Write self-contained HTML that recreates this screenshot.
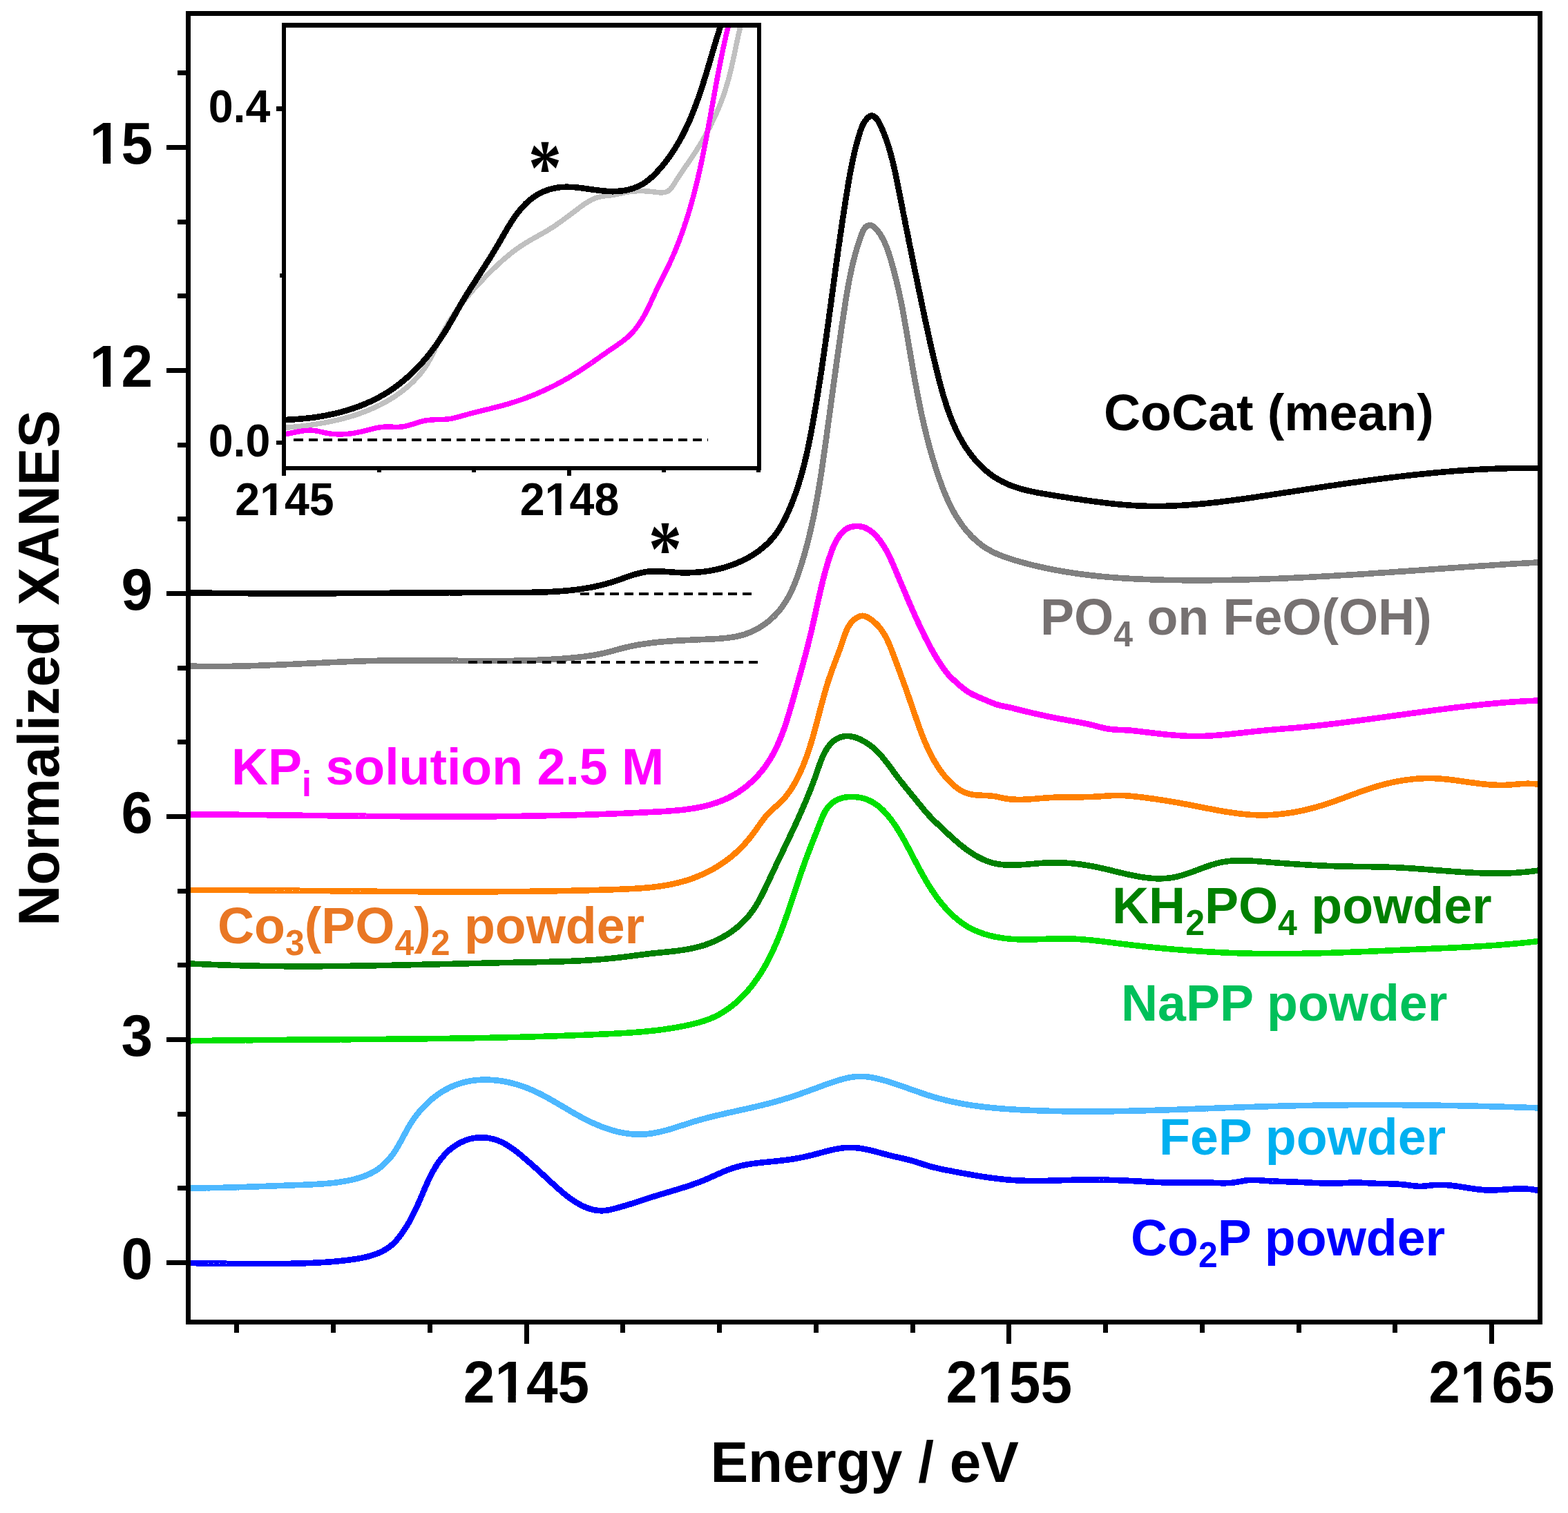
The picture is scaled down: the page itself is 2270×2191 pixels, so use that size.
<!DOCTYPE html>
<html lang="en"><head><meta charset="utf-8"><title>Normalized XANES</title>
<style>html,body{margin:0;padding:0;background:#fff}svg{display:block}text{font-family:"Liberation Sans",Arial,Helvetica,sans-serif;font-weight:bold}.ax{font-size:82px}.in{font-size:64.5px}.lb{font-size:73.5px}.sub{font-size:50px}.st{font-family:"Liberation Serif","DejaVu Serif",serif;font-weight:bold;font-size:114.3px}</style></head><body>
<svg xmlns="http://www.w3.org/2000/svg" width="2270" height="2191" viewBox="0 0 2270 2191">
<rect width="2270" height="2191" fill="#fff"/>
<defs><clipPath id="cm"><rect x="272.5" y="19.5" width="1957.0" height="1895.0"/></clipPath><clipPath id="ci"><rect x="411.3" y="36.5" width="687.7" height="641.7"/></clipPath></defs>
<g clip-path="url(#cm)" fill="none" stroke-linejoin="round" stroke-linecap="butt" shape-rendering="crispEdges">
<path d="M269.5,1828.9 L271.5,1828.9 L273.5,1829.0 L275.5,1829.0 L277.5,1829.1 L279.5,1829.1 L281.5,1829.1 L283.5,1829.2 L285.5,1829.2 L287.5,1829.2 L289.5,1829.3 L291.5,1829.3 L293.5,1829.3 L295.5,1829.4 L297.5,1829.4 L299.5,1829.4 L301.5,1829.5 L303.5,1829.5 L305.5,1829.5 L307.5,1829.5 L309.5,1829.6 L311.5,1829.6 L313.5,1829.6 L315.5,1829.6 L317.5,1829.7 L319.5,1829.7 L321.5,1829.7 L323.5,1829.7 L325.5,1829.7 L327.5,1829.8 L329.5,1829.8 L331.5,1829.8 L333.5,1829.8 L335.5,1829.8 L337.5,1829.8 L339.5,1829.8 L341.5,1829.9 L343.5,1829.9 L345.5,1829.9 L347.5,1829.9 L349.5,1829.9 L351.5,1829.9 L353.5,1829.9 L355.5,1829.9 L357.5,1829.9 L359.5,1829.9 L361.4,1830.0 L363.4,1830.0 L365.4,1830.0 L367.4,1830.0 L369.4,1830.0 L371.4,1830.0 L373.4,1830.0 L375.4,1830.0 L377.4,1830.0 L379.4,1830.0 L381.4,1830.0 L383.4,1830.0 L385.4,1830.0 L387.4,1830.0 L389.4,1830.0 L391.4,1830.0 L393.4,1830.0 L395.5,1830.0 L397.5,1830.0 L399.5,1830.0 L401.5,1830.0 L403.5,1829.9 L405.5,1829.9 L407.5,1829.9 L409.5,1829.9 L411.5,1829.9 L413.5,1829.9 L415.5,1829.8 L417.5,1829.8 L419.5,1829.8 L421.5,1829.8 L423.5,1829.7 L425.5,1829.7 L427.5,1829.7 L429.5,1829.6 L431.5,1829.6 L433.5,1829.5 L435.5,1829.5 L437.5,1829.4 L439.5,1829.3 L441.5,1829.3 L443.5,1829.2 L445.5,1829.1 L447.5,1829.1 L449.5,1829.0 L451.5,1828.9 L453.5,1828.8 L455.5,1828.7 L457.5,1828.6 L459.5,1828.5 L461.5,1828.4 L463.5,1828.3 L465.5,1828.2 L467.5,1828.1 L469.5,1827.9 L471.5,1827.8 L473.4,1827.7 L475.4,1827.5 L477.4,1827.4 L479.4,1827.2 L481.4,1827.0 L483.4,1826.9 L485.4,1826.7 L487.4,1826.5 L489.4,1826.3 L491.4,1826.1 L493.3,1825.9 L495.3,1825.7 L497.3,1825.5 L499.3,1825.3 L501.3,1825.0 L503.3,1824.8 L505.3,1824.5 L507.2,1824.3 L509.2,1824.0 L511.2,1823.7 L513.2,1823.5 L515.1,1823.2 L517.1,1822.9 L519.1,1822.5 L521.0,1822.2 L523.0,1821.8 L525.0,1821.4 L526.9,1821.0 L528.9,1820.6 L530.8,1820.1 L532.8,1819.6 L534.7,1819.1 L536.6,1818.5 L538.5,1818.0 L540.5,1817.3 L542.4,1816.7 L544.2,1816.0 L546.1,1815.3 L548.0,1814.5 L549.8,1813.7 L551.6,1812.8 L553.4,1812.0 L555.2,1811.0 L557.0,1810.0 L558.7,1809.0 L560.4,1808.0 L562.0,1806.8 L563.6,1805.7 L565.2,1804.5 L566.8,1803.2 L568.3,1801.9 L569.7,1800.5 L571.2,1799.1 L572.6,1797.7 L573.9,1796.2 L575.2,1794.7 L576.5,1793.1 L577.8,1791.5 L579.0,1789.9 L580.2,1788.3 L581.4,1786.7 L582.6,1785.1 L583.7,1783.4 L584.8,1781.8 L585.9,1780.1 L587.0,1778.4 L588.1,1776.8 L589.1,1775.1 L590.1,1773.4 L591.1,1771.7 L592.1,1769.9 L593.1,1768.2 L594.0,1766.5 L595.0,1764.7 L595.9,1763.0 L596.8,1761.2 L597.7,1759.4 L598.6,1757.7 L599.5,1755.9 L600.4,1754.1 L601.2,1752.3 L602.1,1750.5 L602.9,1748.7 L603.8,1746.9 L604.6,1745.0 L605.4,1743.2 L606.2,1741.4 L607.0,1739.5 L607.8,1737.7 L608.7,1735.8 L609.4,1734.0 L610.2,1732.1 L611.0,1730.3 L611.8,1728.4 L612.6,1726.5 L613.4,1724.7 L614.2,1722.8 L615.0,1721.0 L615.8,1719.1 L616.6,1717.2 L617.5,1715.4 L618.3,1713.5 L619.1,1711.7 L620.0,1709.9 L620.8,1708.0 L621.7,1706.2 L622.6,1704.4 L623.5,1702.6 L624.4,1700.8 L625.3,1699.0 L626.2,1697.3 L627.2,1695.5 L628.2,1693.8 L629.2,1692.1 L630.2,1690.4 L631.2,1688.7 L632.3,1687.0 L633.3,1685.3 L634.5,1683.7 L635.6,1682.1 L636.7,1680.5 L637.9,1678.9 L639.1,1677.4 L640.4,1675.9 L641.7,1674.4 L643.0,1672.9 L644.3,1671.4 L645.7,1670.0 L647.1,1668.6 L648.5,1667.3 L650.0,1665.9 L651.5,1664.6 L653.1,1663.4 L654.7,1662.1 L656.3,1660.9 L658.0,1659.8 L659.7,1658.6 L661.4,1657.6 L663.1,1656.5 L664.9,1655.5 L666.7,1654.6 L668.6,1653.7 L670.4,1652.8 L672.3,1652.0 L674.2,1651.3 L676.1,1650.6 L678.0,1650.0 L680.0,1649.4 L681.9,1648.9 L683.9,1648.5 L685.8,1648.1 L687.8,1647.8 L689.8,1647.6 L691.7,1647.4 L693.7,1647.3 L695.7,1647.2 L697.7,1647.2 L699.7,1647.3 L701.7,1647.4 L703.6,1647.6 L705.6,1647.8 L707.6,1648.1 L709.5,1648.5 L711.4,1648.9 L713.4,1649.4 L715.3,1649.9 L717.2,1650.5 L719.1,1651.1 L721.0,1651.8 L722.8,1652.5 L724.7,1653.3 L726.5,1654.1 L728.3,1655.0 L730.0,1655.9 L731.8,1656.9 L733.5,1657.9 L735.2,1658.9 L736.9,1660.0 L738.6,1661.1 L740.3,1662.2 L742.0,1663.4 L743.6,1664.6 L745.2,1665.8 L746.8,1667.0 L748.4,1668.3 L750.0,1669.5 L751.6,1670.8 L753.2,1672.1 L754.7,1673.4 L756.3,1674.7 L757.8,1676.0 L759.3,1677.3 L760.8,1678.6 L762.4,1679.9 L763.9,1681.2 L765.4,1682.5 L766.9,1683.8 L768.4,1685.1 L769.8,1686.4 L771.3,1687.7 L772.8,1689.1 L774.3,1690.4 L775.7,1691.7 L777.2,1693.0 L778.7,1694.4 L780.1,1695.7 L781.6,1697.0 L783.0,1698.4 L784.5,1699.7 L786.0,1701.0 L787.4,1702.4 L788.9,1703.7 L790.3,1705.1 L791.8,1706.4 L793.3,1707.8 L794.7,1709.1 L796.2,1710.4 L797.7,1711.8 L799.1,1713.2 L800.6,1714.5 L802.1,1715.9 L803.6,1717.2 L805.1,1718.6 L806.6,1719.9 L808.1,1721.3 L809.6,1722.6 L811.2,1723.9 L812.7,1725.2 L814.2,1726.6 L815.8,1727.9 L817.3,1729.1 L818.9,1730.4 L820.5,1731.7 L822.1,1732.9 L823.7,1734.1 L825.3,1735.3 L827.0,1736.5 L828.6,1737.6 L830.3,1738.8 L831.9,1739.9 L833.6,1740.9 L835.3,1742.0 L837.1,1743.0 L838.8,1743.9 L840.6,1744.9 L842.3,1745.8 L844.1,1746.6 L845.9,1747.5 L847.8,1748.2 L849.6,1749.0 L851.5,1749.7 L853.4,1750.3 L855.3,1750.9 L857.2,1751.4 L859.1,1751.9 L861.1,1752.3 L863.0,1752.6 L865.0,1752.9 L866.9,1753.1 L868.9,1753.2 L870.9,1753.3 L872.8,1753.2 L874.8,1753.1 L876.8,1752.9 L878.8,1752.6 L880.7,1752.3 L882.7,1751.9 L884.7,1751.5 L886.6,1751.0 L888.6,1750.5 L890.5,1750.0 L892.5,1749.5 L894.4,1749.0 L896.4,1748.4 L898.3,1747.9 L900.2,1747.3 L902.2,1746.8 L904.1,1746.2 L906.0,1745.6 L907.9,1745.1 L909.9,1744.5 L911.8,1743.9 L913.7,1743.3 L915.6,1742.7 L917.5,1742.1 L919.4,1741.5 L921.3,1740.8 L923.2,1740.2 L925.1,1739.6 L927.0,1739.0 L928.9,1738.4 L930.8,1737.7 L932.7,1737.1 L934.6,1736.5 L936.5,1735.9 L938.4,1735.3 L940.3,1734.6 L942.2,1734.0 L944.1,1733.4 L946.0,1732.8 L947.9,1732.2 L949.9,1731.6 L951.8,1731.1 L953.7,1730.5 L955.6,1729.9 L957.5,1729.3 L959.4,1728.8 L961.3,1728.2 L963.2,1727.6 L965.2,1727.0 L967.1,1726.5 L969.0,1725.9 L970.9,1725.3 L972.8,1724.8 L974.7,1724.2 L976.6,1723.6 L978.6,1723.0 L980.5,1722.5 L982.4,1721.9 L984.3,1721.3 L986.2,1720.7 L988.1,1720.1 L990.0,1719.5 L991.9,1718.9 L993.8,1718.3 L995.7,1717.7 L997.6,1717.0 L999.5,1716.4 L1001.4,1715.7 L1003.3,1715.1 L1005.2,1714.4 L1007.0,1713.7 L1008.9,1713.1 L1010.8,1712.4 L1012.7,1711.7 L1014.5,1710.9 L1016.4,1710.2 L1018.2,1709.5 L1020.1,1708.7 L1022.0,1707.9 L1023.8,1707.2 L1025.6,1706.4 L1027.5,1705.6 L1029.3,1704.7 L1031.2,1703.9 L1033.0,1703.1 L1034.8,1702.3 L1036.7,1701.4 L1038.5,1700.6 L1040.3,1699.8 L1042.2,1699.0 L1044.0,1698.2 L1045.8,1697.4 L1047.7,1696.6 L1049.5,1695.8 L1051.4,1695.1 L1053.2,1694.3 L1055.1,1693.6 L1057.0,1692.9 L1058.8,1692.3 L1060.7,1691.6 L1062.6,1691.0 L1064.5,1690.4 L1066.4,1689.9 L1068.3,1689.4 L1070.3,1688.9 L1072.2,1688.4 L1074.1,1687.9 L1076.1,1687.5 L1078.0,1687.1 L1080.0,1686.7 L1081.9,1686.4 L1083.9,1686.0 L1085.9,1685.7 L1087.8,1685.4 L1089.8,1685.1 L1091.8,1684.8 L1093.8,1684.6 L1095.8,1684.3 L1097.8,1684.1 L1099.8,1683.8 L1101.8,1683.6 L1103.8,1683.4 L1105.8,1683.2 L1107.8,1683.0 L1109.8,1682.8 L1111.8,1682.6 L1113.8,1682.4 L1115.8,1682.2 L1117.8,1682.0 L1119.8,1681.8 L1121.8,1681.6 L1123.7,1681.4 L1125.7,1681.2 L1127.7,1681.0 L1129.7,1680.8 L1131.7,1680.6 L1133.7,1680.4 L1135.6,1680.1 L1137.6,1679.9 L1139.6,1679.6 L1141.5,1679.4 L1143.5,1679.1 L1145.5,1678.8 L1147.4,1678.5 L1149.4,1678.2 L1151.3,1677.8 L1153.3,1677.5 L1155.2,1677.1 L1157.1,1676.8 L1159.1,1676.4 L1161.0,1676.0 L1163.0,1675.6 L1164.9,1675.2 L1166.8,1674.8 L1168.8,1674.3 L1170.7,1673.9 L1172.6,1673.4 L1174.6,1673.0 L1176.5,1672.5 L1178.5,1672.0 L1180.4,1671.4 L1182.3,1670.9 L1184.3,1670.4 L1186.2,1669.9 L1188.1,1669.4 L1190.1,1668.8 L1192.0,1668.3 L1194.0,1667.8 L1195.9,1667.3 L1197.9,1666.8 L1199.8,1666.3 L1201.7,1665.8 L1203.7,1665.4 L1205.6,1664.9 L1207.6,1664.5 L1209.5,1664.1 L1211.5,1663.8 L1213.4,1663.4 L1215.4,1663.1 L1217.3,1662.8 L1219.3,1662.6 L1221.2,1662.3 L1223.2,1662.1 L1225.2,1662.0 L1227.1,1661.9 L1229.1,1661.8 L1231.0,1661.8 L1233.0,1661.8 L1235.0,1661.9 L1236.9,1662.0 L1238.9,1662.2 L1240.9,1662.3 L1242.9,1662.6 L1244.8,1662.8 L1246.8,1663.1 L1248.8,1663.5 L1250.7,1663.8 L1252.7,1664.2 L1254.7,1664.6 L1256.7,1665.0 L1258.6,1665.5 L1260.6,1665.9 L1262.6,1666.4 L1264.5,1666.9 L1266.5,1667.4 L1268.5,1667.9 L1270.4,1668.4 L1272.4,1669.0 L1274.4,1669.5 L1276.3,1670.0 L1278.3,1670.6 L1280.2,1671.1 L1282.2,1671.6 L1284.1,1672.1 L1286.1,1672.7 L1288.0,1673.2 L1289.9,1673.6 L1291.9,1674.1 L1293.8,1674.6 L1295.7,1675.0 L1297.6,1675.5 L1299.6,1675.9 L1301.5,1676.3 L1303.4,1676.8 L1305.3,1677.2 L1307.2,1677.6 L1309.1,1678.1 L1311.0,1678.5 L1313.0,1679.0 L1314.9,1679.5 L1316.8,1679.9 L1318.7,1680.4 L1320.6,1681.0 L1322.5,1681.5 L1324.4,1682.1 L1326.3,1682.6 L1328.2,1683.3 L1330.1,1683.9 L1332.0,1684.5 L1333.9,1685.1 L1335.9,1685.8 L1337.8,1686.4 L1339.7,1687.0 L1341.6,1687.6 L1343.5,1688.2 L1345.5,1688.7 L1347.4,1689.3 L1349.3,1689.8 L1351.3,1690.3 L1353.2,1690.8 L1355.1,1691.2 L1357.1,1691.7 L1359.0,1692.1 L1361.0,1692.6 L1362.9,1693.0 L1364.9,1693.4 L1366.8,1693.8 L1368.8,1694.2 L1370.7,1694.6 L1372.7,1695.0 L1374.7,1695.3 L1376.6,1695.7 L1378.6,1696.1 L1380.5,1696.5 L1382.5,1696.9 L1384.5,1697.2 L1386.4,1697.6 L1388.4,1698.0 L1390.4,1698.3 L1392.3,1698.7 L1394.3,1699.1 L1396.3,1699.4 L1398.2,1699.8 L1400.2,1700.1 L1402.2,1700.5 L1404.2,1700.8 L1406.1,1701.2 L1408.1,1701.5 L1410.1,1701.9 L1412.0,1702.2 L1414.0,1702.5 L1416.0,1702.9 L1418.0,1703.2 L1420.0,1703.5 L1421.9,1703.8 L1423.9,1704.1 L1425.9,1704.4 L1427.9,1704.7 L1429.9,1705.0 L1431.8,1705.3 L1433.8,1705.5 L1435.8,1705.8 L1437.8,1706.1 L1439.8,1706.3 L1441.8,1706.6 L1443.7,1706.8 L1445.7,1707.0 L1447.7,1707.3 L1449.7,1707.5 L1451.7,1707.7 L1453.7,1707.9 L1455.7,1708.1 L1457.7,1708.3 L1459.6,1708.4 L1461.6,1708.6 L1463.6,1708.8 L1465.6,1708.9 L1467.6,1709.1 L1469.6,1709.2 L1471.6,1709.3 L1473.6,1709.4 L1475.6,1709.5 L1477.6,1709.6 L1479.6,1709.7 L1481.6,1709.7 L1483.6,1709.8 L1485.6,1709.8 L1487.6,1709.9 L1489.5,1709.9 L1491.5,1710.0 L1493.5,1710.0 L1495.5,1710.0 L1497.5,1710.0 L1499.5,1710.0 L1501.5,1710.0 L1503.5,1710.0 L1505.5,1710.0 L1507.5,1709.9 L1509.5,1709.9 L1511.5,1709.9 L1513.5,1709.8 L1515.5,1709.8 L1517.5,1709.8 L1519.5,1709.7 L1521.5,1709.7 L1523.5,1709.6 L1525.5,1709.5 L1527.5,1709.5 L1529.5,1709.4 L1531.5,1709.4 L1533.5,1709.3 L1535.5,1709.3 L1537.5,1709.2 L1539.5,1709.1 L1541.5,1709.1 L1543.5,1709.0 L1545.5,1709.0 L1547.5,1708.9 L1549.5,1708.8 L1551.5,1708.8 L1553.5,1708.7 L1555.5,1708.7 L1557.5,1708.6 L1559.5,1708.6 L1561.5,1708.5 L1563.5,1708.5 L1565.5,1708.5 L1567.5,1708.5 L1569.5,1708.4 L1571.5,1708.4 L1573.5,1708.4 L1575.5,1708.4 L1577.5,1708.4 L1579.5,1708.4 L1581.5,1708.4 L1583.5,1708.4 L1585.5,1708.4 L1587.5,1708.4 L1589.5,1708.4 L1591.5,1708.5 L1593.5,1708.5 L1595.5,1708.5 L1597.5,1708.6 L1599.5,1708.6 L1601.4,1708.7 L1603.4,1708.7 L1605.4,1708.8 L1607.4,1708.8 L1609.4,1708.9 L1611.4,1708.9 L1613.4,1709.0 L1615.4,1709.1 L1617.4,1709.1 L1619.4,1709.2 L1621.4,1709.3 L1623.4,1709.4 L1625.4,1709.5 L1627.4,1709.5 L1629.4,1709.6 L1631.4,1709.7 L1633.4,1709.8 L1635.3,1709.9 L1637.3,1710.0 L1639.3,1710.1 L1641.3,1710.2 L1643.3,1710.3 L1645.3,1710.4 L1647.3,1710.5 L1649.3,1710.6 L1651.3,1710.7 L1653.3,1710.8 L1655.3,1711.0 L1657.3,1711.1 L1659.3,1711.2 L1661.3,1711.3 L1663.3,1711.4 L1665.3,1711.5 L1667.3,1711.6 L1669.3,1711.7 L1671.3,1711.8 L1673.3,1711.9 L1675.3,1712.0 L1677.2,1712.0 L1679.2,1712.1 L1681.2,1712.2 L1683.2,1712.3 L1685.2,1712.3 L1687.2,1712.4 L1689.2,1712.4 L1691.2,1712.4 L1693.2,1712.5 L1695.2,1712.5 L1697.2,1712.5 L1699.2,1712.5 L1701.2,1712.5 L1703.2,1712.5 L1705.2,1712.5 L1707.2,1712.5 L1709.2,1712.4 L1711.2,1712.4 L1713.2,1712.4 L1715.2,1712.4 L1717.2,1712.4 L1719.2,1712.3 L1721.1,1712.3 L1723.1,1712.3 L1725.1,1712.3 L1727.1,1712.3 L1729.1,1712.2 L1731.1,1712.2 L1733.1,1712.2 L1735.1,1712.2 L1737.1,1712.2 L1739.1,1712.3 L1741.1,1712.3 L1743.1,1712.3 L1745.1,1712.4 L1747.2,1712.4 L1749.2,1712.5 L1751.2,1712.6 L1753.2,1712.6 L1755.2,1712.7 L1757.2,1712.8 L1759.2,1712.9 L1761.2,1713.0 L1763.2,1713.1 L1765.2,1713.1 L1767.2,1713.2 L1769.2,1713.2 L1771.2,1713.2 L1773.2,1713.2 L1775.2,1713.2 L1777.2,1713.1 L1779.2,1713.1 L1781.2,1712.9 L1783.1,1712.8 L1785.1,1712.6 L1787.1,1712.3 L1789.1,1712.0 L1791.0,1711.7 L1793.0,1711.4 L1794.9,1711.0 L1796.9,1710.7 L1798.9,1710.3 L1800.8,1710.0 L1802.8,1709.6 L1804.7,1709.4 L1806.7,1709.1 L1808.7,1708.9 L1810.6,1708.8 L1812.6,1708.8 L1814.6,1708.8 L1816.6,1708.8 L1818.6,1708.9 L1820.6,1709.0 L1822.5,1709.1 L1824.5,1709.3 L1826.5,1709.5 L1828.5,1709.6 L1830.5,1709.8 L1832.5,1709.9 L1834.5,1710.0 L1836.5,1710.1 L1838.5,1710.3 L1840.5,1710.4 L1842.5,1710.5 L1844.5,1710.5 L1846.5,1710.6 L1848.4,1710.7 L1850.4,1710.8 L1852.4,1710.9 L1854.4,1710.9 L1856.4,1711.0 L1858.4,1711.1 L1860.4,1711.1 L1862.4,1711.2 L1864.4,1711.3 L1866.4,1711.3 L1868.4,1711.4 L1870.4,1711.5 L1872.4,1711.5 L1874.4,1711.6 L1876.4,1711.7 L1878.4,1711.8 L1880.4,1711.9 L1882.3,1712.0 L1884.3,1712.1 L1886.3,1712.1 L1888.3,1712.2 L1890.3,1712.3 L1892.3,1712.4 L1894.3,1712.5 L1896.3,1712.6 L1898.3,1712.7 L1900.3,1712.8 L1902.3,1712.9 L1904.3,1713.0 L1906.3,1713.1 L1908.3,1713.1 L1910.3,1713.2 L1912.2,1713.3 L1914.2,1713.3 L1916.2,1713.4 L1918.2,1713.4 L1920.2,1713.5 L1922.2,1713.5 L1924.2,1713.5 L1926.2,1713.5 L1928.2,1713.5 L1930.2,1713.5 L1932.1,1713.5 L1934.1,1713.5 L1936.1,1713.4 L1938.1,1713.4 L1940.1,1713.3 L1942.1,1713.3 L1944.1,1713.2 L1946.1,1713.1 L1948.0,1713.0 L1950.0,1712.9 L1952.0,1712.8 L1954.0,1712.7 L1956.0,1712.7 L1958.0,1712.6 L1960.0,1712.6 L1961.9,1712.6 L1963.9,1712.6 L1965.9,1712.6 L1967.9,1712.7 L1969.9,1712.7 L1971.9,1712.8 L1973.9,1712.9 L1975.9,1713.0 L1977.8,1713.1 L1979.8,1713.2 L1981.8,1713.3 L1983.8,1713.4 L1985.8,1713.5 L1987.8,1713.6 L1989.8,1713.7 L1991.8,1713.8 L1993.8,1713.8 L1995.8,1713.9 L1997.7,1713.9 L1999.7,1714.0 L2001.7,1714.0 L2003.7,1714.1 L2005.7,1714.1 L2007.7,1714.1 L2009.7,1714.2 L2011.7,1714.2 L2013.7,1714.3 L2015.7,1714.4 L2017.7,1714.4 L2019.6,1714.5 L2021.6,1714.6 L2023.6,1714.7 L2025.6,1714.9 L2027.6,1715.0 L2029.5,1715.2 L2031.5,1715.4 L2033.5,1715.6 L2035.5,1715.8 L2037.4,1716.1 L2039.4,1716.3 L2041.4,1716.6 L2043.3,1716.9 L2045.3,1717.1 L2047.3,1717.3 L2049.2,1717.5 L2051.2,1717.7 L2053.1,1717.8 L2055.1,1717.8 L2057.1,1717.8 L2059.1,1717.8 L2061.0,1717.6 L2063.0,1717.5 L2065.0,1717.3 L2067.0,1717.1 L2068.9,1716.9 L2070.9,1716.6 L2072.9,1716.4 L2074.9,1716.2 L2076.9,1716.1 L2078.8,1715.9 L2080.8,1715.8 L2082.8,1715.8 L2084.8,1715.8 L2086.8,1715.8 L2088.7,1715.8 L2090.7,1715.9 L2092.7,1716.0 L2094.7,1716.1 L2096.7,1716.3 L2098.7,1716.5 L2100.6,1716.7 L2102.6,1716.9 L2104.6,1717.2 L2106.6,1717.4 L2108.6,1717.7 L2110.6,1718.0 L2112.6,1718.3 L2114.5,1718.6 L2116.5,1718.9 L2118.5,1719.2 L2120.5,1719.5 L2122.5,1719.8 L2124.5,1720.2 L2126.5,1720.5 L2128.5,1720.8 L2130.4,1721.1 L2132.4,1721.4 L2134.4,1721.7 L2136.4,1721.9 L2138.4,1722.2 L2140.4,1722.4 L2142.4,1722.6 L2144.4,1722.8 L2146.4,1723.0 L2148.4,1723.2 L2150.4,1723.3 L2152.3,1723.4 L2154.3,1723.5 L2156.3,1723.5 L2158.3,1723.5 L2160.3,1723.5 L2162.3,1723.5 L2164.3,1723.4 L2166.3,1723.3 L2168.3,1723.2 L2170.3,1723.1 L2172.3,1723.0 L2174.3,1722.9 L2176.3,1722.7 L2178.3,1722.6 L2180.3,1722.5 L2182.3,1722.3 L2184.3,1722.2 L2186.3,1722.0 L2188.3,1721.9 L2190.3,1721.8 L2192.3,1721.7 L2194.3,1721.6 L2196.3,1721.5 L2198.3,1721.5 L2200.3,1721.4 L2202.3,1721.4 L2204.3,1721.4 L2206.3,1721.5 L2208.3,1721.6 L2210.2,1721.7 L2212.2,1721.8 L2214.2,1722.0 L2216.2,1722.2 L2218.2,1722.5 L2220.2,1722.8 L2222.2,1723.1 L2224.2,1723.5 L2226.2,1724.0 L2228.2,1724.5 L2230.2,1725.1 L2232.2,1725.7" stroke="#0000ff" stroke-width="8.6"/>
<path d="M269.5,1720.5 L271.5,1720.5 L273.5,1720.5 L275.5,1720.4 L277.5,1720.4 L279.5,1720.4 L281.5,1720.4 L283.5,1720.4 L285.5,1720.4 L287.5,1720.4 L289.5,1720.4 L291.5,1720.3 L293.5,1720.3 L295.5,1720.3 L297.5,1720.3 L299.5,1720.2 L301.5,1720.2 L303.5,1720.2 L305.5,1720.1 L307.5,1720.1 L309.5,1720.1 L311.5,1720.0 L313.5,1720.0 L315.5,1719.9 L317.5,1719.9 L319.5,1719.9 L321.5,1719.8 L323.5,1719.8 L325.5,1719.7 L327.5,1719.7 L329.5,1719.6 L331.5,1719.6 L333.5,1719.5 L335.5,1719.5 L337.5,1719.4 L339.5,1719.4 L341.5,1719.3 L343.5,1719.2 L345.5,1719.2 L347.5,1719.1 L349.5,1719.1 L351.5,1719.0 L353.5,1718.9 L355.5,1718.9 L357.4,1718.8 L359.4,1718.7 L361.4,1718.7 L363.4,1718.6 L365.4,1718.5 L367.4,1718.5 L369.4,1718.4 L371.4,1718.3 L373.4,1718.3 L375.4,1718.2 L377.4,1718.1 L379.4,1718.0 L381.4,1718.0 L383.4,1717.9 L385.4,1717.8 L387.4,1717.7 L389.4,1717.7 L391.4,1717.6 L393.4,1717.5 L395.4,1717.4 L397.4,1717.4 L399.4,1717.3 L401.4,1717.2 L403.4,1717.1 L405.4,1717.1 L407.4,1717.0 L409.4,1716.9 L411.4,1716.8 L413.4,1716.7 L415.4,1716.7 L417.4,1716.6 L419.4,1716.5 L421.4,1716.4 L423.4,1716.4 L425.4,1716.3 L427.4,1716.2 L429.4,1716.1 L431.4,1716.1 L433.4,1716.0 L435.4,1715.9 L437.4,1715.8 L439.4,1715.8 L441.4,1715.7 L443.4,1715.6 L445.4,1715.5 L447.4,1715.4 L449.4,1715.3 L451.4,1715.3 L453.4,1715.2 L455.4,1715.1 L457.4,1715.0 L459.4,1714.8 L461.4,1714.7 L463.4,1714.6 L465.4,1714.5 L467.4,1714.3 L469.4,1714.2 L471.4,1714.0 L473.4,1713.9 L475.4,1713.7 L477.3,1713.5 L479.3,1713.3 L481.3,1713.1 L483.3,1712.9 L485.3,1712.6 L487.3,1712.4 L489.3,1712.1 L491.2,1711.8 L493.2,1711.5 L495.2,1711.2 L497.2,1710.9 L499.1,1710.6 L501.1,1710.2 L503.1,1709.8 L505.1,1709.4 L507.0,1709.0 L509.0,1708.6 L510.9,1708.1 L512.9,1707.6 L514.8,1707.1 L516.8,1706.6 L518.7,1706.0 L520.6,1705.5 L522.5,1704.9 L524.4,1704.2 L526.3,1703.6 L528.2,1702.9 L530.0,1702.1 L531.9,1701.4 L533.7,1700.6 L535.5,1699.7 L537.3,1698.9 L539.0,1697.9 L540.8,1697.0 L542.5,1696.0 L544.2,1695.0 L545.8,1693.9 L547.4,1692.8 L549.0,1691.6 L550.6,1690.4 L552.2,1689.1 L553.7,1687.9 L555.2,1686.6 L556.6,1685.2 L558.1,1683.8 L559.5,1682.4 L560.9,1681.0 L562.2,1679.5 L563.5,1678.0 L564.8,1676.4 L566.1,1674.9 L567.3,1673.3 L568.5,1671.7 L569.7,1670.1 L570.8,1668.5 L571.9,1666.8 L573.0,1665.1 L574.1,1663.4 L575.1,1661.7 L576.1,1660.0 L577.1,1658.3 L578.1,1656.6 L579.1,1654.8 L580.1,1653.1 L581.0,1651.3 L582.0,1649.5 L582.9,1647.8 L583.9,1646.0 L584.8,1644.2 L585.8,1642.4 L586.7,1640.7 L587.7,1638.9 L588.7,1637.1 L589.6,1635.4 L590.6,1633.6 L591.6,1631.9 L592.7,1630.2 L593.7,1628.4 L594.8,1626.7 L595.9,1625.0 L597.0,1623.3 L598.1,1621.7 L599.2,1620.0 L600.4,1618.4 L601.6,1616.7 L602.8,1615.1 L604.1,1613.5 L605.3,1612.0 L606.6,1610.4 L607.9,1608.9 L609.2,1607.3 L610.5,1605.8 L611.9,1604.4 L613.3,1602.9 L614.7,1601.4 L616.1,1600.0 L617.5,1598.6 L619.0,1597.2 L620.4,1595.9 L621.9,1594.5 L623.4,1593.2 L624.9,1591.9 L626.5,1590.6 L628.0,1589.4 L629.6,1588.2 L631.2,1587.0 L632.8,1585.8 L634.4,1584.6 L636.0,1583.5 L637.7,1582.4 L639.4,1581.4 L641.0,1580.3 L642.7,1579.3 L644.4,1578.3 L646.2,1577.4 L647.9,1576.5 L649.7,1575.6 L651.4,1574.7 L653.2,1573.9 L655.0,1573.1 L656.8,1572.3 L658.6,1571.5 L660.5,1570.8 L662.3,1570.2 L664.2,1569.5 L666.1,1568.9 L667.9,1568.3 L669.8,1567.8 L671.8,1567.3 L673.7,1566.8 L675.6,1566.4 L677.5,1566.0 L679.5,1565.6 L681.4,1565.3 L683.4,1565.0 L685.4,1564.7 L687.4,1564.5 L689.3,1564.3 L691.3,1564.1 L693.3,1563.9 L695.3,1563.8 L697.3,1563.7 L699.3,1563.7 L701.4,1563.6 L703.4,1563.6 L705.4,1563.6 L707.4,1563.7 L709.4,1563.8 L711.5,1563.9 L713.5,1564.0 L715.5,1564.2 L717.5,1564.4 L719.6,1564.6 L721.6,1564.8 L723.6,1565.1 L725.6,1565.4 L727.6,1565.7 L729.6,1566.1 L731.7,1566.4 L733.7,1566.8 L735.6,1567.3 L737.6,1567.7 L739.6,1568.2 L741.6,1568.7 L743.6,1569.2 L745.5,1569.7 L747.5,1570.2 L749.4,1570.8 L751.4,1571.4 L753.3,1572.0 L755.2,1572.7 L757.1,1573.3 L759.0,1574.0 L760.9,1574.7 L762.8,1575.4 L764.7,1576.2 L766.5,1576.9 L768.3,1577.7 L770.2,1578.5 L772.0,1579.3 L773.8,1580.1 L775.6,1581.0 L777.4,1581.8 L779.2,1582.7 L781.0,1583.5 L782.7,1584.4 L784.5,1585.3 L786.3,1586.2 L788.0,1587.2 L789.7,1588.1 L791.5,1589.1 L793.2,1590.0 L795.0,1591.0 L796.7,1591.9 L798.4,1592.9 L800.1,1593.9 L801.8,1594.9 L803.5,1595.9 L805.3,1596.9 L807.0,1597.9 L808.7,1598.9 L810.4,1599.9 L812.1,1600.9 L813.8,1601.9 L815.5,1602.9 L817.2,1603.9 L818.9,1604.9 L820.6,1605.9 L822.3,1607.0 L824.1,1608.0 L825.8,1609.0 L827.5,1610.0 L829.2,1611.0 L830.9,1612.0 L832.7,1612.9 L834.4,1613.9 L836.2,1614.9 L837.9,1615.9 L839.7,1616.8 L841.4,1617.8 L843.2,1618.7 L845.0,1619.6 L846.8,1620.6 L848.5,1621.5 L850.3,1622.4 L852.2,1623.3 L854.0,1624.1 L855.8,1625.0 L857.6,1625.9 L859.5,1626.7 L861.3,1627.5 L863.2,1628.3 L865.0,1629.1 L866.9,1629.9 L868.8,1630.6 L870.6,1631.4 L872.5,1632.1 L874.4,1632.8 L876.3,1633.5 L878.2,1634.1 L880.1,1634.8 L882.0,1635.4 L883.9,1636.0 L885.8,1636.6 L887.8,1637.1 L889.7,1637.7 L891.6,1638.2 L893.5,1638.7 L895.5,1639.1 L897.4,1639.6 L899.4,1640.0 L901.3,1640.4 L903.2,1640.7 L905.2,1641.0 L907.1,1641.3 L909.1,1641.6 L911.0,1641.9 L913.0,1642.1 L915.0,1642.3 L916.9,1642.4 L918.9,1642.6 L920.8,1642.6 L922.8,1642.7 L924.7,1642.7 L926.7,1642.7 L928.7,1642.7 L930.6,1642.6 L932.6,1642.5 L934.5,1642.4 L936.5,1642.2 L938.4,1642.0 L940.4,1641.7 L942.3,1641.5 L944.3,1641.2 L946.2,1640.9 L948.2,1640.5 L950.1,1640.1 L952.1,1639.7 L954.0,1639.3 L956.0,1638.9 L957.9,1638.4 L959.9,1637.9 L961.8,1637.4 L963.8,1636.9 L965.7,1636.4 L967.6,1635.8 L969.6,1635.3 L971.5,1634.7 L973.5,1634.1 L975.4,1633.5 L977.4,1632.9 L979.3,1632.3 L981.2,1631.7 L983.2,1631.1 L985.1,1630.4 L987.1,1629.8 L989.0,1629.2 L990.9,1628.6 L992.9,1627.9 L994.8,1627.3 L996.8,1626.7 L998.7,1626.1 L1000.6,1625.5 L1002.6,1624.9 L1004.5,1624.3 L1006.4,1623.7 L1008.4,1623.1 L1010.3,1622.6 L1012.3,1622.0 L1014.2,1621.5 L1016.1,1620.9 L1018.1,1620.4 L1020.0,1619.9 L1022.0,1619.3 L1023.9,1618.8 L1025.8,1618.3 L1027.8,1617.8 L1029.7,1617.3 L1031.6,1616.9 L1033.6,1616.4 L1035.5,1615.9 L1037.5,1615.4 L1039.4,1615.0 L1041.3,1614.5 L1043.3,1614.1 L1045.2,1613.6 L1047.1,1613.2 L1049.1,1612.7 L1051.0,1612.3 L1053.0,1611.8 L1054.9,1611.4 L1056.8,1611.0 L1058.8,1610.5 L1060.7,1610.1 L1062.6,1609.7 L1064.6,1609.2 L1066.5,1608.8 L1068.5,1608.4 L1070.4,1607.9 L1072.3,1607.5 L1074.3,1607.1 L1076.2,1606.7 L1078.1,1606.2 L1080.1,1605.8 L1082.0,1605.4 L1083.9,1604.9 L1085.9,1604.5 L1087.8,1604.0 L1089.7,1603.6 L1091.7,1603.2 L1093.6,1602.7 L1095.5,1602.3 L1097.5,1601.8 L1099.4,1601.3 L1101.3,1600.9 L1103.3,1600.4 L1105.2,1599.9 L1107.2,1599.4 L1109.1,1598.9 L1111.0,1598.5 L1113.0,1598.0 L1114.9,1597.4 L1116.8,1596.9 L1118.8,1596.4 L1120.7,1595.9 L1122.6,1595.3 L1124.5,1594.8 L1126.5,1594.2 L1128.4,1593.7 L1130.3,1593.1 L1132.3,1592.5 L1134.2,1592.0 L1136.1,1591.4 L1138.0,1590.8 L1140.0,1590.2 L1141.9,1589.6 L1143.8,1589.0 L1145.7,1588.3 L1147.6,1587.7 L1149.6,1587.1 L1151.5,1586.4 L1153.4,1585.8 L1155.3,1585.2 L1157.2,1584.5 L1159.1,1583.8 L1161.0,1583.2 L1162.8,1582.5 L1164.7,1581.8 L1166.6,1581.2 L1168.5,1580.5 L1170.4,1579.8 L1172.2,1579.1 L1174.1,1578.4 L1176.0,1577.7 L1177.8,1577.0 L1179.7,1576.3 L1181.6,1575.7 L1183.4,1575.0 L1185.3,1574.3 L1187.2,1573.6 L1189.1,1572.9 L1190.9,1572.2 L1192.8,1571.5 L1194.7,1570.9 L1196.6,1570.2 L1198.5,1569.5 L1200.4,1568.9 L1202.3,1568.2 L1204.2,1567.6 L1206.1,1567.0 L1208.0,1566.3 L1209.9,1565.7 L1211.8,1565.1 L1213.8,1564.5 L1215.7,1563.9 L1217.6,1563.4 L1219.6,1562.8 L1221.5,1562.3 L1223.5,1561.8 L1225.4,1561.3 L1227.4,1560.9 L1229.4,1560.5 L1231.3,1560.1 L1233.3,1559.8 L1235.2,1559.5 L1237.2,1559.3 L1239.2,1559.1 L1241.2,1558.9 L1243.1,1558.8 L1245.1,1558.8 L1247.1,1558.8 L1249.0,1558.9 L1251.0,1559.0 L1252.9,1559.1 L1254.9,1559.3 L1256.9,1559.5 L1258.8,1559.8 L1260.8,1560.1 L1262.7,1560.4 L1264.7,1560.8 L1266.6,1561.2 L1268.6,1561.6 L1270.5,1562.1 L1272.5,1562.6 L1274.4,1563.1 L1276.4,1563.6 L1278.3,1564.1 L1280.2,1564.7 L1282.2,1565.2 L1284.1,1565.8 L1286.0,1566.4 L1287.9,1567.0 L1289.8,1567.6 L1291.7,1568.2 L1293.7,1568.8 L1295.6,1569.5 L1297.5,1570.1 L1299.4,1570.7 L1301.3,1571.4 L1303.2,1572.0 L1305.1,1572.7 L1307.0,1573.3 L1308.8,1574.0 L1310.7,1574.7 L1312.6,1575.3 L1314.5,1576.0 L1316.4,1576.7 L1318.3,1577.3 L1320.2,1578.0 L1322.1,1578.7 L1323.9,1579.3 L1325.8,1580.0 L1327.7,1580.7 L1329.6,1581.3 L1331.5,1582.0 L1333.4,1582.6 L1335.3,1583.3 L1337.2,1583.9 L1339.1,1584.5 L1340.9,1585.2 L1342.8,1585.8 L1344.7,1586.4 L1346.6,1587.0 L1348.5,1587.6 L1350.4,1588.2 L1352.4,1588.7 L1354.3,1589.3 L1356.2,1589.8 L1358.1,1590.4 L1360.0,1590.9 L1361.9,1591.4 L1363.9,1591.9 L1365.8,1592.4 L1367.7,1592.9 L1369.6,1593.4 L1371.6,1593.8 L1373.5,1594.3 L1375.5,1594.7 L1377.4,1595.2 L1379.3,1595.6 L1381.3,1596.0 L1383.2,1596.4 L1385.2,1596.8 L1387.1,1597.2 L1389.1,1597.6 L1391.1,1597.9 L1393.0,1598.3 L1395.0,1598.7 L1396.9,1599.0 L1398.9,1599.3 L1400.9,1599.7 L1402.8,1600.0 L1404.8,1600.3 L1406.8,1600.6 L1408.8,1600.9 L1410.7,1601.2 L1412.7,1601.4 L1414.7,1601.7 L1416.7,1602.0 L1418.7,1602.2 L1420.6,1602.5 L1422.6,1602.7 L1424.6,1603.0 L1426.6,1603.2 L1428.6,1603.4 L1430.6,1603.6 L1432.6,1603.8 L1434.6,1604.0 L1436.6,1604.2 L1438.6,1604.4 L1440.5,1604.6 L1442.5,1604.8 L1444.5,1605.0 L1446.5,1605.1 L1448.5,1605.3 L1450.5,1605.5 L1452.5,1605.6 L1454.5,1605.8 L1456.5,1605.9 L1458.5,1606.1 L1460.5,1606.2 L1462.5,1606.3 L1464.6,1606.5 L1466.6,1606.6 L1468.6,1606.7 L1470.6,1606.8 L1472.6,1606.9 L1474.6,1607.0 L1476.6,1607.2 L1478.6,1607.3 L1480.6,1607.4 L1482.6,1607.5 L1484.6,1607.6 L1486.6,1607.6 L1488.6,1607.7 L1490.6,1607.8 L1492.6,1607.9 L1494.6,1608.0 L1496.6,1608.1 L1498.6,1608.1 L1500.6,1608.2 L1502.6,1608.3 L1504.6,1608.4 L1506.7,1608.4 L1508.7,1608.5 L1510.7,1608.6 L1512.7,1608.6 L1514.7,1608.7 L1516.7,1608.7 L1518.7,1608.8 L1520.7,1608.8 L1522.7,1608.9 L1524.7,1608.9 L1526.7,1609.0 L1528.7,1609.0 L1530.7,1609.1 L1532.7,1609.1 L1534.7,1609.1 L1536.7,1609.2 L1538.7,1609.2 L1540.7,1609.2 L1542.7,1609.3 L1544.7,1609.3 L1546.7,1609.3 L1548.7,1609.3 L1550.7,1609.4 L1552.7,1609.4 L1554.7,1609.4 L1556.7,1609.4 L1558.7,1609.4 L1560.7,1609.4 L1562.7,1609.5 L1564.7,1609.5 L1566.7,1609.5 L1568.7,1609.5 L1570.7,1609.5 L1572.7,1609.5 L1574.7,1609.5 L1576.7,1609.5 L1578.7,1609.5 L1580.7,1609.5 L1582.7,1609.5 L1584.7,1609.5 L1586.7,1609.4 L1588.7,1609.4 L1590.7,1609.4 L1592.7,1609.4 L1594.7,1609.4 L1596.7,1609.4 L1598.7,1609.4 L1600.7,1609.3 L1602.7,1609.3 L1604.7,1609.3 L1606.7,1609.3 L1608.7,1609.2 L1610.7,1609.2 L1612.7,1609.2 L1614.7,1609.1 L1616.7,1609.1 L1618.7,1609.1 L1620.7,1609.1 L1622.7,1609.0 L1624.7,1609.0 L1626.7,1608.9 L1628.7,1608.9 L1630.7,1608.9 L1632.7,1608.8 L1634.7,1608.8 L1636.7,1608.7 L1638.7,1608.7 L1640.7,1608.6 L1642.7,1608.6 L1644.7,1608.6 L1646.7,1608.5 L1648.7,1608.5 L1650.7,1608.4 L1652.7,1608.4 L1654.7,1608.3 L1656.7,1608.2 L1658.6,1608.2 L1660.6,1608.1 L1662.6,1608.1 L1664.6,1608.0 L1666.6,1608.0 L1668.6,1607.9 L1670.6,1607.9 L1672.6,1607.8 L1674.6,1607.7 L1676.6,1607.7 L1678.6,1607.6 L1680.6,1607.5 L1682.6,1607.5 L1684.6,1607.4 L1686.6,1607.4 L1688.6,1607.3 L1690.6,1607.2 L1692.6,1607.2 L1694.6,1607.1 L1696.6,1607.0 L1698.6,1607.0 L1700.6,1606.9 L1702.6,1606.8 L1704.6,1606.8 L1706.6,1606.7 L1708.6,1606.6 L1710.6,1606.5 L1712.6,1606.5 L1714.6,1606.4 L1716.6,1606.3 L1718.6,1606.3 L1720.5,1606.2 L1722.5,1606.1 L1724.5,1606.0 L1726.5,1606.0 L1728.5,1605.9 L1730.5,1605.8 L1732.5,1605.7 L1734.5,1605.7 L1736.5,1605.6 L1738.5,1605.5 L1740.5,1605.5 L1742.5,1605.4 L1744.5,1605.3 L1746.5,1605.2 L1748.5,1605.2 L1750.5,1605.1 L1752.5,1605.0 L1754.5,1604.9 L1756.5,1604.9 L1758.5,1604.8 L1760.5,1604.7 L1762.5,1604.6 L1764.5,1604.6 L1766.5,1604.5 L1768.5,1604.4 L1770.5,1604.3 L1772.5,1604.3 L1774.4,1604.2 L1776.4,1604.1 L1778.4,1604.1 L1780.4,1604.0 L1782.4,1603.9 L1784.4,1603.8 L1786.4,1603.8 L1788.4,1603.7 L1790.4,1603.6 L1792.4,1603.6 L1794.4,1603.5 L1796.4,1603.4 L1798.4,1603.4 L1800.4,1603.3 L1802.4,1603.2 L1804.4,1603.1 L1806.4,1603.1 L1808.4,1603.0 L1810.4,1603.0 L1812.4,1602.9 L1814.4,1602.8 L1816.4,1602.8 L1818.4,1602.7 L1820.4,1602.6 L1822.4,1602.6 L1824.4,1602.5 L1826.4,1602.4 L1828.4,1602.4 L1830.4,1602.3 L1832.4,1602.3 L1834.4,1602.2 L1836.4,1602.2 L1838.4,1602.1 L1840.4,1602.0 L1842.4,1602.0 L1844.4,1601.9 L1846.3,1601.9 L1848.3,1601.8 L1850.3,1601.8 L1852.3,1601.7 L1854.3,1601.7 L1856.3,1601.6 L1858.3,1601.6 L1860.3,1601.5 L1862.3,1601.5 L1864.3,1601.4 L1866.3,1601.4 L1868.3,1601.4 L1870.3,1601.3 L1872.3,1601.3 L1874.3,1601.2 L1876.3,1601.2 L1878.3,1601.1 L1880.3,1601.1 L1882.3,1601.1 L1884.3,1601.0 L1886.3,1601.0 L1888.3,1601.0 L1890.3,1600.9 L1892.3,1600.9 L1894.3,1600.9 L1896.3,1600.8 L1898.3,1600.8 L1900.3,1600.8 L1902.3,1600.7 L1904.3,1600.7 L1906.3,1600.7 L1908.3,1600.6 L1910.3,1600.6 L1912.3,1600.6 L1914.3,1600.5 L1916.3,1600.5 L1918.3,1600.5 L1920.3,1600.5 L1922.3,1600.4 L1924.3,1600.4 L1926.3,1600.4 L1928.3,1600.4 L1930.3,1600.4 L1932.3,1600.3 L1934.3,1600.3 L1936.3,1600.3 L1938.3,1600.3 L1940.3,1600.3 L1942.3,1600.2 L1944.3,1600.2 L1946.3,1600.2 L1948.3,1600.2 L1950.3,1600.2 L1952.3,1600.2 L1954.3,1600.1 L1956.3,1600.1 L1958.3,1600.1 L1960.3,1600.1 L1962.3,1600.1 L1964.3,1600.1 L1966.3,1600.1 L1968.3,1600.1 L1970.3,1600.1 L1972.3,1600.1 L1974.3,1600.1 L1976.3,1600.0 L1978.3,1600.0 L1980.3,1600.0 L1982.3,1600.0 L1984.3,1600.0 L1986.3,1600.0 L1988.3,1600.0 L1990.3,1600.0 L1992.3,1600.0 L1994.3,1600.0 L1996.3,1600.0 L1998.3,1600.0 L2000.3,1600.0 L2002.3,1600.0 L2004.3,1600.0 L2006.3,1600.0 L2008.3,1600.1 L2010.3,1600.1 L2012.3,1600.1 L2014.3,1600.1 L2016.3,1600.1 L2018.3,1600.1 L2020.3,1600.1 L2022.3,1600.1 L2024.3,1600.1 L2026.3,1600.1 L2028.3,1600.1 L2030.3,1600.2 L2032.3,1600.2 L2034.3,1600.2 L2036.3,1600.2 L2038.3,1600.2 L2040.3,1600.2 L2042.3,1600.2 L2044.3,1600.3 L2046.3,1600.3 L2048.3,1600.3 L2050.3,1600.3 L2052.3,1600.3 L2054.3,1600.4 L2056.3,1600.4 L2058.3,1600.4 L2060.3,1600.4 L2062.3,1600.4 L2064.3,1600.5 L2066.3,1600.5 L2068.3,1600.5 L2070.3,1600.5 L2072.3,1600.6 L2074.3,1600.6 L2076.3,1600.6 L2078.3,1600.6 L2080.3,1600.7 L2082.3,1600.7 L2084.3,1600.7 L2086.3,1600.8 L2088.3,1600.8 L2090.3,1600.8 L2092.3,1600.8 L2094.3,1600.9 L2096.3,1600.9 L2098.3,1600.9 L2100.3,1601.0 L2102.3,1601.0 L2104.3,1601.1 L2106.3,1601.1 L2108.3,1601.1 L2110.3,1601.2 L2112.3,1601.2 L2114.3,1601.2 L2116.3,1601.3 L2118.3,1601.3 L2120.3,1601.4 L2122.3,1601.4 L2124.3,1601.4 L2126.3,1601.5 L2128.3,1601.5 L2130.3,1601.6 L2132.3,1601.6 L2134.3,1601.7 L2136.3,1601.7 L2138.3,1601.7 L2140.3,1601.8 L2142.3,1601.8 L2144.3,1601.9 L2146.3,1601.9 L2148.3,1602.0 L2150.3,1602.0 L2152.3,1602.1 L2154.3,1602.1 L2156.3,1602.2 L2158.3,1602.2 L2160.3,1602.3 L2162.3,1602.3 L2164.3,1602.4 L2166.2,1602.4 L2168.2,1602.5 L2170.2,1602.5 L2172.2,1602.6 L2174.2,1602.7 L2176.2,1602.7 L2178.2,1602.8 L2180.2,1602.8 L2182.2,1602.9 L2184.2,1602.9 L2186.2,1603.0 L2188.2,1603.1 L2190.2,1603.1 L2192.2,1603.2 L2194.2,1603.2 L2196.2,1603.3 L2198.2,1603.4 L2200.2,1603.4 L2202.2,1603.5 L2204.2,1603.6 L2206.2,1603.6 L2208.2,1603.7 L2210.2,1603.8 L2212.2,1603.8 L2214.2,1603.9 L2216.2,1603.9 L2218.2,1604.0 L2220.2,1604.1 L2222.2,1604.2 L2224.2,1604.2 L2226.2,1604.3 L2228.2,1604.4 L2230.2,1604.4 L2232.2,1604.5" stroke="#4db8ff" stroke-width="8.6"/>
<path d="M269.5,1507.3 L271.5,1507.3 L273.5,1507.2 L275.5,1507.2 L277.5,1507.2 L279.5,1507.1 L281.5,1507.1 L283.5,1507.1 L285.5,1507.1 L287.5,1507.0 L289.5,1507.0 L291.5,1507.0 L293.5,1506.9 L295.5,1506.9 L297.5,1506.9 L299.5,1506.9 L301.5,1506.8 L303.5,1506.8 L305.5,1506.8 L307.5,1506.8 L309.5,1506.7 L311.5,1506.7 L313.5,1506.7 L315.5,1506.7 L317.5,1506.6 L319.5,1506.6 L321.5,1506.6 L323.5,1506.6 L325.5,1506.6 L327.5,1506.5 L329.5,1506.5 L331.5,1506.5 L333.5,1506.5 L335.5,1506.4 L337.5,1506.4 L339.5,1506.4 L341.5,1506.4 L343.5,1506.4 L345.5,1506.3 L347.5,1506.3 L349.5,1506.3 L351.5,1506.3 L353.5,1506.3 L355.5,1506.2 L357.5,1506.2 L359.5,1506.2 L361.5,1506.2 L363.5,1506.2 L365.5,1506.2 L367.5,1506.1 L369.5,1506.1 L371.5,1506.1 L373.5,1506.1 L375.5,1506.1 L377.5,1506.0 L379.5,1506.0 L381.5,1506.0 L383.5,1506.0 L385.5,1506.0 L387.5,1506.0 L389.5,1506.0 L391.5,1505.9 L393.5,1505.9 L395.5,1505.9 L397.5,1505.9 L399.5,1505.9 L401.5,1505.9 L403.5,1505.8 L405.5,1505.8 L407.5,1505.8 L409.5,1505.8 L411.5,1505.8 L413.5,1505.8 L415.5,1505.8 L417.5,1505.7 L419.5,1505.7 L421.5,1505.7 L423.5,1505.7 L425.5,1505.7 L427.5,1505.7 L429.5,1505.7 L431.5,1505.6 L433.5,1505.6 L435.5,1505.6 L437.5,1505.6 L439.5,1505.6 L441.5,1505.6 L443.5,1505.6 L445.5,1505.6 L447.5,1505.5 L449.5,1505.5 L451.5,1505.5 L453.5,1505.5 L455.5,1505.5 L457.5,1505.5 L459.5,1505.5 L461.5,1505.5 L463.5,1505.4 L465.5,1505.4 L467.5,1505.4 L469.5,1505.4 L471.5,1505.4 L473.5,1505.4 L475.5,1505.4 L477.5,1505.3 L479.5,1505.3 L481.5,1505.3 L483.5,1505.3 L485.5,1505.3 L487.5,1505.3 L489.5,1505.3 L491.5,1505.3 L493.5,1505.2 L495.5,1505.2 L497.5,1505.2 L499.5,1505.2 L501.5,1505.2 L503.5,1505.2 L505.5,1505.2 L507.5,1505.2 L509.5,1505.1 L511.5,1505.1 L513.5,1505.1 L515.5,1505.1 L517.5,1505.1 L519.5,1505.1 L521.5,1505.1 L523.5,1505.0 L525.5,1505.0 L527.4,1505.0 L529.4,1505.0 L531.4,1505.0 L533.4,1505.0 L535.4,1505.0 L537.4,1504.9 L539.4,1504.9 L541.4,1504.9 L543.4,1504.9 L545.4,1504.9 L547.4,1504.9 L549.4,1504.8 L551.4,1504.8 L553.4,1504.8 L555.4,1504.8 L557.4,1504.8 L559.4,1504.8 L561.4,1504.7 L563.4,1504.7 L565.4,1504.7 L567.4,1504.7 L569.4,1504.7 L571.4,1504.7 L573.4,1504.6 L575.4,1504.6 L577.4,1504.6 L579.4,1504.6 L581.4,1504.6 L583.4,1504.6 L585.4,1504.5 L587.4,1504.5 L589.4,1504.5 L591.4,1504.5 L593.4,1504.5 L595.4,1504.4 L597.4,1504.4 L599.4,1504.4 L601.4,1504.4 L603.4,1504.3 L605.4,1504.3 L607.4,1504.3 L609.4,1504.3 L611.4,1504.3 L613.4,1504.2 L615.4,1504.2 L617.4,1504.2 L619.4,1504.2 L621.4,1504.1 L623.4,1504.1 L625.4,1504.1 L627.4,1504.1 L629.4,1504.0 L631.4,1504.0 L633.4,1504.0 L635.4,1504.0 L637.4,1503.9 L639.4,1503.9 L641.4,1503.9 L643.4,1503.9 L645.4,1503.8 L647.4,1503.8 L649.4,1503.8 L651.4,1503.8 L653.4,1503.7 L655.4,1503.7 L657.4,1503.7 L659.4,1503.6 L661.4,1503.6 L663.4,1503.6 L665.4,1503.5 L667.4,1503.5 L669.4,1503.5 L671.4,1503.4 L673.4,1503.4 L675.4,1503.4 L677.4,1503.3 L679.4,1503.3 L681.4,1503.3 L683.4,1503.2 L685.4,1503.2 L687.4,1503.2 L689.4,1503.1 L691.4,1503.1 L693.4,1503.1 L695.4,1503.0 L697.4,1503.0 L699.4,1503.0 L701.4,1502.9 L703.4,1502.9 L705.4,1502.8 L707.4,1502.8 L709.4,1502.8 L711.4,1502.7 L713.4,1502.7 L715.4,1502.6 L717.4,1502.6 L719.4,1502.6 L721.4,1502.5 L723.4,1502.5 L725.4,1502.4 L727.4,1502.4 L729.4,1502.3 L731.4,1502.3 L733.4,1502.2 L735.4,1502.2 L737.4,1502.1 L739.4,1502.1 L741.4,1502.1 L743.4,1502.0 L745.4,1502.0 L747.4,1501.9 L749.4,1501.9 L751.4,1501.8 L753.4,1501.8 L755.4,1501.7 L757.4,1501.6 L759.4,1501.6 L761.4,1501.5 L763.4,1501.5 L765.4,1501.4 L767.4,1501.4 L769.4,1501.3 L771.4,1501.3 L773.4,1501.2 L775.4,1501.2 L777.4,1501.1 L779.4,1501.0 L781.4,1501.0 L783.4,1500.9 L785.4,1500.9 L787.4,1500.8 L789.3,1500.7 L791.3,1500.7 L793.3,1500.6 L795.3,1500.5 L797.3,1500.5 L799.3,1500.4 L801.3,1500.4 L803.3,1500.3 L805.3,1500.2 L807.3,1500.2 L809.3,1500.1 L811.3,1500.0 L813.3,1500.0 L815.3,1499.9 L817.3,1499.8 L819.3,1499.7 L821.3,1499.7 L823.3,1499.6 L825.3,1499.5 L827.3,1499.4 L829.3,1499.4 L831.3,1499.3 L833.3,1499.2 L835.3,1499.1 L837.3,1499.1 L839.3,1499.0 L841.3,1498.9 L843.3,1498.8 L845.3,1498.8 L847.3,1498.7 L849.3,1498.6 L851.3,1498.5 L853.3,1498.4 L855.3,1498.3 L857.3,1498.3 L859.3,1498.2 L861.3,1498.1 L863.3,1498.0 L865.3,1497.9 L867.3,1497.8 L869.3,1497.7 L871.3,1497.6 L873.3,1497.6 L875.3,1497.5 L877.3,1497.4 L879.3,1497.3 L881.2,1497.2 L883.2,1497.1 L885.2,1497.0 L887.2,1496.9 L889.2,1496.8 L891.2,1496.7 L893.2,1496.6 L895.2,1496.5 L897.2,1496.4 L899.2,1496.3 L901.2,1496.1 L903.2,1496.0 L905.2,1495.9 L907.2,1495.8 L909.2,1495.7 L911.2,1495.5 L913.2,1495.4 L915.2,1495.3 L917.2,1495.1 L919.2,1495.0 L921.2,1494.8 L923.1,1494.7 L925.1,1494.5 L927.1,1494.3 L929.1,1494.2 L931.1,1494.0 L933.1,1493.8 L935.1,1493.6 L937.1,1493.4 L939.1,1493.2 L941.0,1493.0 L943.0,1492.8 L945.0,1492.6 L947.0,1492.4 L949.0,1492.2 L951.0,1491.9 L953.0,1491.7 L954.9,1491.5 L956.9,1491.2 L958.9,1490.9 L960.9,1490.7 L962.9,1490.4 L964.8,1490.1 L966.8,1489.8 L968.8,1489.5 L970.8,1489.2 L972.7,1488.9 L974.7,1488.6 L976.7,1488.2 L978.7,1487.9 L980.6,1487.6 L982.6,1487.2 L984.6,1486.8 L986.5,1486.5 L988.5,1486.1 L990.5,1485.7 L992.4,1485.3 L994.4,1484.8 L996.4,1484.4 L998.3,1484.0 L1000.3,1483.5 L1002.3,1483.1 L1004.2,1482.6 L1006.2,1482.1 L1008.1,1481.6 L1010.1,1481.1 L1012.0,1480.6 L1013.9,1480.0 L1015.9,1479.5 L1017.8,1478.9 L1019.7,1478.3 L1021.6,1477.6 L1023.5,1477.0 L1025.3,1476.3 L1027.2,1475.6 L1029.0,1474.8 L1030.9,1474.0 L1032.7,1473.2 L1034.5,1472.4 L1036.3,1471.5 L1038.1,1470.7 L1039.8,1469.7 L1041.6,1468.8 L1043.3,1467.8 L1045.0,1466.8 L1046.7,1465.8 L1048.4,1464.7 L1050.0,1463.6 L1051.7,1462.5 L1053.3,1461.4 L1054.9,1460.3 L1056.5,1459.1 L1058.1,1457.9 L1059.7,1456.7 L1061.2,1455.4 L1062.8,1454.1 L1064.3,1452.9 L1065.8,1451.5 L1067.3,1450.2 L1068.8,1448.9 L1070.3,1447.5 L1071.7,1446.1 L1073.1,1444.7 L1074.5,1443.3 L1075.9,1441.8 L1077.3,1440.4 L1078.7,1438.9 L1080.1,1437.4 L1081.4,1435.9 L1082.7,1434.4 L1084.0,1432.9 L1085.3,1431.3 L1086.6,1429.8 L1087.9,1428.2 L1089.1,1426.6 L1090.3,1425.0 L1091.5,1423.4 L1092.7,1421.8 L1093.9,1420.1 L1095.1,1418.5 L1096.2,1416.9 L1097.4,1415.2 L1098.5,1413.5 L1099.6,1411.9 L1100.7,1410.2 L1101.8,1408.5 L1102.8,1406.8 L1103.9,1405.1 L1104.9,1403.4 L1105.9,1401.7 L1106.9,1399.9 L1107.9,1398.2 L1108.9,1396.5 L1109.8,1394.7 L1110.8,1393.0 L1111.7,1391.2 L1112.6,1389.4 L1113.5,1387.7 L1114.4,1385.9 L1115.3,1384.1 L1116.2,1382.3 L1117.1,1380.5 L1117.9,1378.7 L1118.8,1376.9 L1119.6,1375.1 L1120.4,1373.3 L1121.2,1371.5 L1122.0,1369.7 L1122.8,1367.9 L1123.6,1366.0 L1124.4,1364.2 L1125.2,1362.4 L1125.9,1360.5 L1126.7,1358.7 L1127.5,1356.8 L1128.2,1355.0 L1128.9,1353.1 L1129.7,1351.2 L1130.4,1349.4 L1131.1,1347.5 L1131.8,1345.6 L1132.5,1343.8 L1133.2,1341.9 L1133.9,1340.0 L1134.6,1338.1 L1135.3,1336.3 L1135.9,1334.4 L1136.6,1332.5 L1137.3,1330.6 L1138.0,1328.7 L1138.6,1326.8 L1139.3,1324.9 L1139.9,1323.0 L1140.6,1321.1 L1141.3,1319.2 L1141.9,1317.3 L1142.5,1315.4 L1143.2,1313.5 L1143.8,1311.6 L1144.5,1309.7 L1145.1,1307.8 L1145.8,1305.9 L1146.4,1304.0 L1147.0,1302.1 L1147.7,1300.2 L1148.3,1298.3 L1148.9,1296.4 L1149.5,1294.5 L1150.2,1292.6 L1150.8,1290.7 L1151.4,1288.8 L1152.1,1286.9 L1152.7,1285.0 L1153.3,1283.1 L1154.0,1281.2 L1154.6,1279.3 L1155.2,1277.4 L1155.9,1275.5 L1156.5,1273.6 L1157.1,1271.7 L1157.8,1269.8 L1158.4,1267.9 L1159.1,1266.0 L1159.7,1264.2 L1160.3,1262.3 L1161.0,1260.4 L1161.7,1258.5 L1162.3,1256.6 L1163.0,1254.7 L1163.6,1252.9 L1164.3,1251.0 L1165.0,1249.1 L1165.6,1247.3 L1166.3,1245.4 L1167.0,1243.5 L1167.7,1241.7 L1168.4,1239.8 L1169.1,1238.0 L1169.8,1236.1 L1170.5,1234.3 L1171.2,1232.4 L1171.9,1230.6 L1172.6,1228.7 L1173.3,1226.9 L1174.0,1225.0 L1174.7,1223.2 L1175.5,1221.3 L1176.2,1219.5 L1176.9,1217.6 L1177.7,1215.8 L1178.4,1213.9 L1179.1,1212.0 L1179.9,1210.2 L1180.6,1208.3 L1181.4,1206.4 L1182.1,1204.5 L1182.8,1202.6 L1183.6,1200.7 L1184.3,1198.8 L1185.1,1196.9 L1185.8,1195.0 L1186.6,1193.0 L1187.3,1191.1 L1188.1,1189.1 L1188.9,1187.2 L1189.6,1185.3 L1190.5,1183.4 L1191.3,1181.5 L1192.2,1179.6 L1193.1,1177.8 L1194.0,1176.0 L1195.0,1174.3 L1196.0,1172.6 L1197.1,1170.9 L1198.3,1169.4 L1199.5,1167.8 L1200.8,1166.4 L1202.1,1165.0 L1203.6,1163.7 L1205.0,1162.5 L1206.6,1161.4 L1208.2,1160.3 L1209.8,1159.4 L1211.6,1158.5 L1213.3,1157.6 L1215.1,1156.9 L1216.9,1156.3 L1218.8,1155.7 L1220.7,1155.2 L1222.7,1154.8 L1224.7,1154.5 L1226.6,1154.2 L1228.7,1154.1 L1230.7,1154.0 L1232.7,1153.9 L1234.7,1153.9 L1236.8,1154.0 L1238.8,1154.2 L1240.8,1154.4 L1242.8,1154.6 L1244.8,1154.9 L1246.7,1155.3 L1248.7,1155.8 L1250.6,1156.3 L1252.5,1156.8 L1254.3,1157.5 L1256.1,1158.2 L1257.9,1158.9 L1259.7,1159.8 L1261.4,1160.7 L1263.2,1161.6 L1264.8,1162.6 L1266.5,1163.7 L1268.1,1164.8 L1269.7,1165.9 L1271.3,1167.1 L1272.8,1168.4 L1274.3,1169.6 L1275.8,1171.0 L1277.3,1172.3 L1278.7,1173.7 L1280.1,1175.2 L1281.5,1176.6 L1282.9,1178.1 L1284.2,1179.7 L1285.5,1181.2 L1286.8,1182.8 L1288.1,1184.4 L1289.4,1186.0 L1290.6,1187.7 L1291.8,1189.3 L1293.0,1191.0 L1294.2,1192.7 L1295.3,1194.4 L1296.5,1196.1 L1297.6,1197.8 L1298.7,1199.5 L1299.8,1201.3 L1300.9,1203.0 L1301.9,1204.7 L1303.0,1206.4 L1304.0,1208.2 L1305.0,1209.9 L1306.0,1211.6 L1307.0,1213.4 L1308.0,1215.1 L1309.0,1216.8 L1309.9,1218.6 L1310.9,1220.3 L1311.8,1222.1 L1312.8,1223.8 L1313.7,1225.6 L1314.7,1227.3 L1315.6,1229.1 L1316.5,1230.8 L1317.4,1232.6 L1318.4,1234.3 L1319.3,1236.1 L1320.2,1237.9 L1321.1,1239.6 L1322.1,1241.4 L1323.0,1243.1 L1323.9,1244.9 L1324.8,1246.7 L1325.7,1248.4 L1326.7,1250.2 L1327.6,1251.9 L1328.5,1253.7 L1329.5,1255.4 L1330.4,1257.2 L1331.3,1258.9 L1332.3,1260.7 L1333.2,1262.4 L1334.2,1264.2 L1335.2,1265.9 L1336.1,1267.6 L1337.1,1269.4 L1338.1,1271.1 L1339.1,1272.8 L1340.1,1274.5 L1341.1,1276.3 L1342.1,1278.0 L1343.2,1279.7 L1344.2,1281.4 L1345.2,1283.1 L1346.3,1284.7 L1347.4,1286.4 L1348.5,1288.1 L1349.5,1289.8 L1350.7,1291.4 L1351.8,1293.1 L1352.9,1294.7 L1354.1,1296.4 L1355.2,1298.0 L1356.4,1299.6 L1357.6,1301.2 L1358.8,1302.8 L1360.0,1304.4 L1361.3,1306.0 L1362.5,1307.6 L1363.8,1309.2 L1365.1,1310.7 L1366.4,1312.2 L1367.8,1313.8 L1369.1,1315.3 L1370.5,1316.8 L1371.9,1318.3 L1373.2,1319.7 L1374.7,1321.2 L1376.1,1322.6 L1377.5,1324.0 L1379.0,1325.4 L1380.5,1326.8 L1382.0,1328.1 L1383.5,1329.4 L1385.0,1330.7 L1386.6,1332.0 L1388.2,1333.3 L1389.7,1334.5 L1391.3,1335.7 L1393.0,1336.8 L1394.6,1338.0 L1396.2,1339.1 L1397.9,1340.1 L1399.6,1341.2 L1401.3,1342.2 L1403.0,1343.2 L1404.8,1344.1 L1406.5,1345.0 L1408.3,1345.9 L1410.1,1346.7 L1411.9,1347.6 L1413.7,1348.3 L1415.5,1349.1 L1417.3,1349.8 L1419.2,1350.5 L1421.0,1351.2 L1422.9,1351.8 L1424.8,1352.5 L1426.7,1353.1 L1428.6,1353.6 L1430.5,1354.2 L1432.4,1354.7 L1434.3,1355.2 L1436.3,1355.6 L1438.2,1356.1 L1440.2,1356.5 L1442.1,1356.9 L1444.1,1357.2 L1446.1,1357.6 L1448.0,1357.9 L1450.0,1358.2 L1452.0,1358.5 L1454.0,1358.8 L1456.0,1359.0 L1458.0,1359.2 L1460.0,1359.4 L1462.0,1359.6 L1464.0,1359.8 L1466.0,1359.9 L1468.0,1360.0 L1470.0,1360.1 L1472.0,1360.2 L1474.0,1360.3 L1476.0,1360.4 L1478.0,1360.4 L1480.0,1360.5 L1482.0,1360.5 L1484.0,1360.5 L1486.0,1360.5 L1488.1,1360.5 L1490.1,1360.5 L1492.1,1360.4 L1494.1,1360.4 L1496.1,1360.4 L1498.1,1360.3 L1500.1,1360.3 L1502.1,1360.2 L1504.1,1360.1 L1506.1,1360.1 L1508.1,1360.0 L1510.1,1359.9 L1512.1,1359.9 L1514.1,1359.8 L1516.1,1359.7 L1518.1,1359.7 L1520.1,1359.6 L1522.1,1359.5 L1524.1,1359.5 L1526.1,1359.4 L1528.1,1359.4 L1530.1,1359.3 L1532.1,1359.3 L1534.1,1359.3 L1536.1,1359.2 L1538.1,1359.2 L1540.1,1359.2 L1542.1,1359.2 L1544.1,1359.3 L1546.1,1359.3 L1548.1,1359.4 L1550.1,1359.4 L1552.1,1359.5 L1554.1,1359.6 L1556.1,1359.7 L1558.1,1359.8 L1560.1,1359.9 L1562.1,1360.0 L1564.0,1360.2 L1566.0,1360.3 L1568.0,1360.5 L1570.0,1360.6 L1572.0,1360.8 L1574.0,1361.0 L1576.0,1361.1 L1577.9,1361.3 L1579.9,1361.5 L1581.9,1361.7 L1583.9,1362.0 L1585.9,1362.2 L1587.9,1362.4 L1589.9,1362.6 L1591.8,1362.8 L1593.8,1363.1 L1595.8,1363.3 L1597.8,1363.6 L1599.8,1363.8 L1601.8,1364.0 L1603.7,1364.3 L1605.7,1364.5 L1607.7,1364.8 L1609.7,1365.0 L1611.7,1365.3 L1613.7,1365.5 L1615.6,1365.8 L1617.6,1366.0 L1619.6,1366.3 L1621.6,1366.5 L1623.6,1366.8 L1625.6,1367.0 L1627.5,1367.3 L1629.5,1367.5 L1631.5,1367.7 L1633.5,1368.0 L1635.5,1368.2 L1637.5,1368.4 L1639.5,1368.7 L1641.4,1368.9 L1643.4,1369.1 L1645.4,1369.4 L1647.4,1369.6 L1649.4,1369.8 L1651.4,1370.0 L1653.4,1370.2 L1655.4,1370.5 L1657.3,1370.7 L1659.3,1370.9 L1661.3,1371.1 L1663.3,1371.3 L1665.3,1371.5 L1667.3,1371.7 L1669.3,1371.9 L1671.3,1372.1 L1673.3,1372.3 L1675.2,1372.5 L1677.2,1372.7 L1679.2,1372.9 L1681.2,1373.1 L1683.2,1373.3 L1685.2,1373.5 L1687.2,1373.6 L1689.2,1373.8 L1691.2,1374.0 L1693.2,1374.2 L1695.2,1374.4 L1697.1,1374.5 L1699.1,1374.7 L1701.1,1374.9 L1703.1,1375.0 L1705.1,1375.2 L1707.1,1375.4 L1709.1,1375.5 L1711.1,1375.7 L1713.1,1375.8 L1715.1,1376.0 L1717.1,1376.1 L1719.1,1376.3 L1721.1,1376.4 L1723.1,1376.6 L1725.0,1376.7 L1727.0,1376.9 L1729.0,1377.0 L1731.0,1377.1 L1733.0,1377.3 L1735.0,1377.4 L1737.0,1377.5 L1739.0,1377.7 L1741.0,1377.8 L1743.0,1377.9 L1745.0,1378.0 L1747.0,1378.2 L1749.0,1378.3 L1751.0,1378.4 L1753.0,1378.5 L1755.0,1378.6 L1757.0,1378.7 L1759.0,1378.8 L1761.0,1378.9 L1763.0,1379.0 L1765.0,1379.1 L1767.0,1379.2 L1768.9,1379.3 L1770.9,1379.4 L1772.9,1379.5 L1774.9,1379.6 L1776.9,1379.7 L1778.9,1379.8 L1780.9,1379.8 L1782.9,1379.9 L1784.9,1380.0 L1786.9,1380.1 L1788.9,1380.1 L1790.9,1380.2 L1792.9,1380.3 L1794.9,1380.3 L1796.9,1380.4 L1798.9,1380.4 L1800.9,1380.5 L1802.9,1380.5 L1804.9,1380.6 L1806.9,1380.6 L1808.9,1380.7 L1810.9,1380.7 L1812.9,1380.8 L1814.9,1380.8 L1816.9,1380.8 L1818.9,1380.9 L1820.9,1380.9 L1822.9,1380.9 L1824.9,1381.0 L1826.9,1381.0 L1828.9,1381.0 L1830.9,1381.0 L1832.9,1381.0 L1834.9,1381.0 L1836.9,1381.1 L1838.9,1381.1 L1840.9,1381.1 L1842.9,1381.1 L1844.9,1381.1 L1846.9,1381.1 L1848.9,1381.1 L1850.9,1381.1 L1852.9,1381.1 L1854.9,1381.1 L1856.9,1381.1 L1858.9,1381.1 L1860.9,1381.0 L1862.9,1381.0 L1864.9,1381.0 L1866.9,1381.0 L1868.9,1381.0 L1870.9,1381.0 L1872.9,1380.9 L1874.8,1380.9 L1876.8,1380.9 L1878.8,1380.9 L1880.8,1380.8 L1882.8,1380.8 L1884.8,1380.8 L1886.8,1380.7 L1888.8,1380.7 L1890.8,1380.7 L1892.8,1380.6 L1894.8,1380.6 L1896.8,1380.5 L1898.8,1380.5 L1900.8,1380.5 L1902.8,1380.4 L1904.8,1380.4 L1906.8,1380.3 L1908.8,1380.3 L1910.8,1380.2 L1912.8,1380.2 L1914.8,1380.1 L1916.8,1380.0 L1918.8,1380.0 L1920.8,1379.9 L1922.8,1379.9 L1924.8,1379.8 L1926.8,1379.8 L1928.8,1379.7 L1930.8,1379.6 L1932.8,1379.6 L1934.8,1379.5 L1936.8,1379.4 L1938.8,1379.4 L1940.8,1379.3 L1942.8,1379.2 L1944.8,1379.2 L1946.8,1379.1 L1948.8,1379.0 L1950.8,1378.9 L1952.8,1378.9 L1954.8,1378.8 L1956.8,1378.7 L1958.8,1378.6 L1960.8,1378.6 L1962.8,1378.5 L1964.8,1378.4 L1966.8,1378.3 L1968.8,1378.3 L1970.8,1378.2 L1972.8,1378.1 L1974.8,1378.0 L1976.8,1377.9 L1978.8,1377.9 L1980.8,1377.8 L1982.8,1377.7 L1984.8,1377.6 L1986.8,1377.5 L1988.8,1377.4 L1990.8,1377.4 L1992.8,1377.3 L1994.8,1377.2 L1996.8,1377.1 L1998.8,1377.0 L2000.8,1376.9 L2002.8,1376.8 L2004.8,1376.8 L2006.8,1376.7 L2008.8,1376.6 L2010.8,1376.5 L2012.8,1376.4 L2014.8,1376.3 L2016.8,1376.2 L2018.8,1376.1 L2020.8,1376.1 L2022.8,1376.0 L2024.8,1375.9 L2026.8,1375.8 L2028.8,1375.7 L2030.8,1375.6 L2032.8,1375.5 L2034.8,1375.4 L2036.8,1375.4 L2038.8,1375.3 L2040.8,1375.2 L2042.8,1375.1 L2044.7,1375.0 L2046.7,1374.9 L2048.7,1374.8 L2050.7,1374.8 L2052.7,1374.7 L2054.7,1374.6 L2056.7,1374.5 L2058.7,1374.4 L2060.7,1374.3 L2062.7,1374.2 L2064.7,1374.2 L2066.7,1374.1 L2068.7,1374.0 L2070.7,1373.9 L2072.7,1373.8 L2074.7,1373.7 L2076.7,1373.7 L2078.7,1373.6 L2080.7,1373.5 L2082.7,1373.4 L2084.7,1373.3 L2086.7,1373.2 L2088.7,1373.1 L2090.7,1373.0 L2092.7,1373.0 L2094.7,1372.9 L2096.7,1372.8 L2098.7,1372.7 L2100.6,1372.6 L2102.6,1372.5 L2104.6,1372.4 L2106.6,1372.3 L2108.6,1372.2 L2110.6,1372.1 L2112.6,1372.0 L2114.6,1371.9 L2116.6,1371.8 L2118.6,1371.7 L2120.6,1371.6 L2122.6,1371.5 L2124.6,1371.4 L2126.6,1371.3 L2128.6,1371.2 L2130.6,1371.1 L2132.6,1371.0 L2134.6,1370.8 L2136.6,1370.7 L2138.5,1370.6 L2140.5,1370.5 L2142.5,1370.4 L2144.5,1370.2 L2146.5,1370.1 L2148.5,1370.0 L2150.5,1369.9 L2152.5,1369.7 L2154.5,1369.6 L2156.5,1369.5 L2158.5,1369.3 L2160.5,1369.2 L2162.5,1369.1 L2164.5,1368.9 L2166.5,1368.8 L2168.4,1368.6 L2170.4,1368.5 L2172.4,1368.3 L2174.4,1368.2 L2176.4,1368.0 L2178.4,1367.8 L2180.4,1367.7 L2182.4,1367.5 L2184.4,1367.3 L2186.4,1367.2 L2188.4,1367.0 L2190.4,1366.8 L2192.4,1366.6 L2194.3,1366.5 L2196.3,1366.3 L2198.3,1366.1 L2200.3,1365.9 L2202.3,1365.7 L2204.3,1365.5 L2206.3,1365.3 L2208.3,1365.1 L2210.3,1364.9 L2212.3,1364.7 L2214.3,1364.4 L2216.2,1364.2 L2218.2,1364.0 L2220.2,1363.8 L2222.2,1363.5 L2224.2,1363.3 L2226.2,1363.1 L2228.2,1362.8 L2230.2,1362.6 L2232.2,1362.3" stroke="#00e000" stroke-width="8.6"/>
<path d="M269.5,1395.1 L271.5,1395.3 L273.5,1395.4 L275.5,1395.5 L277.5,1395.6 L279.5,1395.7 L281.5,1395.8 L283.5,1395.9 L285.5,1396.0 L287.5,1396.0 L289.5,1396.1 L291.5,1396.2 L293.5,1396.3 L295.4,1396.4 L297.4,1396.5 L299.4,1396.6 L301.4,1396.7 L303.4,1396.7 L305.4,1396.8 L307.4,1396.9 L309.4,1397.0 L311.4,1397.1 L313.4,1397.1 L315.4,1397.2 L317.4,1397.3 L319.4,1397.3 L321.4,1397.4 L323.4,1397.5 L325.4,1397.5 L327.4,1397.6 L329.4,1397.7 L331.4,1397.7 L333.4,1397.8 L335.4,1397.8 L337.4,1397.9 L339.4,1398.0 L341.4,1398.0 L343.4,1398.1 L345.4,1398.1 L347.4,1398.2 L349.4,1398.2 L351.4,1398.3 L353.4,1398.3 L355.4,1398.4 L357.4,1398.4 L359.4,1398.4 L361.4,1398.5 L363.4,1398.5 L365.4,1398.6 L367.4,1398.6 L369.4,1398.6 L371.4,1398.7 L373.4,1398.7 L375.4,1398.8 L377.4,1398.8 L379.4,1398.8 L381.4,1398.8 L383.4,1398.9 L385.4,1398.9 L387.4,1398.9 L389.4,1399.0 L391.4,1399.0 L393.4,1399.0 L395.4,1399.0 L397.4,1399.0 L399.4,1399.1 L401.3,1399.1 L403.3,1399.1 L405.3,1399.1 L407.3,1399.1 L409.3,1399.1 L411.3,1399.2 L413.3,1399.2 L415.3,1399.2 L417.3,1399.2 L419.3,1399.2 L421.3,1399.2 L423.3,1399.2 L425.3,1399.2 L427.3,1399.2 L429.3,1399.2 L431.3,1399.2 L433.3,1399.2 L435.3,1399.2 L437.3,1399.2 L439.3,1399.2 L441.3,1399.2 L443.3,1399.2 L445.3,1399.2 L447.3,1399.2 L449.3,1399.2 L451.3,1399.2 L453.3,1399.2 L455.3,1399.2 L457.3,1399.2 L459.3,1399.2 L461.3,1399.2 L463.3,1399.2 L465.3,1399.2 L467.3,1399.2 L469.3,1399.1 L471.3,1399.1 L473.3,1399.1 L475.3,1399.1 L477.3,1399.1 L479.3,1399.1 L481.3,1399.1 L483.3,1399.0 L485.3,1399.0 L487.3,1399.0 L489.3,1399.0 L491.3,1399.0 L493.3,1398.9 L495.3,1398.9 L497.3,1398.9 L499.3,1398.9 L501.3,1398.8 L503.3,1398.8 L505.3,1398.8 L507.3,1398.8 L509.3,1398.7 L511.3,1398.7 L513.3,1398.7 L515.3,1398.7 L517.3,1398.6 L519.3,1398.6 L521.3,1398.6 L523.3,1398.5 L525.3,1398.5 L527.3,1398.5 L529.3,1398.5 L531.3,1398.4 L533.3,1398.4 L535.3,1398.4 L537.3,1398.3 L539.3,1398.3 L541.3,1398.2 L543.3,1398.2 L545.3,1398.2 L547.3,1398.1 L549.3,1398.1 L551.3,1398.1 L553.3,1398.0 L555.3,1398.0 L557.3,1398.0 L559.3,1397.9 L561.3,1397.9 L563.3,1397.8 L565.3,1397.8 L567.3,1397.8 L569.3,1397.7 L571.3,1397.7 L573.3,1397.6 L575.3,1397.6 L577.3,1397.5 L579.3,1397.5 L581.3,1397.5 L583.3,1397.4 L585.3,1397.4 L587.3,1397.3 L589.3,1397.3 L591.3,1397.2 L593.3,1397.2 L595.3,1397.2 L597.3,1397.1 L599.3,1397.1 L601.3,1397.0 L603.3,1397.0 L605.3,1396.9 L607.3,1396.9 L609.3,1396.8 L611.3,1396.8 L613.3,1396.7 L615.3,1396.7 L617.3,1396.7 L619.3,1396.6 L621.3,1396.6 L623.3,1396.5 L625.3,1396.5 L627.3,1396.4 L629.3,1396.4 L631.3,1396.3 L633.3,1396.3 L635.3,1396.2 L637.3,1396.2 L639.3,1396.1 L641.3,1396.1 L643.3,1396.0 L645.3,1396.0 L647.3,1395.9 L649.3,1395.9 L651.3,1395.8 L653.3,1395.8 L655.3,1395.8 L657.3,1395.7 L659.3,1395.7 L661.3,1395.6 L663.3,1395.6 L665.3,1395.5 L667.3,1395.5 L669.3,1395.4 L671.3,1395.4 L673.3,1395.3 L675.3,1395.3 L677.3,1395.2 L679.3,1395.2 L681.3,1395.1 L683.3,1395.1 L685.3,1395.0 L687.3,1395.0 L689.3,1394.9 L691.3,1394.9 L693.3,1394.9 L695.3,1394.8 L697.3,1394.8 L699.3,1394.7 L701.3,1394.7 L703.3,1394.6 L705.3,1394.6 L707.3,1394.5 L709.3,1394.5 L711.3,1394.4 L713.3,1394.4 L715.3,1394.4 L717.3,1394.3 L719.3,1394.3 L721.3,1394.2 L723.3,1394.2 L725.3,1394.1 L727.3,1394.1 L729.3,1394.1 L731.3,1394.0 L733.3,1394.0 L735.3,1393.9 L737.3,1393.9 L739.3,1393.9 L741.3,1393.8 L743.3,1393.8 L745.3,1393.7 L747.3,1393.7 L749.3,1393.7 L751.2,1393.6 L753.2,1393.6 L755.2,1393.6 L757.2,1393.5 L759.2,1393.5 L761.2,1393.5 L763.2,1393.4 L765.2,1393.4 L767.2,1393.3 L769.2,1393.3 L771.2,1393.3 L773.2,1393.2 L775.2,1393.2 L777.2,1393.2 L779.2,1393.1 L781.2,1393.1 L783.2,1393.1 L785.2,1393.0 L787.2,1393.0 L789.2,1392.9 L791.2,1392.9 L793.2,1392.8 L795.2,1392.8 L797.2,1392.7 L799.2,1392.7 L801.2,1392.6 L803.2,1392.6 L805.2,1392.5 L807.2,1392.5 L809.2,1392.4 L811.2,1392.4 L813.2,1392.3 L815.2,1392.2 L817.2,1392.2 L819.2,1392.1 L821.2,1392.0 L823.2,1392.0 L825.2,1391.9 L827.2,1391.8 L829.2,1391.7 L831.1,1391.6 L833.1,1391.5 L835.1,1391.5 L837.1,1391.4 L839.1,1391.3 L841.1,1391.2 L843.1,1391.0 L845.1,1390.9 L847.1,1390.8 L849.1,1390.7 L851.1,1390.6 L853.1,1390.5 L855.1,1390.3 L857.1,1390.2 L859.1,1390.1 L861.1,1389.9 L863.1,1389.8 L865.1,1389.6 L867.0,1389.5 L869.0,1389.3 L871.0,1389.1 L873.0,1389.0 L875.0,1388.8 L877.0,1388.6 L879.0,1388.4 L881.0,1388.2 L883.0,1388.0 L885.0,1387.8 L887.0,1387.6 L889.0,1387.4 L891.0,1387.2 L892.9,1387.0 L894.9,1386.7 L896.9,1386.5 L898.9,1386.3 L900.9,1386.0 L902.9,1385.8 L904.9,1385.5 L906.9,1385.3 L908.9,1385.0 L910.9,1384.8 L912.9,1384.5 L914.8,1384.3 L916.8,1384.0 L918.8,1383.8 L920.8,1383.5 L922.8,1383.3 L924.8,1383.0 L926.8,1382.8 L928.8,1382.5 L930.8,1382.3 L932.7,1382.0 L934.7,1381.8 L936.7,1381.5 L938.7,1381.3 L940.7,1381.1 L942.7,1380.8 L944.7,1380.6 L946.7,1380.4 L948.7,1380.2 L950.7,1380.0 L952.6,1379.8 L954.6,1379.6 L956.6,1379.4 L958.6,1379.2 L960.6,1379.0 L962.6,1378.8 L964.6,1378.6 L966.6,1378.4 L968.5,1378.2 L970.5,1378.0 L972.5,1377.8 L974.5,1377.6 L976.5,1377.3 L978.4,1377.1 L980.4,1376.9 L982.4,1376.6 L984.3,1376.3 L986.3,1376.1 L988.3,1375.8 L990.2,1375.5 L992.2,1375.2 L994.2,1374.8 L996.1,1374.5 L998.1,1374.1 L1000.0,1373.7 L1002.0,1373.3 L1003.9,1372.9 L1005.8,1372.5 L1007.8,1372.0 L1009.7,1371.5 L1011.6,1371.0 L1013.6,1370.5 L1015.5,1369.9 L1017.4,1369.4 L1019.3,1368.8 L1021.2,1368.1 L1023.1,1367.5 L1025.0,1366.8 L1026.9,1366.1 L1028.8,1365.3 L1030.6,1364.6 L1032.5,1363.8 L1034.3,1363.0 L1036.2,1362.2 L1038.0,1361.3 L1039.8,1360.4 L1041.6,1359.5 L1043.4,1358.6 L1045.2,1357.6 L1047.0,1356.6 L1048.7,1355.6 L1050.5,1354.6 L1052.2,1353.6 L1053.9,1352.5 L1055.6,1351.4 L1057.3,1350.3 L1058.9,1349.1 L1060.5,1348.0 L1062.2,1346.8 L1063.8,1345.6 L1065.3,1344.3 L1066.9,1343.1 L1068.4,1341.8 L1069.9,1340.5 L1071.4,1339.2 L1072.9,1337.8 L1074.4,1336.5 L1075.8,1335.1 L1077.2,1333.7 L1078.6,1332.3 L1079.9,1330.8 L1081.2,1329.3 L1082.5,1327.8 L1083.8,1326.3 L1085.0,1324.8 L1086.2,1323.2 L1087.4,1321.7 L1088.6,1320.1 L1089.7,1318.5 L1090.9,1316.8 L1092.0,1315.2 L1093.0,1313.5 L1094.1,1311.9 L1095.1,1310.2 L1096.2,1308.5 L1097.2,1306.8 L1098.2,1305.0 L1099.1,1303.3 L1100.1,1301.6 L1101.0,1299.8 L1102.0,1298.0 L1102.9,1296.3 L1103.8,1294.5 L1104.7,1292.7 L1105.6,1290.9 L1106.5,1289.1 L1107.4,1287.3 L1108.2,1285.5 L1109.1,1283.7 L1110.0,1281.8 L1110.8,1280.0 L1111.7,1278.2 L1112.5,1276.4 L1113.4,1274.5 L1114.2,1272.7 L1115.1,1270.9 L1115.9,1269.1 L1116.8,1267.3 L1117.6,1265.4 L1118.5,1263.6 L1119.3,1261.8 L1120.2,1260.0 L1121.1,1258.2 L1121.9,1256.4 L1122.8,1254.5 L1123.6,1252.7 L1124.5,1250.9 L1125.4,1249.1 L1126.2,1247.3 L1127.1,1245.5 L1127.9,1243.7 L1128.8,1241.9 L1129.7,1240.1 L1130.5,1238.3 L1131.4,1236.5 L1132.3,1234.7 L1133.1,1232.9 L1134.0,1231.1 L1134.8,1229.3 L1135.7,1227.5 L1136.6,1225.7 L1137.4,1223.9 L1138.3,1222.1 L1139.1,1220.3 L1140.0,1218.5 L1140.9,1216.7 L1141.7,1214.9 L1142.6,1213.1 L1143.4,1211.3 L1144.3,1209.5 L1145.1,1207.7 L1146.0,1205.9 L1146.8,1204.1 L1147.7,1202.3 L1148.5,1200.5 L1149.3,1198.7 L1150.2,1196.9 L1151.0,1195.1 L1151.9,1193.3 L1152.7,1191.5 L1153.5,1189.7 L1154.3,1187.9 L1155.2,1186.0 L1156.0,1184.2 L1156.8,1182.4 L1157.6,1180.6 L1158.4,1178.8 L1159.2,1177.0 L1160.0,1175.1 L1160.8,1173.3 L1161.6,1171.5 L1162.4,1169.7 L1163.2,1167.8 L1164.0,1166.0 L1164.8,1164.2 L1165.6,1162.3 L1166.4,1160.5 L1167.1,1158.7 L1167.9,1156.8 L1168.7,1155.0 L1169.4,1153.1 L1170.2,1151.3 L1170.9,1149.4 L1171.7,1147.6 L1172.4,1145.7 L1173.2,1143.8 L1173.9,1142.0 L1174.6,1140.1 L1175.4,1138.2 L1176.1,1136.4 L1176.8,1134.5 L1177.5,1132.6 L1178.2,1130.7 L1178.9,1128.8 L1179.6,1126.9 L1180.3,1125.0 L1180.9,1123.1 L1181.6,1121.2 L1182.3,1119.3 L1182.9,1117.4 L1183.6,1115.5 L1184.2,1113.6 L1184.9,1111.7 L1185.6,1109.7 L1186.2,1107.8 L1186.9,1105.9 L1187.6,1104.0 L1188.3,1102.1 L1189.1,1100.2 L1189.8,1098.4 L1190.6,1096.5 L1191.5,1094.6 L1192.3,1092.8 L1193.2,1091.0 L1194.2,1089.2 L1195.2,1087.4 L1196.2,1085.7 L1197.3,1083.9 L1198.5,1082.2 L1199.7,1080.6 L1200.9,1079.0 L1202.2,1077.5 L1203.6,1076.0 L1205.1,1074.6 L1206.6,1073.3 L1208.1,1072.1 L1209.8,1071.0 L1211.5,1070.0 L1213.2,1069.1 L1215.0,1068.3 L1216.8,1067.6 L1218.7,1067.0 L1220.6,1066.6 L1222.5,1066.2 L1224.4,1066.0 L1226.4,1066.0 L1228.4,1066.0 L1230.3,1066.2 L1232.3,1066.5 L1234.3,1066.9 L1236.3,1067.3 L1238.3,1067.9 L1240.2,1068.6 L1242.2,1069.3 L1244.1,1070.1 L1246.0,1071.0 L1247.9,1072.0 L1249.7,1073.0 L1251.6,1074.0 L1253.3,1075.1 L1255.1,1076.2 L1256.8,1077.3 L1258.5,1078.5 L1260.1,1079.7 L1261.7,1080.9 L1263.3,1082.2 L1264.8,1083.5 L1266.3,1084.8 L1267.7,1086.1 L1269.2,1087.5 L1270.6,1088.9 L1271.9,1090.3 L1273.3,1091.7 L1274.6,1093.1 L1275.9,1094.6 L1277.1,1096.0 L1278.4,1097.5 L1279.6,1099.0 L1280.8,1100.5 L1282.0,1102.0 L1283.2,1103.5 L1284.4,1105.1 L1285.6,1106.6 L1286.7,1108.2 L1287.9,1109.8 L1289.1,1111.3 L1290.2,1112.9 L1291.4,1114.5 L1292.5,1116.1 L1293.7,1117.7 L1294.9,1119.3 L1296.0,1120.8 L1297.2,1122.4 L1298.4,1124.0 L1299.6,1125.6 L1300.9,1127.2 L1302.1,1128.8 L1303.3,1130.4 L1304.6,1132.0 L1305.8,1133.6 L1307.1,1135.1 L1308.3,1136.7 L1309.6,1138.3 L1310.9,1139.9 L1312.1,1141.5 L1313.4,1143.0 L1314.7,1144.6 L1316.0,1146.2 L1317.3,1147.8 L1318.5,1149.4 L1319.8,1150.9 L1321.1,1152.5 L1322.4,1154.1 L1323.7,1155.6 L1325.0,1157.2 L1326.3,1158.8 L1327.6,1160.3 L1328.8,1161.9 L1330.1,1163.4 L1331.4,1165.0 L1332.7,1166.5 L1333.9,1168.1 L1335.2,1169.6 L1336.5,1171.2 L1337.7,1172.7 L1339.0,1174.2 L1340.3,1175.7 L1341.6,1177.2 L1342.9,1178.6 L1344.2,1180.1 L1345.5,1181.5 L1346.8,1182.9 L1348.1,1184.3 L1349.5,1185.6 L1350.8,1187.0 L1352.2,1188.3 L1353.5,1189.7 L1354.9,1191.0 L1356.3,1192.3 L1357.7,1193.6 L1359.1,1195.0 L1360.5,1196.3 L1361.9,1197.7 L1363.3,1199.0 L1364.8,1200.4 L1366.2,1201.7 L1367.7,1203.1 L1369.1,1204.5 L1370.6,1205.9 L1372.1,1207.2 L1373.6,1208.6 L1375.1,1210.0 L1376.6,1211.4 L1378.1,1212.8 L1379.7,1214.1 L1381.2,1215.5 L1382.7,1216.9 L1384.3,1218.2 L1385.9,1219.6 L1387.4,1220.9 L1389.0,1222.2 L1390.6,1223.5 L1392.2,1224.8 L1393.9,1226.1 L1395.5,1227.4 L1397.1,1228.6 L1398.8,1229.9 L1400.4,1231.1 L1402.1,1232.3 L1403.8,1233.4 L1405.4,1234.6 L1407.1,1235.7 L1408.8,1236.8 L1410.6,1237.8 L1412.3,1238.9 L1414.0,1239.9 L1415.8,1240.9 L1417.5,1241.8 L1419.3,1242.7 L1421.1,1243.6 L1422.8,1244.4 L1424.6,1245.2 L1426.4,1246.0 L1428.3,1246.7 L1430.1,1247.4 L1431.9,1248.1 L1433.8,1248.7 L1435.6,1249.2 L1437.5,1249.7 L1439.4,1250.2 L1441.3,1250.6 L1443.2,1251.0 L1445.1,1251.3 L1447.0,1251.6 L1449.0,1251.9 L1450.9,1252.1 L1452.8,1252.3 L1454.8,1252.4 L1456.8,1252.6 L1458.7,1252.6 L1460.7,1252.7 L1462.7,1252.7 L1464.7,1252.8 L1466.7,1252.7 L1468.7,1252.7 L1470.7,1252.6 L1472.7,1252.6 L1474.7,1252.5 L1476.7,1252.4 L1478.7,1252.2 L1480.7,1252.1 L1482.7,1252.0 L1484.8,1251.8 L1486.8,1251.6 L1488.8,1251.5 L1490.9,1251.3 L1492.9,1251.1 L1494.9,1250.9 L1496.9,1250.8 L1499.0,1250.6 L1501.0,1250.4 L1503.0,1250.3 L1505.0,1250.1 L1507.1,1249.9 L1509.1,1249.8 L1511.1,1249.7 L1513.1,1249.6 L1515.1,1249.5 L1517.1,1249.4 L1519.1,1249.3 L1521.1,1249.3 L1523.1,1249.2 L1525.1,1249.2 L1527.1,1249.2 L1529.1,1249.2 L1531.1,1249.2 L1533.1,1249.2 L1535.0,1249.3 L1537.0,1249.4 L1539.0,1249.4 L1541.0,1249.5 L1542.9,1249.6 L1544.9,1249.8 L1546.9,1249.9 L1548.8,1250.1 L1550.8,1250.2 L1552.8,1250.4 L1554.7,1250.6 L1556.7,1250.8 L1558.6,1251.0 L1560.6,1251.2 L1562.5,1251.5 L1564.5,1251.7 L1566.4,1252.0 L1568.4,1252.3 L1570.4,1252.6 L1572.3,1252.9 L1574.3,1253.2 L1576.2,1253.5 L1578.2,1253.9 L1580.1,1254.2 L1582.1,1254.6 L1584.0,1255.0 L1586.0,1255.3 L1588.0,1255.7 L1589.9,1256.2 L1591.9,1256.6 L1593.8,1257.0 L1595.8,1257.4 L1597.8,1257.9 L1599.7,1258.3 L1601.7,1258.8 L1603.7,1259.3 L1605.6,1259.7 L1607.6,1260.2 L1609.6,1260.7 L1611.5,1261.2 L1613.5,1261.7 L1615.5,1262.1 L1617.5,1262.6 L1619.4,1263.1 L1621.4,1263.6 L1623.4,1264.1 L1625.4,1264.5 L1627.3,1265.0 L1629.3,1265.4 L1631.3,1265.9 L1633.2,1266.3 L1635.2,1266.8 L1637.2,1267.2 L1639.2,1267.6 L1641.1,1268.0 L1643.1,1268.4 L1645.1,1268.8 L1647.1,1269.2 L1649.0,1269.5 L1651.0,1269.8 L1653.0,1270.1 L1655.0,1270.4 L1656.9,1270.7 L1658.9,1271.0 L1660.9,1271.2 L1662.8,1271.4 L1664.8,1271.6 L1666.8,1271.8 L1668.7,1272.0 L1670.7,1272.1 L1672.7,1272.2 L1674.6,1272.2 L1676.6,1272.3 L1678.6,1272.3 L1680.5,1272.3 L1682.5,1272.2 L1684.4,1272.2 L1686.4,1272.0 L1688.3,1271.9 L1690.3,1271.7 L1692.2,1271.5 L1694.2,1271.3 L1696.1,1271.0 L1698.1,1270.7 L1700.0,1270.3 L1702.0,1269.9 L1703.9,1269.5 L1705.8,1269.0 L1707.8,1268.5 L1709.7,1268.0 L1711.6,1267.4 L1713.6,1266.8 L1715.5,1266.2 L1717.4,1265.6 L1719.4,1264.9 L1721.3,1264.3 L1723.2,1263.6 L1725.2,1262.9 L1727.1,1262.2 L1729.0,1261.5 L1730.9,1260.8 L1732.9,1260.0 L1734.8,1259.3 L1736.7,1258.6 L1738.7,1257.9 L1740.6,1257.2 L1742.5,1256.4 L1744.5,1255.7 L1746.4,1255.1 L1748.3,1254.4 L1750.3,1253.7 L1752.2,1253.1 L1754.1,1252.4 L1756.1,1251.8 L1758.0,1251.3 L1759.9,1250.7 L1761.9,1250.2 L1763.8,1249.7 L1765.8,1249.2 L1767.7,1248.8 L1769.7,1248.4 L1771.6,1248.1 L1773.6,1247.8 L1775.6,1247.5 L1777.5,1247.2 L1779.5,1247.0 L1781.5,1246.8 L1783.4,1246.6 L1785.4,1246.5 L1787.4,1246.4 L1789.3,1246.3 L1791.3,1246.2 L1793.3,1246.2 L1795.3,1246.2 L1797.2,1246.2 L1799.2,1246.2 L1801.2,1246.2 L1803.2,1246.3 L1805.2,1246.3 L1807.2,1246.4 L1809.1,1246.5 L1811.1,1246.6 L1813.1,1246.7 L1815.1,1246.9 L1817.1,1247.0 L1819.1,1247.1 L1821.1,1247.3 L1823.1,1247.4 L1825.1,1247.6 L1827.0,1247.8 L1829.0,1247.9 L1831.0,1248.1 L1833.0,1248.2 L1835.0,1248.4 L1837.0,1248.6 L1839.0,1248.7 L1841.0,1248.9 L1843.0,1249.0 L1845.0,1249.2 L1847.0,1249.3 L1849.0,1249.5 L1850.9,1249.6 L1852.9,1249.8 L1854.9,1249.9 L1856.9,1250.1 L1858.9,1250.2 L1860.9,1250.4 L1862.9,1250.5 L1864.9,1250.7 L1866.9,1250.8 L1868.9,1251.0 L1870.9,1251.1 L1872.9,1251.2 L1874.9,1251.4 L1876.9,1251.5 L1878.9,1251.6 L1880.9,1251.7 L1882.8,1251.9 L1884.8,1252.0 L1886.8,1252.1 L1888.8,1252.2 L1890.8,1252.4 L1892.8,1252.5 L1894.8,1252.6 L1896.8,1252.7 L1898.8,1252.8 L1900.8,1252.9 L1902.8,1253.0 L1904.8,1253.1 L1906.8,1253.2 L1908.8,1253.3 L1910.8,1253.4 L1912.8,1253.5 L1914.8,1253.6 L1916.8,1253.7 L1918.8,1253.7 L1920.8,1253.8 L1922.8,1253.9 L1924.8,1254.0 L1926.8,1254.0 L1928.8,1254.1 L1930.8,1254.2 L1932.7,1254.2 L1934.7,1254.3 L1936.7,1254.3 L1938.7,1254.4 L1940.7,1254.4 L1942.7,1254.5 L1944.7,1254.5 L1946.7,1254.6 L1948.7,1254.6 L1950.7,1254.6 L1952.7,1254.7 L1954.7,1254.7 L1956.7,1254.7 L1958.7,1254.8 L1960.7,1254.8 L1962.7,1254.8 L1964.7,1254.9 L1966.7,1254.9 L1968.7,1254.9 L1970.7,1254.9 L1972.7,1255.0 L1974.7,1255.0 L1976.7,1255.0 L1978.7,1255.1 L1980.7,1255.1 L1982.7,1255.1 L1984.7,1255.2 L1986.7,1255.2 L1988.7,1255.2 L1990.7,1255.3 L1992.7,1255.3 L1994.7,1255.3 L1996.7,1255.4 L1998.7,1255.4 L2000.7,1255.5 L2002.7,1255.5 L2004.7,1255.6 L2006.7,1255.7 L2008.7,1255.7 L2010.7,1255.8 L2012.7,1255.9 L2014.7,1255.9 L2016.7,1256.0 L2018.7,1256.1 L2020.7,1256.2 L2022.7,1256.3 L2024.7,1256.4 L2026.7,1256.5 L2028.7,1256.6 L2030.7,1256.7 L2032.7,1256.8 L2034.7,1256.9 L2036.7,1257.0 L2038.6,1257.2 L2040.6,1257.3 L2042.6,1257.4 L2044.6,1257.6 L2046.6,1257.7 L2048.6,1257.8 L2050.6,1258.0 L2052.6,1258.1 L2054.6,1258.3 L2056.6,1258.4 L2058.6,1258.5 L2060.6,1258.7 L2062.6,1258.9 L2064.6,1259.0 L2066.6,1259.2 L2068.6,1259.3 L2070.6,1259.5 L2072.6,1259.6 L2074.6,1259.8 L2076.5,1259.9 L2078.5,1260.1 L2080.5,1260.3 L2082.5,1260.4 L2084.5,1260.6 L2086.5,1260.7 L2088.5,1260.9 L2090.5,1261.0 L2092.5,1261.2 L2094.5,1261.3 L2096.5,1261.5 L2098.5,1261.6 L2100.5,1261.8 L2102.5,1261.9 L2104.5,1262.1 L2106.4,1262.2 L2108.4,1262.4 L2110.4,1262.5 L2112.4,1262.6 L2114.4,1262.8 L2116.4,1262.9 L2118.4,1263.0 L2120.4,1263.1 L2122.4,1263.3 L2124.4,1263.4 L2126.4,1263.5 L2128.4,1263.6 L2130.4,1263.7 L2132.4,1263.8 L2134.4,1263.9 L2136.4,1264.0 L2138.3,1264.1 L2140.3,1264.1 L2142.3,1264.2 L2144.3,1264.3 L2146.3,1264.3 L2148.3,1264.4 L2150.3,1264.5 L2152.3,1264.5 L2154.3,1264.5 L2156.3,1264.6 L2158.3,1264.6 L2160.3,1264.6 L2162.3,1264.7 L2164.3,1264.7 L2166.3,1264.7 L2168.3,1264.7 L2170.3,1264.6 L2172.3,1264.6 L2174.3,1264.6 L2176.3,1264.6 L2178.2,1264.5 L2180.2,1264.5 L2182.2,1264.4 L2184.2,1264.3 L2186.2,1264.3 L2188.2,1264.2 L2190.2,1264.1 L2192.2,1264.0 L2194.2,1263.9 L2196.2,1263.7 L2198.2,1263.6 L2200.2,1263.5 L2202.2,1263.3 L2204.2,1263.1 L2206.2,1263.0 L2208.2,1262.8 L2210.2,1262.6 L2212.2,1262.4 L2214.2,1262.2 L2216.2,1262.0 L2218.2,1261.7 L2220.2,1261.5 L2222.2,1261.2 L2224.2,1260.9 L2226.2,1260.7 L2228.2,1260.4 L2230.2,1260.0 L2232.2,1259.7" stroke="#008000" stroke-width="8.6"/>
<path d="M269.5,1288.8 L271.5,1288.8 L273.5,1288.8 L275.5,1288.8 L277.5,1288.8 L279.5,1288.8 L281.5,1288.8 L283.5,1288.8 L285.5,1288.8 L287.5,1288.9 L289.5,1288.9 L291.5,1288.9 L293.5,1288.9 L295.5,1288.9 L297.5,1288.9 L299.5,1288.9 L301.5,1288.9 L303.5,1288.9 L305.5,1288.9 L307.5,1288.9 L309.5,1288.9 L311.5,1288.9 L313.5,1288.9 L315.5,1288.9 L317.5,1288.9 L319.5,1288.9 L321.5,1289.0 L323.5,1289.0 L325.5,1289.0 L327.5,1289.0 L329.5,1289.0 L331.5,1289.0 L333.5,1289.0 L335.5,1289.0 L337.5,1289.0 L339.5,1289.0 L341.5,1289.1 L343.5,1289.1 L345.5,1289.1 L347.5,1289.1 L349.5,1289.1 L351.5,1289.1 L353.5,1289.1 L355.5,1289.1 L357.5,1289.1 L359.5,1289.2 L361.5,1289.2 L363.5,1289.2 L365.5,1289.2 L367.5,1289.2 L369.5,1289.2 L371.5,1289.2 L373.5,1289.3 L375.5,1289.3 L377.5,1289.3 L379.5,1289.3 L381.5,1289.3 L383.5,1289.3 L385.5,1289.3 L387.5,1289.4 L389.5,1289.4 L391.5,1289.4 L393.5,1289.4 L395.5,1289.4 L397.5,1289.4 L399.5,1289.5 L401.5,1289.5 L403.5,1289.5 L405.5,1289.5 L407.5,1289.5 L409.5,1289.5 L411.5,1289.6 L413.5,1289.6 L415.5,1289.6 L417.5,1289.6 L419.5,1289.6 L421.5,1289.6 L423.5,1289.7 L425.5,1289.7 L427.5,1289.7 L429.5,1289.7 L431.5,1289.7 L433.5,1289.8 L435.5,1289.8 L437.5,1289.8 L439.5,1289.8 L441.5,1289.8 L443.5,1289.8 L445.5,1289.9 L447.5,1289.9 L449.5,1289.9 L451.5,1289.9 L453.5,1289.9 L455.5,1290.0 L457.5,1290.0 L459.5,1290.0 L461.5,1290.0 L463.5,1290.0 L465.5,1290.1 L467.5,1290.1 L469.5,1290.1 L471.5,1290.1 L473.5,1290.1 L475.5,1290.1 L477.5,1290.2 L479.5,1290.2 L481.5,1290.2 L483.5,1290.2 L485.5,1290.2 L487.5,1290.3 L489.5,1290.3 L491.5,1290.3 L493.5,1290.3 L495.5,1290.3 L497.5,1290.3 L499.5,1290.4 L501.5,1290.4 L503.5,1290.4 L505.5,1290.4 L507.5,1290.4 L509.5,1290.5 L511.5,1290.5 L513.5,1290.5 L515.5,1290.5 L517.5,1290.5 L519.5,1290.5 L521.5,1290.6 L523.5,1290.6 L525.4,1290.6 L527.4,1290.6 L529.4,1290.6 L531.4,1290.6 L533.4,1290.7 L535.4,1290.7 L537.4,1290.7 L539.4,1290.7 L541.4,1290.7 L543.4,1290.7 L545.4,1290.8 L547.4,1290.8 L549.4,1290.8 L551.4,1290.8 L553.4,1290.8 L555.4,1290.8 L557.4,1290.9 L559.4,1290.9 L561.4,1290.9 L563.4,1290.9 L565.4,1290.9 L567.4,1290.9 L569.4,1290.9 L571.4,1291.0 L573.4,1291.0 L575.4,1291.0 L577.4,1291.0 L579.4,1291.0 L581.4,1291.0 L583.4,1291.0 L585.4,1291.0 L587.4,1291.1 L589.4,1291.1 L591.4,1291.1 L593.4,1291.1 L595.4,1291.1 L597.4,1291.1 L599.4,1291.1 L601.4,1291.1 L603.4,1291.1 L605.4,1291.2 L607.4,1291.2 L609.4,1291.2 L611.4,1291.2 L613.4,1291.2 L615.4,1291.2 L617.4,1291.2 L619.4,1291.2 L621.4,1291.2 L623.4,1291.2 L625.4,1291.2 L627.4,1291.2 L629.4,1291.3 L631.4,1291.3 L633.4,1291.3 L635.4,1291.3 L637.4,1291.3 L639.4,1291.3 L641.4,1291.3 L643.4,1291.3 L645.4,1291.3 L647.4,1291.3 L649.4,1291.3 L651.4,1291.3 L653.4,1291.3 L655.4,1291.3 L657.4,1291.3 L659.4,1291.3 L661.4,1291.3 L663.4,1291.3 L665.4,1291.3 L667.4,1291.3 L669.4,1291.3 L671.4,1291.3 L673.4,1291.3 L675.3,1291.3 L677.3,1291.3 L679.3,1291.3 L681.3,1291.3 L683.3,1291.3 L685.3,1291.3 L687.3,1291.3 L689.3,1291.3 L691.3,1291.3 L693.3,1291.3 L695.3,1291.3 L697.3,1291.3 L699.3,1291.3 L701.3,1291.3 L703.3,1291.2 L705.3,1291.2 L707.3,1291.2 L709.3,1291.2 L711.3,1291.2 L713.3,1291.2 L715.3,1291.2 L717.3,1291.2 L719.3,1291.2 L721.3,1291.2 L723.3,1291.1 L725.3,1291.1 L727.3,1291.1 L729.3,1291.1 L731.3,1291.1 L733.3,1291.1 L735.3,1291.1 L737.3,1291.0 L739.3,1291.0 L741.3,1291.0 L743.3,1291.0 L745.3,1291.0 L747.3,1291.0 L749.3,1290.9 L751.3,1290.9 L753.3,1290.9 L755.3,1290.9 L757.3,1290.9 L759.3,1290.8 L761.3,1290.8 L763.3,1290.8 L765.3,1290.8 L767.3,1290.8 L769.3,1290.7 L771.3,1290.7 L773.3,1290.7 L775.3,1290.7 L777.3,1290.6 L779.3,1290.6 L781.3,1290.6 L783.3,1290.5 L785.3,1290.5 L787.3,1290.5 L789.3,1290.5 L791.3,1290.4 L793.3,1290.4 L795.4,1290.4 L797.4,1290.3 L799.4,1290.3 L801.4,1290.3 L803.4,1290.2 L805.4,1290.2 L807.4,1290.2 L809.4,1290.1 L811.4,1290.1 L813.4,1290.0 L815.4,1290.0 L817.4,1290.0 L819.4,1289.9 L821.4,1289.9 L823.4,1289.8 L825.4,1289.8 L827.4,1289.8 L829.4,1289.7 L831.4,1289.7 L833.4,1289.6 L835.4,1289.6 L837.4,1289.5 L839.4,1289.5 L841.4,1289.4 L843.4,1289.4 L845.4,1289.4 L847.4,1289.3 L849.4,1289.3 L851.4,1289.2 L853.4,1289.2 L855.4,1289.1 L857.4,1289.0 L859.4,1289.0 L861.4,1288.9 L863.4,1288.9 L865.4,1288.8 L867.4,1288.8 L869.4,1288.7 L871.4,1288.7 L873.4,1288.6 L875.4,1288.5 L877.4,1288.5 L879.4,1288.4 L881.4,1288.4 L883.4,1288.3 L885.4,1288.2 L887.5,1288.2 L889.5,1288.1 L891.5,1288.0 L893.5,1288.0 L895.5,1287.9 L897.5,1287.8 L899.5,1287.7 L901.5,1287.7 L903.5,1287.6 L905.5,1287.5 L907.5,1287.4 L909.5,1287.3 L911.5,1287.2 L913.5,1287.1 L915.5,1287.0 L917.5,1286.9 L919.5,1286.8 L921.5,1286.7 L923.5,1286.6 L925.5,1286.4 L927.4,1286.3 L929.4,1286.1 L931.4,1286.0 L933.4,1285.8 L935.4,1285.6 L937.4,1285.5 L939.4,1285.3 L941.3,1285.1 L943.3,1284.9 L945.3,1284.6 L947.3,1284.4 L949.2,1284.2 L951.2,1283.9 L953.2,1283.7 L955.2,1283.4 L957.1,1283.1 L959.1,1282.8 L961.0,1282.5 L963.0,1282.2 L965.0,1281.8 L966.9,1281.5 L968.9,1281.1 L970.8,1280.7 L972.7,1280.3 L974.7,1279.9 L976.6,1279.5 L978.6,1279.0 L980.5,1278.6 L982.4,1278.1 L984.3,1277.6 L986.3,1277.1 L988.2,1276.6 L990.1,1276.0 L992.0,1275.5 L993.9,1274.9 L995.8,1274.3 L997.7,1273.7 L999.6,1273.0 L1001.5,1272.4 L1003.4,1271.7 L1005.3,1271.0 L1007.2,1270.3 L1009.0,1269.5 L1010.9,1268.8 L1012.8,1268.0 L1014.6,1267.2 L1016.5,1266.4 L1018.3,1265.6 L1020.1,1264.7 L1022.0,1263.9 L1023.8,1263.0 L1025.6,1262.1 L1027.4,1261.1 L1029.1,1260.2 L1030.9,1259.2 L1032.7,1258.3 L1034.4,1257.3 L1036.2,1256.2 L1037.9,1255.2 L1039.6,1254.2 L1041.3,1253.1 L1043.0,1252.0 L1044.7,1250.9 L1046.3,1249.8 L1048.0,1248.6 L1049.6,1247.5 L1051.2,1246.3 L1052.8,1245.1 L1054.4,1243.9 L1055.9,1242.7 L1057.5,1241.5 L1059.0,1240.2 L1060.6,1239.0 L1062.1,1237.7 L1063.6,1236.4 L1065.0,1235.0 L1066.5,1233.7 L1067.9,1232.4 L1069.4,1231.0 L1070.8,1229.6 L1072.2,1228.2 L1073.6,1226.8 L1075.0,1225.4 L1076.3,1223.9 L1077.7,1222.5 L1079.0,1221.0 L1080.3,1219.5 L1081.6,1218.0 L1082.9,1216.5 L1084.2,1215.0 L1085.5,1213.4 L1086.7,1211.9 L1088.0,1210.3 L1089.2,1208.7 L1090.4,1207.1 L1091.6,1205.5 L1092.8,1203.9 L1093.9,1202.2 L1095.1,1200.6 L1096.3,1198.9 L1097.4,1197.3 L1098.6,1195.6 L1099.7,1194.0 L1100.9,1192.3 L1102.1,1190.7 L1103.3,1189.1 L1104.5,1187.4 L1105.7,1185.8 L1106.9,1184.3 L1108.2,1182.7 L1109.4,1181.2 L1110.7,1179.6 L1112.0,1178.2 L1113.4,1176.7 L1114.8,1175.3 L1116.2,1173.9 L1117.7,1172.6 L1119.2,1171.3 L1120.7,1170.0 L1122.2,1168.7 L1123.7,1167.4 L1125.2,1166.1 L1126.7,1164.8 L1128.1,1163.4 L1129.6,1162.1 L1131.0,1160.7 L1132.4,1159.2 L1133.7,1157.8 L1135.1,1156.3 L1136.4,1154.8 L1137.6,1153.3 L1138.9,1151.7 L1140.1,1150.1 L1141.3,1148.5 L1142.5,1146.9 L1143.6,1145.3 L1144.7,1143.6 L1145.8,1141.9 L1146.9,1140.2 L1148.0,1138.5 L1149.0,1136.8 L1150.0,1135.0 L1151.0,1133.3 L1152.0,1131.5 L1152.9,1129.7 L1153.9,1127.9 L1154.8,1126.1 L1155.7,1124.3 L1156.6,1122.5 L1157.4,1120.7 L1158.3,1118.9 L1159.1,1117.0 L1159.9,1115.2 L1160.7,1113.4 L1161.5,1111.5 L1162.3,1109.7 L1163.0,1107.8 L1163.8,1106.0 L1164.5,1104.1 L1165.2,1102.3 L1166.0,1100.4 L1166.6,1098.5 L1167.3,1096.7 L1168.0,1094.8 L1168.7,1092.9 L1169.3,1091.1 L1170.0,1089.2 L1170.6,1087.3 L1171.2,1085.4 L1171.8,1083.5 L1172.4,1081.6 L1173.0,1079.7 L1173.6,1077.8 L1174.2,1075.9 L1174.8,1074.0 L1175.3,1072.1 L1175.9,1070.2 L1176.5,1068.3 L1177.0,1066.3 L1177.6,1064.4 L1178.1,1062.5 L1178.6,1060.6 L1179.2,1058.7 L1179.7,1056.7 L1180.2,1054.8 L1180.7,1052.9 L1181.3,1050.9 L1181.8,1049.0 L1182.3,1047.1 L1182.8,1045.1 L1183.3,1043.2 L1183.8,1041.2 L1184.3,1039.3 L1184.8,1037.4 L1185.4,1035.4 L1185.9,1033.5 L1186.4,1031.5 L1186.9,1029.6 L1187.4,1027.6 L1187.9,1025.7 L1188.4,1023.8 L1188.9,1021.8 L1189.4,1019.9 L1190.0,1018.0 L1190.5,1016.0 L1191.0,1014.1 L1191.5,1012.2 L1192.1,1010.2 L1192.6,1008.3 L1193.1,1006.4 L1193.7,1004.4 L1194.2,1002.5 L1194.8,1000.6 L1195.3,998.7 L1195.9,996.8 L1196.5,994.8 L1197.1,992.9 L1197.6,991.0 L1198.2,989.1 L1198.8,987.2 L1199.4,985.3 L1200.1,983.4 L1200.7,981.5 L1201.3,979.7 L1202.0,977.8 L1202.6,975.9 L1203.3,974.0 L1203.9,972.2 L1204.6,970.3 L1205.3,968.4 L1206.0,966.6 L1206.7,964.7 L1207.4,962.8 L1208.1,961.0 L1208.8,959.1 L1209.5,957.3 L1210.2,955.4 L1210.9,953.5 L1211.6,951.7 L1212.3,949.8 L1213.0,947.9 L1213.7,946.1 L1214.4,944.2 L1215.1,942.3 L1215.8,940.4 L1216.5,938.5 L1217.1,936.6 L1217.8,934.7 L1218.5,932.8 L1219.1,930.9 L1219.8,928.9 L1220.4,927.0 L1221.0,925.1 L1221.7,923.1 L1222.3,921.2 L1223.0,919.3 L1223.7,917.4 L1224.4,915.5 L1225.2,913.7 L1226.0,911.8 L1226.9,910.1 L1227.8,908.3 L1228.7,906.6 L1229.8,904.9 L1230.9,903.3 L1232.1,901.8 L1233.4,900.3 L1234.7,898.9 L1236.2,897.5 L1237.8,896.3 L1239.4,895.1 L1241.2,894.0 L1243.0,893.1 L1244.9,892.4 L1246.8,891.9 L1248.7,891.8 L1250.6,892.0 L1252.5,892.5 L1254.4,893.2 L1256.2,894.1 L1258.0,895.2 L1259.8,896.3 L1261.5,897.5 L1263.1,898.8 L1264.8,900.1 L1266.4,901.5 L1267.9,902.9 L1269.3,904.3 L1270.8,905.8 L1272.1,907.3 L1273.4,908.8 L1274.7,910.4 L1275.9,912.0 L1277.0,913.6 L1278.1,915.3 L1279.2,916.9 L1280.2,918.6 L1281.2,920.3 L1282.1,922.1 L1283.1,923.8 L1283.9,925.6 L1284.8,927.4 L1285.6,929.1 L1286.5,931.0 L1287.2,932.8 L1288.0,934.6 L1288.8,936.4 L1289.5,938.3 L1290.2,940.1 L1291.0,942.0 L1291.7,943.8 L1292.4,945.7 L1293.1,947.6 L1293.8,949.4 L1294.5,951.3 L1295.2,953.1 L1295.9,955.0 L1296.6,956.9 L1297.3,958.7 L1298.0,960.6 L1298.7,962.5 L1299.4,964.3 L1300.1,966.2 L1300.8,968.0 L1301.5,969.9 L1302.1,971.8 L1302.8,973.6 L1303.5,975.5 L1304.2,977.4 L1304.9,979.2 L1305.5,981.1 L1306.2,983.0 L1306.9,984.9 L1307.6,986.7 L1308.2,988.6 L1308.9,990.5 L1309.6,992.4 L1310.3,994.2 L1310.9,996.1 L1311.6,998.0 L1312.3,999.9 L1312.9,1001.7 L1313.6,1003.6 L1314.2,1005.5 L1314.9,1007.4 L1315.6,1009.3 L1316.2,1011.2 L1316.9,1013.1 L1317.5,1015.0 L1318.2,1016.9 L1318.9,1018.7 L1319.5,1020.6 L1320.2,1022.5 L1320.8,1024.4 L1321.5,1026.3 L1322.1,1028.2 L1322.8,1030.1 L1323.4,1032.1 L1324.1,1034.0 L1324.7,1035.9 L1325.4,1037.8 L1326.0,1039.7 L1326.7,1041.6 L1327.4,1043.5 L1328.0,1045.4 L1328.7,1047.3 L1329.4,1049.2 L1330.0,1051.1 L1330.7,1053.0 L1331.4,1054.9 L1332.1,1056.8 L1332.8,1058.7 L1333.5,1060.5 L1334.2,1062.4 L1335.0,1064.3 L1335.7,1066.2 L1336.4,1068.0 L1337.2,1069.9 L1337.9,1071.8 L1338.7,1073.6 L1339.5,1075.5 L1340.3,1077.3 L1341.1,1079.1 L1341.9,1080.9 L1342.7,1082.8 L1343.6,1084.6 L1344.4,1086.4 L1345.3,1088.2 L1346.2,1090.0 L1347.0,1091.7 L1348.0,1093.5 L1348.9,1095.3 L1349.8,1097.0 L1350.8,1098.7 L1351.7,1100.5 L1352.7,1102.2 L1353.7,1103.9 L1354.8,1105.6 L1355.8,1107.3 L1356.9,1108.9 L1357.9,1110.6 L1359.1,1112.2 L1360.2,1113.9 L1361.3,1115.5 L1362.5,1117.1 L1363.7,1118.7 L1364.9,1120.3 L1366.1,1121.8 L1367.3,1123.4 L1368.6,1124.9 L1369.9,1126.4 L1371.2,1127.9 L1372.6,1129.4 L1374.0,1130.9 L1375.4,1132.3 L1376.8,1133.7 L1378.2,1135.1 L1379.7,1136.4 L1381.2,1137.7 L1382.8,1139.0 L1384.3,1140.2 L1385.9,1141.4 L1387.5,1142.5 L1389.2,1143.5 L1390.8,1144.6 L1392.6,1145.5 L1394.3,1146.4 L1396.1,1147.2 L1397.9,1147.9 L1399.7,1148.6 L1401.6,1149.2 L1403.5,1149.7 L1405.4,1150.2 L1407.4,1150.6 L1409.4,1150.9 L1411.4,1151.1 L1413.4,1151.3 L1415.5,1151.5 L1417.5,1151.6 L1419.6,1151.7 L1421.7,1151.8 L1423.7,1151.9 L1425.8,1152.0 L1427.9,1152.1 L1430.0,1152.2 L1432.0,1152.3 L1434.1,1152.5 L1436.1,1152.7 L1438.1,1152.9 L1440.1,1153.2 L1442.1,1153.6 L1444.1,1154.0 L1446.0,1154.4 L1447.9,1154.8 L1449.8,1155.3 L1451.8,1155.7 L1453.7,1156.0 L1455.6,1156.4 L1457.5,1156.7 L1459.5,1156.9 L1461.4,1157.2 L1463.4,1157.3 L1465.4,1157.5 L1467.3,1157.6 L1469.3,1157.7 L1471.3,1157.8 L1473.2,1157.8 L1475.2,1157.9 L1477.2,1157.9 L1479.2,1157.8 L1481.2,1157.8 L1483.2,1157.7 L1485.2,1157.6 L1487.2,1157.5 L1489.2,1157.4 L1491.2,1157.3 L1493.2,1157.2 L1495.2,1157.0 L1497.2,1156.9 L1499.2,1156.7 L1501.3,1156.6 L1503.3,1156.4 L1505.3,1156.2 L1507.3,1156.1 L1509.3,1155.9 L1511.3,1155.7 L1513.3,1155.6 L1515.3,1155.4 L1517.4,1155.3 L1519.4,1155.1 L1521.4,1155.0 L1523.4,1154.9 L1525.4,1154.8 L1527.4,1154.7 L1529.4,1154.6 L1531.4,1154.6 L1533.4,1154.5 L1535.4,1154.5 L1537.4,1154.4 L1539.4,1154.4 L1541.3,1154.3 L1543.3,1154.3 L1545.3,1154.3 L1547.3,1154.3 L1549.3,1154.3 L1551.3,1154.3 L1553.3,1154.3 L1555.3,1154.3 L1557.2,1154.2 L1559.2,1154.2 L1561.2,1154.2 L1563.2,1154.2 L1565.2,1154.2 L1567.2,1154.2 L1569.1,1154.2 L1571.1,1154.1 L1573.1,1154.1 L1575.1,1154.1 L1577.1,1154.0 L1579.1,1154.0 L1581.0,1153.9 L1583.0,1153.8 L1585.0,1153.7 L1587.0,1153.6 L1589.0,1153.5 L1591.0,1153.4 L1593.0,1153.3 L1595.0,1153.1 L1597.0,1153.0 L1599.0,1152.8 L1600.9,1152.7 L1602.9,1152.5 L1604.9,1152.4 L1606.9,1152.3 L1608.9,1152.2 L1610.9,1152.1 L1612.9,1152.0 L1614.9,1151.9 L1616.9,1151.9 L1618.9,1151.9 L1620.8,1151.9 L1622.8,1152.0 L1624.8,1152.0 L1626.8,1152.1 L1628.8,1152.2 L1630.8,1152.3 L1632.8,1152.5 L1634.7,1152.6 L1636.7,1152.8 L1638.7,1153.0 L1640.7,1153.2 L1642.7,1153.4 L1644.6,1153.6 L1646.6,1153.8 L1648.6,1154.0 L1650.6,1154.2 L1652.6,1154.5 L1654.5,1154.7 L1656.5,1155.0 L1658.5,1155.2 L1660.5,1155.5 L1662.4,1155.7 L1664.4,1156.0 L1666.4,1156.3 L1668.4,1156.5 L1670.4,1156.8 L1672.3,1157.1 L1674.3,1157.4 L1676.3,1157.7 L1678.3,1158.0 L1680.3,1158.3 L1682.2,1158.6 L1684.2,1158.9 L1686.2,1159.2 L1688.2,1159.5 L1690.1,1159.9 L1692.1,1160.2 L1694.1,1160.5 L1696.1,1160.8 L1698.0,1161.2 L1700.0,1161.5 L1702.0,1161.9 L1704.0,1162.2 L1705.9,1162.6 L1707.9,1162.9 L1709.9,1163.3 L1711.8,1163.6 L1713.8,1164.0 L1715.8,1164.4 L1717.8,1164.7 L1719.7,1165.1 L1721.7,1165.5 L1723.7,1165.9 L1725.6,1166.2 L1727.6,1166.6 L1729.6,1167.0 L1731.5,1167.4 L1733.5,1167.8 L1735.5,1168.2 L1737.4,1168.5 L1739.4,1168.9 L1741.3,1169.3 L1743.3,1169.7 L1745.3,1170.1 L1747.2,1170.5 L1749.2,1170.9 L1751.2,1171.2 L1753.1,1171.6 L1755.1,1172.0 L1757.0,1172.4 L1759.0,1172.7 L1761.0,1173.1 L1762.9,1173.5 L1764.9,1173.8 L1766.8,1174.2 L1768.8,1174.5 L1770.8,1174.9 L1772.7,1175.2 L1774.7,1175.5 L1776.7,1175.8 L1778.6,1176.1 L1780.6,1176.4 L1782.6,1176.7 L1784.5,1177.0 L1786.5,1177.3 L1788.5,1177.6 L1790.4,1177.8 L1792.4,1178.1 L1794.4,1178.3 L1796.3,1178.5 L1798.3,1178.8 L1800.3,1179.0 L1802.3,1179.1 L1804.2,1179.3 L1806.2,1179.5 L1808.2,1179.6 L1810.2,1179.8 L1812.1,1179.9 L1814.1,1180.0 L1816.1,1180.1 L1818.1,1180.2 L1820.1,1180.2 L1822.1,1180.3 L1824.1,1180.3 L1826.1,1180.3 L1828.0,1180.3 L1830.0,1180.3 L1832.0,1180.3 L1834.0,1180.2 L1836.0,1180.2 L1838.0,1180.1 L1840.0,1180.0 L1842.0,1179.9 L1844.0,1179.7 L1846.0,1179.6 L1848.0,1179.4 L1850.0,1179.3 L1852.0,1179.1 L1854.0,1178.9 L1856.0,1178.6 L1858.0,1178.4 L1860.0,1178.2 L1862.0,1177.9 L1864.0,1177.6 L1866.0,1177.3 L1868.0,1177.0 L1870.0,1176.7 L1872.0,1176.4 L1873.9,1176.1 L1875.9,1175.7 L1877.9,1175.3 L1879.9,1174.9 L1881.9,1174.5 L1883.8,1174.1 L1885.8,1173.7 L1887.8,1173.3 L1889.7,1172.8 L1891.7,1172.4 L1893.7,1171.9 L1895.6,1171.4 L1897.6,1170.9 L1899.5,1170.4 L1901.5,1169.9 L1903.4,1169.4 L1905.4,1168.8 L1907.3,1168.3 L1909.2,1167.7 L1911.1,1167.1 L1913.1,1166.6 L1915.0,1166.0 L1916.9,1165.4 L1918.8,1164.7 L1920.7,1164.1 L1922.6,1163.5 L1924.5,1162.9 L1926.4,1162.2 L1928.3,1161.6 L1930.2,1160.9 L1932.0,1160.2 L1933.9,1159.6 L1935.8,1158.9 L1937.7,1158.2 L1939.6,1157.5 L1941.4,1156.9 L1943.3,1156.2 L1945.2,1155.5 L1947.0,1154.8 L1948.9,1154.1 L1950.8,1153.4 L1952.7,1152.7 L1954.5,1152.0 L1956.4,1151.3 L1958.3,1150.6 L1960.1,1150.0 L1962.0,1149.3 L1963.9,1148.6 L1965.8,1147.9 L1967.6,1147.2 L1969.5,1146.6 L1971.4,1145.9 L1973.3,1145.3 L1975.1,1144.6 L1977.0,1144.0 L1978.9,1143.3 L1980.8,1142.7 L1982.7,1142.1 L1984.6,1141.5 L1986.5,1140.8 L1988.4,1140.3 L1990.3,1139.7 L1992.2,1139.1 L1994.1,1138.5 L1996.0,1138.0 L1997.9,1137.4 L1999.8,1136.9 L2001.7,1136.4 L2003.7,1135.9 L2005.6,1135.4 L2007.5,1134.9 L2009.5,1134.4 L2011.4,1134.0 L2013.3,1133.5 L2015.3,1133.1 L2017.2,1132.7 L2019.2,1132.3 L2021.1,1131.9 L2023.1,1131.5 L2025.0,1131.2 L2027.0,1130.8 L2029.0,1130.5 L2030.9,1130.2 L2032.9,1129.9 L2034.9,1129.6 L2036.8,1129.3 L2038.8,1129.0 L2040.8,1128.8 L2042.7,1128.6 L2044.7,1128.3 L2046.7,1128.1 L2048.7,1128.0 L2050.7,1127.8 L2052.6,1127.6 L2054.6,1127.5 L2056.6,1127.4 L2058.6,1127.3 L2060.6,1127.2 L2062.6,1127.1 L2064.6,1127.1 L2066.6,1127.1 L2068.5,1127.1 L2070.5,1127.1 L2072.5,1127.1 L2074.5,1127.1 L2076.5,1127.2 L2078.5,1127.3 L2080.5,1127.4 L2082.5,1127.5 L2084.5,1127.6 L2086.5,1127.8 L2088.5,1127.9 L2090.5,1128.1 L2092.5,1128.3 L2094.5,1128.5 L2096.5,1128.7 L2098.5,1128.9 L2100.5,1129.2 L2102.4,1129.4 L2104.4,1129.7 L2106.4,1129.9 L2108.4,1130.2 L2110.4,1130.5 L2112.4,1130.7 L2114.4,1131.0 L2116.4,1131.3 L2118.4,1131.6 L2120.4,1131.9 L2122.4,1132.2 L2124.4,1132.4 L2126.4,1132.7 L2128.4,1133.0 L2130.4,1133.3 L2132.4,1133.6 L2134.4,1133.8 L2136.4,1134.1 L2138.4,1134.4 L2140.4,1134.6 L2142.4,1134.9 L2144.4,1135.1 L2146.4,1135.3 L2148.4,1135.5 L2150.4,1135.7 L2152.4,1135.9 L2154.4,1136.1 L2156.4,1136.3 L2158.4,1136.4 L2160.4,1136.5 L2162.4,1136.6 L2164.4,1136.7 L2166.4,1136.8 L2168.4,1136.9 L2170.3,1136.9 L2172.3,1136.9 L2174.3,1136.9 L2176.3,1136.9 L2178.3,1136.8 L2180.3,1136.8 L2182.3,1136.7 L2184.3,1136.5 L2186.3,1136.4 L2188.3,1136.3 L2190.3,1136.1 L2192.3,1135.9 L2194.3,1135.8 L2196.3,1135.6 L2198.3,1135.4 L2200.3,1135.3 L2202.3,1135.1 L2204.2,1135.0 L2206.2,1134.9 L2208.2,1134.8 L2210.2,1134.8 L2212.2,1134.7 L2214.2,1134.8 L2216.2,1134.8 L2218.2,1134.9 L2220.2,1135.0 L2222.2,1135.2 L2224.2,1135.5 L2226.2,1135.8 L2228.2,1136.1 L2230.2,1136.6 L2232.2,1137.1" stroke="#ff8000" stroke-width="8.6"/>
<path d="M269.4,1179.2 L271.4,1179.2 L273.4,1179.2 L275.5,1179.2 L277.5,1179.2 L279.5,1179.2 L281.5,1179.3 L283.5,1179.3 L285.5,1179.3 L287.5,1179.3 L289.5,1179.3 L291.5,1179.3 L293.5,1179.3 L295.6,1179.3 L297.6,1179.4 L299.6,1179.4 L301.6,1179.4 L303.6,1179.4 L305.6,1179.4 L307.6,1179.4 L309.6,1179.4 L311.6,1179.5 L313.6,1179.5 L315.6,1179.5 L317.6,1179.5 L319.6,1179.5 L321.6,1179.5 L323.7,1179.6 L325.7,1179.6 L327.7,1179.6 L329.7,1179.6 L331.7,1179.6 L333.7,1179.6 L335.7,1179.7 L337.7,1179.7 L339.7,1179.7 L341.7,1179.7 L343.7,1179.7 L345.7,1179.8 L347.7,1179.8 L349.7,1179.8 L351.7,1179.8 L353.7,1179.8 L355.7,1179.9 L357.7,1179.9 L359.7,1179.9 L361.7,1179.9 L363.7,1179.9 L365.7,1180.0 L367.7,1180.0 L369.7,1180.0 L371.7,1180.0 L373.7,1180.0 L375.7,1180.1 L377.7,1180.1 L379.7,1180.1 L381.8,1180.1 L383.8,1180.1 L385.8,1180.2 L387.8,1180.2 L389.8,1180.2 L391.8,1180.2 L393.8,1180.3 L395.8,1180.3 L397.8,1180.3 L399.8,1180.3 L401.8,1180.3 L403.8,1180.4 L405.8,1180.4 L407.8,1180.4 L409.8,1180.4 L411.7,1180.5 L413.7,1180.5 L415.7,1180.5 L417.7,1180.5 L419.7,1180.5 L421.7,1180.6 L423.7,1180.6 L425.7,1180.6 L427.7,1180.6 L429.7,1180.7 L431.7,1180.7 L433.7,1180.7 L435.7,1180.7 L437.7,1180.8 L439.7,1180.8 L441.7,1180.8 L443.7,1180.8 L445.7,1180.8 L447.7,1180.9 L449.7,1180.9 L451.7,1180.9 L453.7,1180.9 L455.7,1181.0 L457.7,1181.0 L459.7,1181.0 L461.7,1181.0 L463.7,1181.1 L465.7,1181.1 L467.7,1181.1 L469.7,1181.1 L471.7,1181.1 L473.7,1181.2 L475.7,1181.2 L477.7,1181.2 L479.6,1181.2 L481.6,1181.3 L483.6,1181.3 L485.6,1181.3 L487.6,1181.3 L489.6,1181.3 L491.6,1181.4 L493.6,1181.4 L495.6,1181.4 L497.6,1181.4 L499.6,1181.5 L501.6,1181.5 L503.6,1181.5 L505.6,1181.5 L507.6,1181.5 L509.6,1181.6 L511.6,1181.6 L513.6,1181.6 L515.6,1181.6 L517.5,1181.6 L519.5,1181.7 L521.5,1181.7 L523.5,1181.7 L525.5,1181.7 L527.5,1181.7 L529.5,1181.8 L531.5,1181.8 L533.5,1181.8 L535.5,1181.8 L537.5,1181.8 L539.5,1181.8 L541.5,1181.9 L543.5,1181.9 L545.5,1181.9 L547.5,1181.9 L549.5,1181.9 L551.4,1182.0 L553.4,1182.0 L555.4,1182.0 L557.4,1182.0 L559.4,1182.0 L561.4,1182.0 L563.4,1182.0 L565.4,1182.1 L567.4,1182.1 L569.4,1182.1 L571.4,1182.1 L573.4,1182.1 L575.4,1182.1 L577.4,1182.1 L579.4,1182.2 L581.4,1182.2 L583.3,1182.2 L585.3,1182.2 L587.3,1182.2 L589.3,1182.2 L591.3,1182.2 L593.3,1182.2 L595.3,1182.3 L597.3,1182.3 L599.3,1182.3 L601.3,1182.3 L603.3,1182.3 L605.3,1182.3 L607.3,1182.3 L609.3,1182.3 L611.3,1182.3 L613.2,1182.3 L615.2,1182.3 L617.2,1182.4 L619.2,1182.4 L621.2,1182.4 L623.2,1182.4 L625.2,1182.4 L627.2,1182.4 L629.2,1182.4 L631.2,1182.4 L633.2,1182.4 L635.2,1182.4 L637.2,1182.4 L639.2,1182.4 L641.2,1182.4 L643.2,1182.4 L645.2,1182.4 L647.1,1182.4 L649.1,1182.4 L651.1,1182.4 L653.1,1182.4 L655.1,1182.4 L657.1,1182.4 L659.1,1182.4 L661.1,1182.4 L663.1,1182.4 L665.1,1182.4 L667.1,1182.4 L669.1,1182.4 L671.1,1182.4 L673.1,1182.4 L675.1,1182.4 L677.1,1182.4 L679.1,1182.4 L681.1,1182.4 L683.1,1182.4 L685.1,1182.4 L687.0,1182.4 L689.0,1182.3 L691.0,1182.3 L693.0,1182.3 L695.0,1182.3 L697.0,1182.3 L699.0,1182.3 L701.0,1182.3 L703.0,1182.3 L705.0,1182.3 L707.0,1182.2 L709.0,1182.2 L711.0,1182.2 L713.0,1182.2 L715.0,1182.2 L717.0,1182.2 L719.0,1182.2 L721.0,1182.1 L723.0,1182.1 L725.0,1182.1 L727.0,1182.1 L729.0,1182.1 L731.0,1182.1 L733.0,1182.0 L735.0,1182.0 L737.0,1182.0 L739.0,1182.0 L741.0,1181.9 L743.0,1181.9 L745.0,1181.9 L747.0,1181.9 L749.0,1181.9 L751.0,1181.8 L753.0,1181.8 L755.0,1181.8 L757.0,1181.7 L759.0,1181.7 L761.0,1181.7 L763.0,1181.7 L765.0,1181.6 L767.0,1181.6 L769.0,1181.6 L771.0,1181.5 L773.0,1181.5 L775.0,1181.5 L777.0,1181.4 L779.0,1181.4 L781.0,1181.4 L783.0,1181.3 L785.0,1181.3 L787.0,1181.3 L789.0,1181.2 L791.0,1181.2 L793.0,1181.1 L795.0,1181.1 L797.0,1181.1 L799.0,1181.0 L801.0,1181.0 L803.0,1180.9 L805.0,1180.9 L807.0,1180.9 L809.0,1180.8 L811.0,1180.8 L813.0,1180.7 L815.0,1180.7 L817.0,1180.6 L819.0,1180.6 L821.0,1180.5 L823.0,1180.5 L825.0,1180.4 L827.0,1180.4 L829.0,1180.3 L831.0,1180.3 L833.0,1180.2 L835.0,1180.2 L837.1,1180.1 L839.1,1180.0 L841.1,1180.0 L843.1,1179.9 L845.1,1179.9 L847.1,1179.8 L849.1,1179.7 L851.1,1179.7 L853.1,1179.6 L855.1,1179.6 L857.1,1179.5 L859.1,1179.4 L861.1,1179.4 L863.1,1179.3 L865.2,1179.2 L867.2,1179.2 L869.2,1179.1 L871.2,1179.0 L873.2,1179.0 L875.2,1178.9 L877.2,1178.8 L879.2,1178.7 L881.2,1178.7 L883.2,1178.6 L885.3,1178.5 L887.3,1178.4 L889.3,1178.4 L891.3,1178.3 L893.3,1178.2 L895.3,1178.1 L897.3,1178.0 L899.3,1178.0 L901.3,1177.9 L903.4,1177.8 L905.4,1177.7 L907.4,1177.6 L909.4,1177.5 L911.4,1177.5 L913.4,1177.4 L915.4,1177.3 L917.5,1177.2 L919.5,1177.1 L921.5,1177.0 L923.5,1176.9 L925.5,1176.8 L927.5,1176.7 L929.5,1176.6 L931.6,1176.5 L933.6,1176.4 L935.6,1176.3 L937.6,1176.2 L939.6,1176.1 L941.7,1176.0 L943.7,1175.9 L945.7,1175.8 L947.7,1175.7 L949.7,1175.6 L951.7,1175.5 L953.8,1175.4 L955.8,1175.3 L957.8,1175.2 L959.8,1175.0 L961.8,1174.9 L963.8,1174.8 L965.9,1174.7 L967.9,1174.5 L969.9,1174.4 L971.9,1174.2 L973.9,1174.1 L975.9,1173.9 L977.9,1173.7 L979.9,1173.6 L981.9,1173.4 L983.9,1173.2 L985.9,1173.0 L987.9,1172.8 L989.9,1172.5 L991.9,1172.3 L993.8,1172.0 L995.8,1171.8 L997.8,1171.5 L999.7,1171.2 L1001.7,1170.9 L1003.7,1170.6 L1005.6,1170.3 L1007.6,1170.0 L1009.5,1169.6 L1011.4,1169.2 L1013.4,1168.9 L1015.3,1168.4 L1017.2,1168.0 L1019.1,1167.6 L1021.1,1167.1 L1023.0,1166.7 L1024.9,1166.2 L1026.7,1165.7 L1028.6,1165.1 L1030.5,1164.6 L1032.4,1164.0 L1034.2,1163.4 L1036.1,1162.8 L1037.9,1162.2 L1039.8,1161.5 L1041.6,1160.9 L1043.4,1160.2 L1045.2,1159.4 L1047.0,1158.7 L1048.8,1157.9 L1050.6,1157.1 L1052.4,1156.3 L1054.2,1155.5 L1055.9,1154.6 L1057.7,1153.7 L1059.4,1152.8 L1061.2,1151.8 L1062.9,1150.8 L1064.6,1149.8 L1066.3,1148.8 L1068.0,1147.7 L1069.7,1146.6 L1071.3,1145.5 L1073.0,1144.3 L1074.6,1143.2 L1076.2,1142.0 L1077.8,1140.8 L1079.4,1139.5 L1081.0,1138.3 L1082.6,1137.0 L1084.1,1135.7 L1085.6,1134.3 L1087.2,1133.0 L1088.6,1131.6 L1090.1,1130.2 L1091.6,1128.8 L1093.0,1127.4 L1094.4,1126.0 L1095.8,1124.5 L1097.2,1123.0 L1098.5,1121.5 L1099.9,1120.0 L1101.2,1118.5 L1102.5,1116.9 L1103.7,1115.4 L1105.0,1113.8 L1106.2,1112.2 L1107.4,1110.6 L1108.5,1109.0 L1109.7,1107.4 L1110.8,1105.7 L1111.9,1104.1 L1113.0,1102.4 L1114.0,1100.7 L1115.1,1099.1 L1116.1,1097.4 L1117.1,1095.7 L1118.1,1093.9 L1119.0,1092.2 L1120.0,1090.5 L1120.9,1088.7 L1121.8,1086.9 L1122.7,1085.2 L1123.6,1083.4 L1124.4,1081.6 L1125.3,1079.8 L1126.1,1078.0 L1126.9,1076.2 L1127.7,1074.4 L1128.5,1072.5 L1129.2,1070.7 L1130.0,1068.9 L1130.7,1067.0 L1131.5,1065.1 L1132.2,1063.3 L1132.9,1061.4 L1133.6,1059.5 L1134.3,1057.6 L1134.9,1055.8 L1135.6,1053.9 L1136.3,1052.0 L1136.9,1050.1 L1137.5,1048.2 L1138.2,1046.3 L1138.8,1044.3 L1139.4,1042.4 L1140.0,1040.5 L1140.6,1038.6 L1141.2,1036.7 L1141.8,1034.7 L1142.3,1032.8 L1142.9,1030.9 L1143.5,1028.9 L1144.1,1027.0 L1144.6,1025.1 L1145.2,1023.1 L1145.7,1021.2 L1146.3,1019.3 L1146.8,1017.3 L1147.4,1015.4 L1147.9,1013.4 L1148.5,1011.5 L1149.0,1009.6 L1149.6,1007.6 L1150.1,1005.7 L1150.7,1003.8 L1151.2,1001.9 L1151.8,999.9 L1152.3,998.0 L1152.9,996.1 L1153.4,994.2 L1153.9,992.2 L1154.5,990.3 L1155.0,988.4 L1155.6,986.5 L1156.1,984.5 L1156.6,982.6 L1157.2,980.7 L1157.7,978.8 L1158.3,976.8 L1158.8,974.9 L1159.3,973.0 L1159.9,971.1 L1160.4,969.2 L1160.9,967.2 L1161.4,965.3 L1162.0,963.4 L1162.5,961.5 L1163.0,959.6 L1163.5,957.6 L1164.0,955.7 L1164.5,953.8 L1165.1,951.9 L1165.6,950.0 L1166.1,948.0 L1166.6,946.1 L1167.1,944.2 L1167.6,942.3 L1168.1,940.3 L1168.6,938.4 L1169.1,936.5 L1169.6,934.5 L1170.0,932.6 L1170.5,930.7 L1171.0,928.8 L1171.5,926.8 L1172.0,924.9 L1172.4,922.9 L1172.9,921.0 L1173.4,919.1 L1173.8,917.1 L1174.3,915.2 L1174.8,913.2 L1175.2,911.3 L1175.7,909.3 L1176.1,907.4 L1176.5,905.4 L1177.0,903.5 L1177.4,901.5 L1177.9,899.6 L1178.3,897.6 L1178.7,895.7 L1179.2,893.7 L1179.6,891.8 L1180.0,889.8 L1180.5,887.9 L1180.9,885.9 L1181.3,883.9 L1181.8,882.0 L1182.2,880.0 L1182.6,878.1 L1183.1,876.1 L1183.5,874.1 L1183.9,872.2 L1184.4,870.2 L1184.8,868.3 L1185.2,866.3 L1185.7,864.4 L1186.1,862.4 L1186.6,860.4 L1187.0,858.5 L1187.5,856.5 L1187.9,854.6 L1188.4,852.6 L1188.9,850.7 L1189.3,848.7 L1189.8,846.8 L1190.3,844.9 L1190.7,842.9 L1191.2,841.0 L1191.7,839.0 L1192.2,837.1 L1192.7,835.2 L1193.2,833.2 L1193.7,831.3 L1194.3,829.4 L1194.8,827.4 L1195.3,825.5 L1195.9,823.6 L1196.4,821.7 L1197.0,819.8 L1197.5,817.9 L1198.1,816.0 L1198.7,814.0 L1199.2,812.1 L1199.8,810.2 L1200.4,808.4 L1201.0,806.5 L1201.7,804.6 L1202.3,802.7 L1203.0,800.8 L1203.6,798.9 L1204.3,797.1 L1205.0,795.2 L1205.8,793.4 L1206.6,791.5 L1207.4,789.7 L1208.2,787.9 L1209.1,786.1 L1210.0,784.3 L1211.0,782.5 L1212.0,780.8 L1213.1,779.1 L1214.3,777.3 L1215.5,775.6 L1216.7,773.9 L1218.0,772.3 L1219.4,770.8 L1220.9,769.3 L1222.4,768.0 L1224.1,766.7 L1225.7,765.7 L1227.5,764.7 L1229.3,763.9 L1231.2,763.3 L1233.1,762.8 L1235.0,762.4 L1237.0,762.1 L1239.0,761.9 L1240.9,761.9 L1242.9,762.0 L1244.9,762.2 L1246.8,762.6 L1248.8,763.1 L1250.6,763.6 L1252.5,764.3 L1254.3,765.2 L1256.0,766.1 L1257.7,767.1 L1259.4,768.2 L1261.1,769.4 L1262.7,770.6 L1264.2,772.0 L1265.7,773.4 L1267.2,774.8 L1268.6,776.3 L1270.0,777.9 L1271.4,779.5 L1272.7,781.1 L1274.0,782.8 L1275.2,784.5 L1276.4,786.2 L1277.5,787.9 L1278.7,789.6 L1279.8,791.3 L1280.8,793.1 L1281.8,794.8 L1282.8,796.5 L1283.8,798.3 L1284.7,800.0 L1285.6,801.8 L1286.5,803.6 L1287.4,805.3 L1288.2,807.1 L1289.1,808.9 L1289.9,810.7 L1290.7,812.5 L1291.5,814.2 L1292.3,816.0 L1293.1,817.8 L1293.9,819.6 L1294.6,821.4 L1295.4,823.3 L1296.2,825.1 L1296.9,826.9 L1297.7,828.7 L1298.5,830.5 L1299.2,832.3 L1300.0,834.1 L1300.8,836.0 L1301.6,837.8 L1302.3,839.6 L1303.1,841.5 L1303.9,843.3 L1304.6,845.1 L1305.4,846.9 L1306.2,848.8 L1307.0,850.6 L1307.7,852.4 L1308.5,854.3 L1309.3,856.1 L1310.1,858.0 L1310.9,859.8 L1311.6,861.6 L1312.4,863.5 L1313.2,865.3 L1314.0,867.2 L1314.8,869.0 L1315.6,870.8 L1316.4,872.7 L1317.2,874.5 L1318.0,876.4 L1318.8,878.2 L1319.6,880.1 L1320.4,881.9 L1321.2,883.7 L1322.0,885.6 L1322.9,887.4 L1323.7,889.2 L1324.5,891.1 L1325.3,892.9 L1326.2,894.8 L1327.0,896.6 L1327.8,898.4 L1328.7,900.2 L1329.5,902.1 L1330.4,903.9 L1331.2,905.7 L1332.1,907.6 L1332.9,909.4 L1333.8,911.2 L1334.7,913.0 L1335.5,914.8 L1336.4,916.6 L1337.3,918.4 L1338.2,920.3 L1339.1,922.1 L1340.0,923.9 L1340.9,925.7 L1341.8,927.4 L1342.7,929.2 L1343.6,931.0 L1344.6,932.8 L1345.5,934.6 L1346.4,936.3 L1347.4,938.1 L1348.4,939.8 L1349.3,941.6 L1350.3,943.3 L1351.3,945.0 L1352.3,946.7 L1353.3,948.5 L1354.3,950.2 L1355.3,951.8 L1356.3,953.5 L1357.3,955.2 L1358.4,956.8 L1359.4,958.5 L1360.5,960.1 L1361.6,961.8 L1362.6,963.4 L1363.7,965.0 L1364.8,966.5 L1366.0,968.1 L1367.1,969.7 L1368.2,971.2 L1369.4,972.7 L1370.6,974.2 L1371.8,975.7 L1373.0,977.1 L1374.3,978.5 L1375.6,979.9 L1377.0,981.2 L1378.4,982.6 L1379.8,983.9 L1381.2,985.2 L1382.6,986.5 L1384.1,987.8 L1385.5,989.2 L1387.0,990.5 L1388.5,991.8 L1390.0,993.1 L1391.5,994.3 L1393.0,995.6 L1394.6,996.8 L1396.2,998.0 L1397.8,999.2 L1399.4,1000.3 L1401.1,1001.4 L1402.7,1002.5 L1404.4,1003.5 L1406.1,1004.5 L1407.9,1005.4 L1409.7,1006.3 L1411.5,1007.2 L1413.3,1008.0 L1415.1,1008.8 L1416.9,1009.6 L1418.7,1010.4 L1420.6,1011.2 L1422.4,1011.9 L1424.3,1012.7 L1426.1,1013.5 L1427.9,1014.3 L1429.8,1015.1 L1431.6,1015.8 L1433.4,1016.6 L1435.3,1017.4 L1437.1,1018.1 L1438.9,1018.8 L1440.8,1019.5 L1442.7,1020.1 L1444.5,1020.7 L1446.4,1021.2 L1448.3,1021.7 L1450.3,1022.1 L1452.2,1022.5 L1454.1,1022.9 L1456.1,1023.3 L1458.0,1023.7 L1460.0,1024.1 L1461.9,1024.5 L1463.9,1024.9 L1465.8,1025.4 L1467.7,1025.9 L1469.7,1026.4 L1471.6,1026.9 L1473.5,1027.4 L1475.5,1027.8 L1477.4,1028.3 L1479.3,1028.8 L1481.3,1029.3 L1483.2,1029.8 L1485.2,1030.3 L1487.1,1030.7 L1489.0,1031.2 L1491.0,1031.7 L1492.9,1032.1 L1494.9,1032.6 L1496.8,1033.0 L1498.8,1033.5 L1500.7,1033.9 L1502.7,1034.3 L1504.6,1034.8 L1506.6,1035.2 L1508.5,1035.6 L1510.5,1036.1 L1512.4,1036.5 L1514.4,1036.9 L1516.3,1037.3 L1518.3,1037.7 L1520.3,1038.1 L1522.2,1038.5 L1524.2,1038.9 L1526.1,1039.3 L1528.1,1039.7 L1530.1,1040.1 L1532.0,1040.5 L1534.0,1040.8 L1535.9,1041.2 L1537.9,1041.6 L1539.9,1041.9 L1541.8,1042.3 L1543.8,1042.7 L1545.8,1043.0 L1547.8,1043.4 L1549.7,1043.7 L1551.7,1044.1 L1553.7,1044.4 L1555.6,1044.8 L1557.6,1045.1 L1559.6,1045.5 L1561.5,1045.8 L1563.5,1046.2 L1565.5,1046.6 L1567.4,1046.9 L1569.4,1047.3 L1571.3,1047.7 L1573.3,1048.1 L1575.2,1048.6 L1577.2,1049.0 L1579.1,1049.5 L1581.1,1049.9 L1583.0,1050.4 L1584.9,1050.9 L1586.9,1051.5 L1588.8,1052.0 L1590.7,1052.5 L1592.6,1053.0 L1594.6,1053.5 L1596.5,1053.9 L1598.4,1054.4 L1600.4,1054.8 L1602.3,1055.2 L1604.3,1055.5 L1606.3,1055.8 L1608.2,1056.0 L1610.2,1056.2 L1612.2,1056.4 L1614.2,1056.6 L1616.2,1056.7 L1618.2,1056.8 L1620.2,1056.9 L1622.2,1057.0 L1624.2,1057.0 L1626.2,1057.1 L1628.2,1057.2 L1630.2,1057.3 L1632.2,1057.4 L1634.2,1057.6 L1636.2,1057.7 L1638.2,1057.9 L1640.1,1058.1 L1642.1,1058.3 L1644.1,1058.5 L1646.1,1058.7 L1648.1,1059.0 L1650.1,1059.2 L1652.0,1059.4 L1654.0,1059.7 L1656.0,1059.9 L1658.0,1060.2 L1660.0,1060.4 L1662.0,1060.6 L1663.9,1060.9 L1665.9,1061.1 L1667.9,1061.4 L1669.9,1061.6 L1671.9,1061.8 L1673.9,1062.1 L1675.9,1062.3 L1677.9,1062.5 L1679.9,1062.7 L1681.9,1062.9 L1683.8,1063.2 L1685.8,1063.4 L1687.8,1063.6 L1689.8,1063.8 L1691.8,1064.0 L1693.8,1064.1 L1695.8,1064.3 L1697.8,1064.5 L1699.8,1064.7 L1701.8,1064.8 L1703.8,1065.0 L1705.8,1065.1 L1707.8,1065.2 L1709.8,1065.4 L1711.8,1065.5 L1713.8,1065.6 L1715.8,1065.7 L1717.7,1065.8 L1719.7,1065.9 L1721.7,1065.9 L1723.7,1066.0 L1725.7,1066.0 L1727.7,1066.1 L1729.7,1066.1 L1731.7,1066.1 L1733.7,1066.1 L1735.7,1066.1 L1737.7,1066.0 L1739.7,1066.0 L1741.7,1065.9 L1743.7,1065.9 L1745.7,1065.8 L1747.7,1065.7 L1749.7,1065.6 L1751.7,1065.5 L1753.7,1065.4 L1755.7,1065.2 L1757.7,1065.1 L1759.7,1065.0 L1761.6,1064.8 L1763.6,1064.6 L1765.6,1064.5 L1767.6,1064.3 L1769.6,1064.1 L1771.6,1063.9 L1773.6,1063.8 L1775.6,1063.6 L1777.6,1063.4 L1779.6,1063.2 L1781.5,1063.0 L1783.5,1062.8 L1785.5,1062.6 L1787.5,1062.3 L1789.5,1062.1 L1791.5,1061.9 L1793.4,1061.7 L1795.4,1061.5 L1797.4,1061.3 L1799.4,1061.1 L1801.4,1060.8 L1803.3,1060.6 L1805.3,1060.4 L1807.3,1060.2 L1809.3,1060.0 L1811.3,1059.8 L1813.2,1059.5 L1815.2,1059.3 L1817.2,1059.1 L1819.2,1058.9 L1821.2,1058.7 L1823.2,1058.5 L1825.1,1058.3 L1827.1,1058.1 L1829.1,1057.9 L1831.1,1057.7 L1833.1,1057.5 L1835.1,1057.3 L1837.0,1057.1 L1839.0,1056.9 L1841.0,1056.8 L1843.0,1056.6 L1845.0,1056.4 L1847.0,1056.3 L1849.0,1056.1 L1851.0,1055.9 L1853.0,1055.8 L1855.0,1055.6 L1857.0,1055.5 L1859.0,1055.3 L1861.0,1055.1 L1863.0,1055.0 L1864.9,1054.8 L1866.9,1054.7 L1868.9,1054.5 L1870.9,1054.3 L1872.9,1054.2 L1874.9,1054.0 L1876.9,1053.8 L1878.9,1053.7 L1880.9,1053.5 L1882.9,1053.3 L1884.9,1053.1 L1886.9,1052.9 L1888.9,1052.7 L1890.8,1052.5 L1892.8,1052.3 L1894.8,1052.1 L1896.8,1051.9 L1898.8,1051.7 L1900.8,1051.5 L1902.8,1051.3 L1904.8,1051.1 L1906.7,1050.9 L1908.7,1050.7 L1910.7,1050.4 L1912.7,1050.2 L1914.7,1050.0 L1916.7,1049.8 L1918.7,1049.5 L1920.6,1049.3 L1922.6,1049.1 L1924.6,1048.8 L1926.6,1048.6 L1928.6,1048.3 L1930.5,1048.1 L1932.5,1047.9 L1934.5,1047.6 L1936.5,1047.4 L1938.5,1047.1 L1940.5,1046.9 L1942.4,1046.6 L1944.4,1046.4 L1946.4,1046.1 L1948.4,1045.9 L1950.4,1045.6 L1952.3,1045.4 L1954.3,1045.1 L1956.3,1044.8 L1958.3,1044.6 L1960.3,1044.3 L1962.2,1044.1 L1964.2,1043.8 L1966.2,1043.5 L1968.2,1043.3 L1970.1,1043.0 L1972.1,1042.7 L1974.1,1042.5 L1976.1,1042.2 L1978.1,1041.9 L1980.0,1041.7 L1982.0,1041.4 L1984.0,1041.1 L1986.0,1040.9 L1987.9,1040.6 L1989.9,1040.3 L1991.9,1040.1 L1993.9,1039.8 L1995.9,1039.5 L1997.8,1039.2 L1999.8,1039.0 L2001.8,1038.7 L2003.8,1038.4 L2005.7,1038.2 L2007.7,1037.9 L2009.7,1037.6 L2011.7,1037.3 L2013.7,1037.1 L2015.6,1036.8 L2017.6,1036.5 L2019.6,1036.3 L2021.6,1036.0 L2023.5,1035.7 L2025.5,1035.4 L2027.5,1035.2 L2029.5,1034.9 L2031.5,1034.6 L2033.4,1034.4 L2035.4,1034.1 L2037.4,1033.8 L2039.4,1033.5 L2041.4,1033.3 L2043.3,1033.0 L2045.3,1032.7 L2047.3,1032.5 L2049.3,1032.2 L2051.3,1031.9 L2053.2,1031.7 L2055.2,1031.4 L2057.2,1031.1 L2059.2,1030.8 L2061.2,1030.6 L2063.1,1030.3 L2065.1,1030.0 L2067.1,1029.8 L2069.1,1029.5 L2071.1,1029.3 L2073.0,1029.0 L2075.0,1028.7 L2077.0,1028.5 L2079.0,1028.2 L2081.0,1028.0 L2083.0,1027.7 L2084.9,1027.4 L2086.9,1027.2 L2088.9,1026.9 L2090.9,1026.7 L2092.9,1026.4 L2094.9,1026.2 L2096.8,1025.9 L2098.8,1025.7 L2100.8,1025.4 L2102.8,1025.2 L2104.8,1024.9 L2106.8,1024.7 L2108.7,1024.5 L2110.7,1024.2 L2112.7,1024.0 L2114.7,1023.7 L2116.7,1023.5 L2118.7,1023.3 L2120.7,1023.0 L2122.6,1022.8 L2124.6,1022.6 L2126.6,1022.4 L2128.6,1022.1 L2130.6,1021.9 L2132.6,1021.7 L2134.6,1021.5 L2136.5,1021.3 L2138.5,1021.1 L2140.5,1020.9 L2142.5,1020.6 L2144.5,1020.4 L2146.5,1020.2 L2148.5,1020.0 L2150.5,1019.8 L2152.4,1019.6 L2154.4,1019.5 L2156.4,1019.3 L2158.4,1019.1 L2160.4,1018.9 L2162.4,1018.7 L2164.4,1018.5 L2166.4,1018.4 L2168.4,1018.2 L2170.4,1018.0 L2172.3,1017.8 L2174.3,1017.7 L2176.3,1017.5 L2178.3,1017.4 L2180.3,1017.2 L2182.3,1017.0 L2184.3,1016.9 L2186.3,1016.7 L2188.3,1016.6 L2190.3,1016.5 L2192.3,1016.3 L2194.3,1016.2 L2196.3,1016.1 L2198.3,1015.9 L2200.2,1015.8 L2202.2,1015.7 L2204.2,1015.6 L2206.2,1015.5 L2208.2,1015.4 L2210.2,1015.2 L2212.2,1015.1 L2214.2,1015.1 L2216.2,1015.0 L2218.2,1014.9 L2220.2,1014.8 L2222.2,1014.7 L2224.2,1014.6 L2226.2,1014.5 L2228.2,1014.5 L2230.2,1014.4 L2232.2,1014.3" stroke="#ff00ff" stroke-width="8.6"/>
<path d="M268.7,964.4 L270.7,964.4 L272.7,964.5 L274.7,964.5 L276.7,964.6 L278.7,964.6 L280.7,964.7 L282.7,964.7 L284.7,964.8 L286.7,964.8 L288.7,964.8 L290.7,964.9 L292.7,964.9 L294.7,964.9 L296.7,964.9 L298.7,965.0 L300.7,965.0 L302.7,965.0 L304.7,965.0 L306.7,965.0 L308.7,965.0 L310.7,965.0 L312.7,965.0 L314.7,965.0 L316.7,965.0 L318.7,965.0 L320.7,965.0 L322.7,965.0 L324.7,964.9 L326.7,964.9 L328.7,964.9 L330.7,964.9 L332.7,964.8 L334.7,964.8 L336.7,964.8 L338.7,964.7 L340.7,964.7 L342.7,964.7 L344.7,964.6 L346.7,964.6 L348.7,964.5 L350.7,964.5 L352.7,964.5 L354.7,964.4 L356.7,964.4 L358.7,964.3 L360.7,964.2 L362.7,964.2 L364.7,964.1 L366.7,964.1 L368.7,964.0 L370.7,963.9 L372.7,963.9 L374.7,963.8 L376.7,963.7 L378.7,963.7 L380.7,963.6 L382.7,963.5 L384.7,963.5 L386.7,963.4 L388.7,963.3 L390.7,963.2 L392.7,963.1 L394.7,963.1 L396.7,963.0 L398.7,962.9 L400.7,962.8 L402.6,962.7 L404.6,962.6 L406.6,962.6 L408.6,962.5 L410.6,962.4 L412.6,962.3 L414.6,962.2 L416.6,962.1 L418.6,962.0 L420.6,961.9 L422.6,961.9 L424.6,961.8 L426.6,961.7 L428.6,961.6 L430.6,961.5 L432.6,961.4 L434.6,961.3 L436.6,961.2 L438.6,961.1 L440.6,961.0 L442.6,960.9 L444.6,960.8 L446.6,960.7 L448.6,960.6 L450.5,960.5 L452.5,960.4 L454.5,960.3 L456.5,960.3 L458.5,960.2 L460.5,960.1 L462.5,960.0 L464.5,959.9 L466.5,959.8 L468.5,959.7 L470.5,959.6 L472.5,959.5 L474.5,959.4 L476.5,959.3 L478.5,959.2 L480.5,959.1 L482.5,959.1 L484.5,959.0 L486.5,958.9 L488.5,958.8 L490.5,958.7 L492.5,958.6 L494.5,958.5 L496.5,958.4 L498.4,958.4 L500.4,958.3 L502.4,958.2 L504.4,958.1 L506.4,958.0 L508.4,958.0 L510.4,957.9 L512.4,957.8 L514.4,957.7 L516.4,957.7 L518.4,957.6 L520.4,957.5 L522.4,957.5 L524.4,957.4 L526.4,957.3 L528.4,957.3 L530.4,957.2 L532.4,957.1 L534.4,957.1 L536.4,957.0 L538.4,957.0 L540.4,956.9 L542.4,956.9 L544.4,956.8 L546.4,956.8 L548.4,956.7 L550.4,956.7 L552.4,956.6 L554.4,956.6 L556.4,956.6 L558.4,956.5 L560.4,956.5 L562.4,956.5 L564.4,956.4 L566.4,956.4 L568.4,956.4 L570.4,956.4 L572.4,956.3 L574.4,956.3 L576.4,956.3 L578.4,956.3 L580.4,956.3 L582.4,956.3 L584.4,956.2 L586.4,956.2 L588.4,956.2 L590.4,956.2 L592.4,956.2 L594.4,956.2 L596.4,956.2 L598.4,956.2 L600.4,956.2 L602.4,956.2 L604.4,956.2 L606.4,956.3 L608.4,956.3 L610.4,956.3 L612.4,956.3 L614.4,956.3 L616.4,956.3 L618.4,956.3 L620.4,956.3 L622.4,956.4 L624.4,956.4 L626.4,956.4 L628.4,956.4 L630.4,956.4 L632.4,956.4 L634.4,956.5 L636.4,956.5 L638.4,956.5 L640.4,956.5 L642.4,956.5 L644.4,956.6 L646.4,956.6 L648.4,956.6 L650.4,956.6 L652.4,956.6 L654.5,956.7 L656.5,956.7 L658.5,956.7 L660.5,956.7 L662.5,956.8 L664.5,956.8 L666.5,956.8 L668.5,956.8 L670.5,956.8 L672.5,956.8 L674.5,956.9 L676.5,956.9 L678.5,956.9 L680.5,956.9 L682.5,956.9 L684.5,957.0 L686.5,957.0 L688.5,957.0 L690.5,957.0 L692.5,957.0 L694.5,957.0 L696.5,957.0 L698.5,957.0 L700.5,957.0 L702.5,957.0 L704.5,957.0 L706.5,957.0 L708.5,957.1 L710.5,957.1 L712.5,957.0 L714.5,957.0 L716.5,957.0 L718.5,957.0 L720.5,957.0 L722.5,957.0 L724.5,957.0 L726.5,957.0 L728.5,957.0 L730.5,957.0 L732.5,956.9 L734.5,956.9 L736.5,956.9 L738.5,956.9 L740.5,956.8 L742.4,956.8 L744.4,956.8 L746.4,956.7 L748.4,956.7 L750.4,956.7 L752.4,956.6 L754.4,956.6 L756.4,956.5 L758.4,956.5 L760.4,956.4 L762.4,956.4 L764.4,956.3 L766.4,956.3 L768.4,956.2 L770.4,956.1 L772.4,956.0 L774.4,956.0 L776.4,955.9 L778.3,955.8 L780.3,955.7 L782.3,955.6 L784.3,955.6 L786.3,955.5 L788.3,955.4 L790.3,955.3 L792.3,955.2 L794.3,955.1 L796.3,954.9 L798.3,954.8 L800.2,954.7 L802.2,954.6 L804.2,954.5 L806.2,954.3 L808.2,954.2 L810.2,954.1 L812.2,953.9 L814.2,953.8 L816.1,953.6 L818.1,953.5 L820.1,953.3 L822.1,953.1 L824.1,953.0 L826.1,952.8 L828.1,952.6 L830.0,952.4 L832.0,952.2 L834.0,952.0 L836.0,951.8 L838.0,951.6 L839.9,951.4 L841.9,951.2 L843.9,950.9 L845.9,950.7 L847.8,950.4 L849.8,950.2 L851.8,949.9 L853.8,949.6 L855.7,949.3 L857.7,949.0 L859.6,948.7 L861.6,948.3 L863.6,948.0 L865.5,947.6 L867.5,947.2 L869.4,946.8 L871.4,946.4 L873.3,946.0 L875.3,945.6 L877.2,945.1 L879.1,944.6 L881.1,944.1 L883.0,943.6 L884.9,943.1 L886.9,942.6 L888.8,942.0 L890.7,941.5 L892.6,941.0 L894.6,940.5 L896.5,939.9 L898.4,939.4 L900.4,938.9 L902.3,938.4 L904.2,937.9 L906.2,937.5 L908.1,937.0 L910.1,936.6 L912.0,936.1 L914.0,935.7 L916.0,935.3 L917.9,934.9 L919.9,934.6 L921.8,934.2 L923.8,933.8 L925.8,933.5 L927.8,933.2 L929.7,932.9 L931.7,932.6 L933.7,932.3 L935.7,932.0 L937.7,931.7 L939.6,931.4 L941.6,931.2 L943.6,930.9 L945.6,930.7 L947.6,930.5 L949.6,930.3 L951.6,930.1 L953.6,929.8 L955.6,929.7 L957.6,929.5 L959.6,929.3 L961.6,929.1 L963.6,928.9 L965.6,928.8 L967.6,928.6 L969.6,928.5 L971.6,928.3 L973.6,928.2 L975.6,928.1 L977.6,927.9 L979.6,927.8 L981.6,927.7 L983.6,927.6 L985.6,927.5 L987.6,927.4 L989.6,927.3 L991.6,927.2 L993.6,927.1 L995.6,927.0 L997.6,926.9 L999.6,926.8 L1001.6,926.7 L1003.5,926.6 L1005.5,926.5 L1007.5,926.4 L1009.5,926.3 L1011.5,926.2 L1013.5,926.2 L1015.5,926.1 L1017.5,926.0 L1019.5,925.9 L1021.5,925.8 L1023.5,925.7 L1025.5,925.6 L1027.5,925.6 L1029.5,925.5 L1031.5,925.4 L1033.4,925.3 L1035.4,925.2 L1037.4,925.1 L1039.4,924.9 L1041.4,924.8 L1043.4,924.7 L1045.4,924.5 L1047.3,924.3 L1049.3,924.1 L1051.3,923.9 L1053.2,923.7 L1055.2,923.5 L1057.2,923.2 L1059.1,922.9 L1061.1,922.6 L1063.0,922.3 L1064.9,921.9 L1066.9,921.5 L1068.8,921.1 L1070.7,920.6 L1072.6,920.1 L1074.5,919.6 L1076.4,919.1 L1078.3,918.5 L1080.2,917.8 L1082.1,917.2 L1083.9,916.5 L1085.8,915.7 L1087.6,914.9 L1089.4,914.1 L1091.3,913.2 L1093.1,912.3 L1094.9,911.4 L1096.6,910.4 L1098.4,909.4 L1100.1,908.4 L1101.9,907.3 L1103.6,906.2 L1105.3,905.0 L1106.9,903.9 L1108.6,902.7 L1110.2,901.4 L1111.8,900.2 L1113.4,898.9 L1115.0,897.6 L1116.5,896.2 L1118.0,894.9 L1119.5,893.5 L1120.9,892.1 L1122.4,890.6 L1123.7,889.2 L1125.1,887.7 L1126.4,886.2 L1127.7,884.7 L1129.0,883.1 L1130.3,881.6 L1131.5,880.0 L1132.6,878.4 L1133.8,876.8 L1134.9,875.1 L1136.0,873.5 L1137.1,871.8 L1138.1,870.1 L1139.1,868.4 L1140.1,866.7 L1141.1,865.0 L1142.1,863.2 L1143.0,861.5 L1143.9,859.7 L1144.8,858.0 L1145.6,856.2 L1146.5,854.4 L1147.3,852.6 L1148.1,850.7 L1148.9,848.9 L1149.7,847.1 L1150.4,845.2 L1151.2,843.4 L1151.9,841.5 L1152.6,839.6 L1153.3,837.8 L1154.0,835.9 L1154.7,834.0 L1155.3,832.1 L1156.0,830.2 L1156.6,828.3 L1157.3,826.4 L1157.9,824.5 L1158.5,822.6 L1159.1,820.7 L1159.7,818.8 L1160.3,816.9 L1160.9,815.0 L1161.5,813.1 L1162.1,811.2 L1162.7,809.2 L1163.2,807.3 L1163.8,805.4 L1164.4,803.5 L1164.9,801.6 L1165.4,799.6 L1166.0,797.7 L1166.5,795.8 L1167.0,793.9 L1167.5,791.9 L1168.1,790.0 L1168.6,788.1 L1169.1,786.1 L1169.6,784.2 L1170.1,782.3 L1170.5,780.3 L1171.0,778.4 L1171.5,776.5 L1172.0,774.5 L1172.4,772.6 L1172.9,770.6 L1173.3,768.7 L1173.8,766.8 L1174.2,764.8 L1174.7,762.9 L1175.1,760.9 L1175.5,759.0 L1176.0,757.0 L1176.4,755.1 L1176.8,753.1 L1177.2,751.2 L1177.6,749.2 L1178.0,747.3 L1178.4,745.3 L1178.8,743.3 L1179.2,741.4 L1179.6,739.4 L1180.0,737.5 L1180.3,735.5 L1180.7,733.5 L1181.1,731.6 L1181.5,729.6 L1181.8,727.7 L1182.2,725.7 L1182.5,723.7 L1182.9,721.8 L1183.2,719.8 L1183.6,717.8 L1183.9,715.9 L1184.3,713.9 L1184.6,711.9 L1184.9,709.9 L1185.3,708.0 L1185.6,706.0 L1185.9,704.0 L1186.3,702.1 L1186.6,700.1 L1186.9,698.1 L1187.2,696.1 L1187.5,694.2 L1187.8,692.2 L1188.1,690.2 L1188.5,688.2 L1188.8,686.3 L1189.1,684.3 L1189.4,682.3 L1189.7,680.3 L1190.0,678.3 L1190.3,676.4 L1190.5,674.4 L1190.8,672.4 L1191.1,670.4 L1191.4,668.4 L1191.7,666.5 L1192.0,664.5 L1192.3,662.5 L1192.6,660.5 L1192.8,658.5 L1193.1,656.6 L1193.4,654.6 L1193.7,652.6 L1194.0,650.6 L1194.2,648.6 L1194.5,646.6 L1194.8,644.7 L1195.1,642.7 L1195.3,640.7 L1195.6,638.7 L1195.9,636.7 L1196.2,634.7 L1196.4,632.8 L1196.7,630.8 L1197.0,628.8 L1197.2,626.8 L1197.5,624.8 L1197.8,622.8 L1198.1,620.8 L1198.3,618.9 L1198.6,616.9 L1198.9,614.9 L1199.1,612.9 L1199.4,610.9 L1199.7,608.9 L1200.0,607.0 L1200.2,605.0 L1200.5,603.0 L1200.8,601.0 L1201.0,599.0 L1201.3,597.0 L1201.6,595.0 L1201.9,593.1 L1202.1,591.1 L1202.4,589.1 L1202.7,587.1 L1202.9,585.1 L1203.2,583.1 L1203.5,581.2 L1203.7,579.2 L1204.0,577.2 L1204.3,575.2 L1204.6,573.2 L1204.8,571.2 L1205.1,569.3 L1205.4,567.3 L1205.6,565.3 L1205.9,563.3 L1206.2,561.3 L1206.4,559.3 L1206.7,557.4 L1207.0,555.4 L1207.3,553.4 L1207.5,551.4 L1207.8,549.4 L1208.1,547.4 L1208.3,545.5 L1208.6,543.5 L1208.9,541.5 L1209.2,539.5 L1209.4,537.5 L1209.7,535.6 L1210.0,533.6 L1210.3,531.6 L1210.5,529.6 L1210.8,527.6 L1211.1,525.6 L1211.4,523.7 L1211.6,521.7 L1211.9,519.7 L1212.2,517.7 L1212.5,515.8 L1212.8,513.8 L1213.0,511.8 L1213.3,509.8 L1213.6,507.8 L1213.9,505.9 L1214.2,503.9 L1214.4,501.9 L1214.7,499.9 L1215.0,498.0 L1215.3,496.0 L1215.6,494.0 L1215.8,492.0 L1216.1,490.0 L1216.4,488.1 L1216.7,486.1 L1217.0,484.1 L1217.3,482.1 L1217.6,480.2 L1217.8,478.2 L1218.1,476.2 L1218.4,474.3 L1218.7,472.3 L1219.0,470.3 L1219.3,468.3 L1219.6,466.4 L1219.9,464.4 L1220.2,462.4 L1220.5,460.5 L1220.8,458.5 L1221.1,456.5 L1221.4,454.5 L1221.7,452.6 L1222.0,450.6 L1222.3,448.6 L1222.6,446.7 L1222.9,444.7 L1223.2,442.7 L1223.5,440.8 L1223.8,438.8 L1224.1,436.8 L1224.4,434.9 L1224.7,432.9 L1225.0,430.9 L1225.4,429.0 L1225.7,427.0 L1226.0,425.1 L1226.3,423.1 L1226.7,421.1 L1227.0,419.2 L1227.4,417.2 L1227.7,415.3 L1228.1,413.3 L1228.4,411.3 L1228.8,409.4 L1229.1,407.4 L1229.5,405.5 L1229.9,403.5 L1230.3,401.6 L1230.7,399.6 L1231.1,397.7 L1231.5,395.7 L1231.9,393.8 L1232.3,391.8 L1232.7,389.9 L1233.2,387.9 L1233.6,386.0 L1234.1,384.0 L1234.5,382.1 L1235.0,380.1 L1235.5,378.2 L1236.0,376.2 L1236.5,374.3 L1237.0,372.4 L1237.5,370.4 L1238.0,368.5 L1238.6,366.6 L1239.1,364.6 L1239.7,362.7 L1240.2,360.7 L1240.8,358.8 L1241.4,356.9 L1242.0,355.0 L1242.6,353.0 L1243.2,351.1 L1243.9,349.2 L1244.5,347.2 L1245.2,345.3 L1245.9,343.4 L1246.5,341.5 L1247.3,339.6 L1248.0,337.6 L1248.7,335.8 L1249.6,333.9 L1250.5,332.2 L1251.6,330.6 L1252.8,329.2 L1254.2,328.0 L1255.9,327.0 L1257.7,326.3 L1259.6,326.1 L1261.4,326.4 L1263.2,327.2 L1264.9,328.3 L1266.5,329.7 L1268.0,331.2 L1269.4,332.8 L1270.7,334.3 L1271.9,335.9 L1273.1,337.6 L1274.2,339.2 L1275.2,340.9 L1276.2,342.6 L1277.2,344.3 L1278.1,346.0 L1279.0,347.8 L1279.9,349.5 L1280.7,351.3 L1281.5,353.1 L1282.3,354.9 L1283.1,356.7 L1283.8,358.6 L1284.5,360.4 L1285.2,362.3 L1285.8,364.1 L1286.5,366.0 L1287.1,367.9 L1287.7,369.8 L1288.3,371.7 L1288.9,373.6 L1289.4,375.5 L1290.0,377.4 L1290.5,379.3 L1291.1,381.3 L1291.6,383.2 L1292.1,385.1 L1292.6,387.1 L1293.2,389.0 L1293.7,390.9 L1294.2,392.9 L1294.7,394.8 L1295.2,396.8 L1295.7,398.7 L1296.2,400.6 L1296.7,402.6 L1297.2,404.5 L1297.7,406.5 L1298.1,408.4 L1298.6,410.4 L1299.1,412.3 L1299.5,414.3 L1300.0,416.2 L1300.5,418.2 L1300.9,420.1 L1301.3,422.1 L1301.8,424.0 L1302.2,426.0 L1302.6,427.9 L1303.0,429.9 L1303.4,431.9 L1303.8,433.8 L1304.2,435.8 L1304.6,437.7 L1305.0,439.7 L1305.4,441.6 L1305.8,443.6 L1306.2,445.6 L1306.5,447.5 L1306.9,449.5 L1307.3,451.4 L1307.6,453.4 L1308.0,455.4 L1308.3,457.3 L1308.7,459.3 L1309.1,461.3 L1309.4,463.2 L1309.7,465.2 L1310.1,467.1 L1310.4,469.1 L1310.8,471.1 L1311.1,473.0 L1311.5,475.0 L1311.8,477.0 L1312.1,478.9 L1312.5,480.9 L1312.8,482.9 L1313.1,484.9 L1313.5,486.8 L1313.8,488.8 L1314.1,490.8 L1314.5,492.7 L1314.8,494.7 L1315.1,496.7 L1315.5,498.7 L1315.8,500.6 L1316.1,502.6 L1316.5,504.6 L1316.8,506.5 L1317.2,508.5 L1317.5,510.5 L1317.8,512.5 L1318.2,514.4 L1318.5,516.4 L1318.8,518.4 L1319.2,520.4 L1319.5,522.3 L1319.9,524.3 L1320.2,526.3 L1320.5,528.2 L1320.9,530.2 L1321.2,532.2 L1321.6,534.2 L1321.9,536.1 L1322.3,538.1 L1322.6,540.1 L1323.0,542.1 L1323.3,544.0 L1323.7,546.0 L1324.0,548.0 L1324.4,549.9 L1324.7,551.9 L1325.1,553.9 L1325.5,555.9 L1325.8,557.8 L1326.2,559.8 L1326.6,561.8 L1326.9,563.7 L1327.3,565.7 L1327.7,567.7 L1328.1,569.6 L1328.4,571.6 L1328.8,573.6 L1329.2,575.5 L1329.6,577.5 L1330.0,579.5 L1330.4,581.4 L1330.8,583.4 L1331.2,585.3 L1331.6,587.3 L1332.0,589.3 L1332.4,591.2 L1332.8,593.2 L1333.2,595.1 L1333.6,597.1 L1334.0,599.0 L1334.4,601.0 L1334.9,602.9 L1335.3,604.9 L1335.7,606.9 L1336.2,608.8 L1336.6,610.8 L1337.0,612.7 L1337.5,614.6 L1337.9,616.6 L1338.4,618.5 L1338.9,620.5 L1339.3,622.4 L1339.8,624.4 L1340.3,626.3 L1340.7,628.2 L1341.2,630.2 L1341.7,632.1 L1342.2,634.0 L1342.7,636.0 L1343.2,637.9 L1343.7,639.8 L1344.2,641.8 L1344.7,643.7 L1345.2,645.6 L1345.7,647.6 L1346.3,649.5 L1346.8,651.4 L1347.3,653.3 L1347.9,655.2 L1348.4,657.2 L1349.0,659.1 L1349.5,661.0 L1350.1,662.9 L1350.6,664.8 L1351.2,666.7 L1351.8,668.6 L1352.4,670.5 L1353.0,672.4 L1353.6,674.3 L1354.2,676.2 L1354.8,678.1 L1355.4,680.0 L1356.0,681.9 L1356.6,683.8 L1357.3,685.7 L1357.9,687.6 L1358.5,689.5 L1359.2,691.3 L1359.8,693.2 L1360.5,695.1 L1361.2,697.0 L1361.9,698.9 L1362.5,700.7 L1363.2,702.6 L1363.9,704.5 L1364.6,706.3 L1365.4,708.2 L1366.1,710.0 L1366.8,711.9 L1367.6,713.7 L1368.3,715.6 L1369.1,717.4 L1369.9,719.2 L1370.7,721.1 L1371.5,722.9 L1372.3,724.7 L1373.1,726.5 L1374.0,728.3 L1374.8,730.1 L1375.7,731.9 L1376.6,733.6 L1377.5,735.4 L1378.4,737.2 L1379.3,738.9 L1380.3,740.7 L1381.2,742.4 L1382.2,744.1 L1383.2,745.8 L1384.2,747.5 L1385.3,749.2 L1386.3,750.9 L1387.4,752.6 L1388.5,754.2 L1389.6,755.9 L1390.8,757.5 L1391.9,759.2 L1393.1,760.8 L1394.3,762.4 L1395.5,764.0 L1396.7,765.5 L1398.0,767.1 L1399.3,768.6 L1400.6,770.2 L1401.9,771.7 L1403.3,773.2 L1404.6,774.6 L1406.0,776.1 L1407.4,777.5 L1408.9,778.9 L1410.3,780.3 L1411.8,781.7 L1413.3,783.0 L1414.8,784.3 L1416.3,785.6 L1417.9,786.9 L1419.4,788.1 L1421.0,789.3 L1422.6,790.5 L1424.3,791.6 L1425.9,792.7 L1427.6,793.8 L1429.3,794.9 L1431.0,795.9 L1432.7,796.8 L1434.5,797.8 L1436.2,798.7 L1438.0,799.6 L1439.8,800.5 L1441.6,801.3 L1443.4,802.1 L1445.2,802.9 L1447.1,803.7 L1448.9,804.4 L1450.8,805.1 L1452.7,805.8 L1454.5,806.5 L1456.4,807.2 L1458.3,807.9 L1460.2,808.5 L1462.1,809.1 L1464.1,809.7 L1466.0,810.3 L1467.9,810.9 L1469.8,811.5 L1471.8,812.1 L1473.7,812.6 L1475.6,813.2 L1477.5,813.7 L1479.5,814.3 L1481.4,814.8 L1483.3,815.3 L1485.3,815.8 L1487.2,816.4 L1489.2,816.9 L1491.1,817.4 L1493.0,817.8 L1495.0,818.3 L1496.9,818.8 L1498.9,819.3 L1500.8,819.7 L1502.8,820.2 L1504.7,820.6 L1506.7,821.1 L1508.6,821.5 L1510.6,821.9 L1512.5,822.4 L1514.5,822.8 L1516.4,823.2 L1518.4,823.6 L1520.4,824.0 L1522.3,824.4 L1524.3,824.8 L1526.2,825.1 L1528.2,825.5 L1530.2,825.9 L1532.1,826.2 L1534.1,826.6 L1536.0,826.9 L1538.0,827.3 L1540.0,827.6 L1541.9,827.9 L1543.9,828.3 L1545.9,828.6 L1547.9,828.9 L1549.8,829.2 L1551.8,829.5 L1553.8,829.8 L1555.8,830.1 L1557.7,830.4 L1559.7,830.7 L1561.7,830.9 L1563.7,831.2 L1565.6,831.5 L1567.6,831.7 L1569.6,832.0 L1571.6,832.2 L1573.6,832.5 L1575.5,832.7 L1577.5,833.0 L1579.5,833.2 L1581.5,833.4 L1583.5,833.6 L1585.5,833.8 L1587.4,834.1 L1589.4,834.3 L1591.4,834.5 L1593.4,834.7 L1595.4,834.9 L1597.4,835.0 L1599.4,835.2 L1601.4,835.4 L1603.3,835.6 L1605.3,835.8 L1607.3,835.9 L1609.3,836.1 L1611.3,836.2 L1613.3,836.4 L1615.3,836.6 L1617.3,836.7 L1619.3,836.8 L1621.3,837.0 L1623.3,837.1 L1625.3,837.3 L1627.3,837.4 L1629.3,837.5 L1631.3,837.6 L1633.2,837.7 L1635.2,837.9 L1637.2,838.0 L1639.2,838.1 L1641.2,838.2 L1643.2,838.3 L1645.2,838.4 L1647.2,838.5 L1649.2,838.6 L1651.2,838.7 L1653.2,838.7 L1655.2,838.8 L1657.2,838.9 L1659.2,839.0 L1661.2,839.1 L1663.2,839.1 L1665.2,839.2 L1667.2,839.3 L1669.2,839.3 L1671.2,839.4 L1673.2,839.5 L1675.2,839.5 L1677.2,839.6 L1679.2,839.6 L1681.2,839.7 L1683.2,839.7 L1685.2,839.8 L1687.2,839.8 L1689.2,839.8 L1691.2,839.9 L1693.2,839.9 L1695.2,839.9 L1697.2,840.0 L1699.2,840.0 L1701.2,840.0 L1703.2,840.1 L1705.2,840.1 L1707.2,840.1 L1709.2,840.1 L1711.2,840.2 L1713.2,840.2 L1715.2,840.2 L1717.2,840.2 L1719.2,840.2 L1721.2,840.2 L1723.2,840.2 L1725.2,840.2 L1727.2,840.2 L1729.2,840.3 L1731.2,840.3 L1733.2,840.3 L1735.2,840.3 L1737.2,840.3 L1739.2,840.3 L1741.2,840.2 L1743.2,840.2 L1745.2,840.2 L1747.2,840.2 L1749.2,840.2 L1751.2,840.2 L1753.2,840.2 L1755.2,840.2 L1757.2,840.1 L1759.2,840.1 L1761.2,840.1 L1763.2,840.1 L1765.2,840.1 L1767.2,840.0 L1769.2,840.0 L1771.2,840.0 L1773.2,840.0 L1775.2,839.9 L1777.2,839.9 L1779.2,839.9 L1781.2,839.8 L1783.2,839.8 L1785.2,839.7 L1787.2,839.7 L1789.2,839.7 L1791.2,839.6 L1793.2,839.6 L1795.2,839.5 L1797.2,839.5 L1799.2,839.4 L1801.2,839.4 L1803.2,839.3 L1805.2,839.3 L1807.2,839.2 L1809.2,839.2 L1811.2,839.1 L1813.2,839.1 L1815.2,839.0 L1817.2,838.9 L1819.2,838.9 L1821.2,838.8 L1823.2,838.8 L1825.2,838.7 L1827.2,838.6 L1829.2,838.6 L1831.2,838.5 L1833.2,838.4 L1835.2,838.4 L1837.1,838.3 L1839.1,838.2 L1841.1,838.1 L1843.1,838.1 L1845.1,838.0 L1847.1,837.9 L1849.1,837.8 L1851.1,837.8 L1853.1,837.7 L1855.1,837.6 L1857.1,837.5 L1859.1,837.4 L1861.1,837.3 L1863.1,837.3 L1865.1,837.2 L1867.1,837.1 L1869.1,837.0 L1871.1,836.9 L1873.1,836.8 L1875.1,836.7 L1877.1,836.6 L1879.1,836.5 L1881.1,836.5 L1883.1,836.4 L1885.1,836.3 L1887.1,836.2 L1889.1,836.1 L1891.0,836.0 L1893.0,835.9 L1895.0,835.8 L1897.0,835.7 L1899.0,835.6 L1901.0,835.5 L1903.0,835.4 L1905.0,835.3 L1907.0,835.1 L1909.0,835.0 L1911.0,834.9 L1913.0,834.8 L1915.0,834.7 L1917.0,834.6 L1919.0,834.5 L1921.0,834.4 L1923.0,834.3 L1925.0,834.2 L1927.0,834.1 L1929.0,833.9 L1931.0,833.8 L1933.0,833.7 L1934.9,833.6 L1936.9,833.5 L1938.9,833.4 L1940.9,833.2 L1942.9,833.1 L1944.9,833.0 L1946.9,832.9 L1948.9,832.8 L1950.9,832.6 L1952.9,832.5 L1954.9,832.4 L1956.9,832.3 L1958.9,832.2 L1960.9,832.0 L1962.9,831.9 L1964.9,831.8 L1966.9,831.7 L1968.9,831.5 L1970.9,831.4 L1972.9,831.3 L1974.8,831.2 L1976.8,831.0 L1978.8,830.9 L1980.8,830.8 L1982.8,830.6 L1984.8,830.5 L1986.8,830.4 L1988.8,830.2 L1990.8,830.1 L1992.8,830.0 L1994.8,829.9 L1996.8,829.7 L1998.8,829.6 L2000.8,829.5 L2002.8,829.3 L2004.8,829.2 L2006.8,829.1 L2008.8,828.9 L2010.8,828.8 L2012.7,828.7 L2014.7,828.5 L2016.7,828.4 L2018.7,828.2 L2020.7,828.1 L2022.7,828.0 L2024.7,827.8 L2026.7,827.7 L2028.7,827.6 L2030.7,827.4 L2032.7,827.3 L2034.7,827.2 L2036.7,827.0 L2038.7,826.9 L2040.7,826.7 L2042.7,826.6 L2044.7,826.5 L2046.7,826.3 L2048.6,826.2 L2050.6,826.0 L2052.6,825.9 L2054.6,825.8 L2056.6,825.6 L2058.6,825.5 L2060.6,825.4 L2062.6,825.2 L2064.6,825.1 L2066.6,824.9 L2068.6,824.8 L2070.6,824.7 L2072.6,824.5 L2074.6,824.4 L2076.6,824.2 L2078.6,824.1 L2080.6,824.0 L2082.6,823.8 L2084.5,823.7 L2086.5,823.5 L2088.5,823.4 L2090.5,823.3 L2092.5,823.1 L2094.5,823.0 L2096.5,822.8 L2098.5,822.7 L2100.5,822.6 L2102.5,822.4 L2104.5,822.3 L2106.5,822.2 L2108.5,822.0 L2110.5,821.9 L2112.5,821.7 L2114.5,821.6 L2116.5,821.5 L2118.5,821.3 L2120.5,821.2 L2122.5,821.1 L2124.4,820.9 L2126.4,820.8 L2128.4,820.6 L2130.4,820.5 L2132.4,820.4 L2134.4,820.2 L2136.4,820.1 L2138.4,820.0 L2140.4,819.8 L2142.4,819.7 L2144.4,819.6 L2146.4,819.4 L2148.4,819.3 L2150.4,819.2 L2152.4,819.0 L2154.4,818.9 L2156.4,818.8 L2158.4,818.6 L2160.4,818.5 L2162.4,818.4 L2164.3,818.2 L2166.3,818.1 L2168.3,818.0 L2170.3,817.9 L2172.3,817.7 L2174.3,817.6 L2176.3,817.5 L2178.3,817.3 L2180.3,817.2 L2182.3,817.1 L2184.3,817.0 L2186.3,816.8 L2188.3,816.7 L2190.3,816.6 L2192.3,816.5 L2194.3,816.4 L2196.3,816.2 L2198.3,816.1 L2200.3,816.0 L2202.3,815.9 L2204.3,815.7 L2206.3,815.6 L2208.3,815.5 L2210.3,815.4 L2212.2,815.3 L2214.2,815.2 L2216.2,815.0 L2218.2,814.9 L2220.2,814.8 L2222.2,814.7 L2224.2,814.6 L2226.2,814.5 L2228.2,814.4 L2230.2,814.3 L2232.2,814.1" stroke="#808080" stroke-width="8.6"/>
<path d="M268.7,858.3 L270.7,858.3 L272.7,858.3 L274.7,858.4 L276.7,858.4 L278.7,858.4 L280.7,858.4 L282.7,858.5 L284.7,858.5 L286.7,858.5 L288.7,858.5 L290.7,858.6 L292.7,858.6 L294.7,858.6 L296.7,858.6 L298.7,858.7 L300.7,858.7 L302.7,858.7 L304.7,858.7 L306.7,858.8 L308.7,858.8 L310.7,858.8 L312.7,858.8 L314.7,858.8 L316.7,858.9 L318.7,858.9 L320.7,858.9 L322.7,858.9 L324.7,858.9 L326.7,858.9 L328.7,859.0 L330.7,859.0 L332.7,859.0 L334.7,859.0 L336.7,859.0 L338.7,859.0 L340.7,859.0 L342.7,859.1 L344.7,859.1 L346.7,859.1 L348.7,859.1 L350.7,859.1 L352.7,859.1 L354.7,859.1 L356.7,859.1 L358.7,859.2 L360.7,859.2 L362.7,859.2 L364.7,859.2 L366.7,859.2 L368.7,859.2 L370.7,859.2 L372.7,859.2 L374.7,859.2 L376.7,859.2 L378.7,859.2 L380.7,859.2 L382.7,859.2 L384.7,859.3 L386.7,859.3 L388.7,859.3 L390.7,859.3 L392.7,859.3 L394.7,859.3 L396.7,859.3 L398.7,859.3 L400.7,859.3 L402.7,859.3 L404.7,859.3 L406.7,859.3 L408.7,859.3 L410.7,859.3 L412.7,859.3 L414.7,859.3 L416.7,859.3 L418.7,859.3 L420.7,859.3 L422.7,859.3 L424.7,859.3 L426.7,859.3 L428.7,859.3 L430.7,859.3 L432.7,859.3 L434.6,859.3 L436.6,859.3 L438.6,859.3 L440.6,859.3 L442.6,859.3 L444.6,859.3 L446.6,859.3 L448.6,859.3 L450.6,859.3 L452.6,859.3 L454.6,859.3 L456.6,859.3 L458.6,859.2 L460.6,859.2 L462.6,859.2 L464.6,859.2 L466.6,859.2 L468.6,859.2 L470.6,859.2 L472.6,859.2 L474.6,859.2 L476.6,859.2 L478.6,859.2 L480.6,859.2 L482.6,859.2 L484.6,859.2 L486.6,859.2 L488.6,859.1 L490.6,859.1 L492.6,859.1 L494.6,859.1 L496.6,859.1 L498.6,859.1 L500.6,859.1 L502.6,859.1 L504.6,859.1 L506.6,859.1 L508.6,859.1 L510.6,859.1 L512.6,859.0 L514.6,859.0 L516.6,859.0 L518.6,859.0 L520.6,859.0 L522.6,859.0 L524.6,859.0 L526.6,859.0 L528.6,859.0 L530.6,858.9 L532.6,858.9 L534.6,858.9 L536.6,858.9 L538.6,858.9 L540.6,858.9 L542.6,858.9 L544.6,858.9 L546.6,858.9 L548.6,858.8 L550.5,858.8 L552.5,858.8 L554.5,858.8 L556.5,858.8 L558.5,858.8 L560.5,858.8 L562.5,858.8 L564.5,858.8 L566.5,858.7 L568.5,858.7 L570.5,858.7 L572.5,858.7 L574.5,858.7 L576.5,858.7 L578.5,858.7 L580.5,858.7 L582.5,858.6 L584.5,858.6 L586.5,858.6 L588.5,858.6 L590.5,858.6 L592.5,858.6 L594.5,858.6 L596.5,858.6 L598.5,858.5 L600.5,858.5 L602.5,858.5 L604.5,858.5 L606.5,858.5 L608.5,858.5 L610.5,858.5 L612.5,858.5 L614.5,858.5 L616.5,858.4 L618.5,858.4 L620.5,858.4 L622.5,858.4 L624.5,858.4 L626.5,858.4 L628.5,858.4 L630.5,858.4 L632.5,858.3 L634.5,858.3 L636.5,858.3 L638.5,858.3 L640.5,858.3 L642.5,858.3 L644.5,858.3 L646.5,858.3 L648.5,858.3 L650.5,858.2 L652.5,858.2 L654.5,858.2 L656.5,858.2 L658.5,858.2 L660.5,858.2 L662.5,858.2 L664.5,858.2 L666.5,858.2 L668.5,858.2 L670.5,858.1 L672.5,858.1 L674.5,858.1 L676.6,858.1 L678.6,858.1 L680.6,858.1 L682.6,858.1 L684.6,858.1 L686.6,858.1 L688.6,858.1 L690.6,858.1 L692.6,858.1 L694.6,858.0 L696.6,858.0 L698.6,858.0 L700.6,858.0 L702.6,858.0 L704.6,858.0 L706.6,858.0 L708.6,858.0 L710.6,858.0 L712.6,858.0 L714.6,858.0 L716.6,858.0 L718.6,858.0 L720.6,858.0 L722.6,858.0 L724.6,858.0 L726.6,858.0 L728.6,857.9 L730.6,857.9 L732.6,857.9 L734.6,857.9 L736.6,857.9 L738.6,857.9 L740.7,857.9 L742.7,857.9 L744.7,857.9 L746.7,857.9 L748.7,857.9 L750.7,857.9 L752.7,857.9 L754.7,857.9 L756.7,857.9 L758.7,857.9 L760.7,857.9 L762.7,857.8 L764.7,857.8 L766.7,857.8 L768.7,857.8 L770.7,857.8 L772.7,857.7 L774.7,857.7 L776.7,857.6 L778.7,857.6 L780.7,857.6 L782.7,857.5 L784.7,857.5 L786.7,857.4 L788.7,857.3 L790.7,857.3 L792.7,857.2 L794.7,857.1 L796.7,857.0 L798.7,856.9 L800.7,856.8 L802.7,856.7 L804.6,856.6 L806.6,856.5 L808.6,856.3 L810.6,856.2 L812.6,856.1 L814.6,855.9 L816.6,855.7 L818.5,855.6 L820.5,855.4 L822.5,855.2 L824.5,855.0 L826.5,854.8 L828.4,854.6 L830.4,854.4 L832.4,854.1 L834.3,853.9 L836.3,853.6 L838.3,853.4 L840.2,853.1 L842.2,852.8 L844.2,852.5 L846.1,852.2 L848.1,851.9 L850.0,851.6 L852.0,851.2 L854.0,850.9 L855.9,850.5 L857.9,850.1 L859.8,849.7 L861.8,849.3 L863.7,848.9 L865.6,848.4 L867.6,848.0 L869.5,847.5 L871.5,847.1 L873.4,846.6 L875.3,846.1 L877.3,845.5 L879.2,845.0 L881.1,844.4 L883.0,843.9 L884.9,843.3 L886.9,842.7 L888.8,842.1 L890.7,841.5 L892.6,840.8 L894.5,840.2 L896.4,839.5 L898.3,838.8 L900.2,838.1 L902.1,837.5 L904.1,836.8 L906.0,836.1 L907.9,835.5 L909.8,834.8 L911.7,834.2 L913.6,833.5 L915.5,832.9 L917.4,832.3 L919.4,831.7 L921.3,831.2 L923.2,830.7 L925.1,830.2 L927.1,829.7 L929.0,829.3 L931.0,828.9 L932.9,828.5 L934.9,828.2 L936.8,827.9 L938.8,827.7 L940.8,827.5 L942.8,827.3 L944.8,827.2 L946.8,827.2 L948.8,827.2 L950.8,827.2 L952.8,827.2 L954.8,827.3 L956.8,827.4 L958.9,827.5 L960.9,827.6 L962.9,827.8 L964.9,827.9 L967.0,828.1 L969.0,828.2 L971.0,828.4 L973.0,828.6 L975.1,828.7 L977.1,828.8 L979.1,828.9 L981.1,829.0 L983.1,829.1 L985.1,829.2 L987.2,829.2 L989.2,829.3 L991.2,829.3 L993.2,829.3 L995.2,829.3 L997.2,829.2 L999.2,829.2 L1001.1,829.1 L1003.1,829.0 L1005.1,828.9 L1007.1,828.8 L1009.1,828.7 L1011.1,828.5 L1013.0,828.4 L1015.0,828.2 L1017.0,828.0 L1018.9,827.8 L1020.9,827.5 L1022.8,827.2 L1024.8,827.0 L1026.7,826.7 L1028.7,826.3 L1030.6,826.0 L1032.6,825.6 L1034.5,825.2 L1036.4,824.8 L1038.4,824.4 L1040.3,824.0 L1042.2,823.5 L1044.1,823.0 L1046.1,822.5 L1048.0,822.0 L1049.9,821.4 L1051.8,820.8 L1053.7,820.2 L1055.6,819.6 L1057.5,819.0 L1059.4,818.3 L1061.2,817.6 L1063.1,816.9 L1065.0,816.1 L1066.9,815.4 L1068.7,814.6 L1070.6,813.7 L1072.5,812.9 L1074.3,812.0 L1076.1,811.2 L1078.0,810.3 L1079.8,809.3 L1081.6,808.4 L1083.4,807.4 L1085.1,806.4 L1086.9,805.3 L1088.6,804.3 L1090.4,803.2 L1092.1,802.1 L1093.8,801.0 L1095.5,799.8 L1097.1,798.7 L1098.7,797.5 L1100.4,796.3 L1102.0,795.0 L1103.5,793.8 L1105.1,792.5 L1106.6,791.2 L1108.1,789.8 L1109.6,788.5 L1111.0,787.1 L1112.5,785.7 L1113.9,784.3 L1115.2,782.8 L1116.6,781.4 L1117.9,779.9 L1119.2,778.3 L1120.4,776.8 L1121.6,775.3 L1122.8,773.7 L1124.0,772.1 L1125.1,770.5 L1126.2,768.8 L1127.3,767.2 L1128.4,765.5 L1129.5,763.8 L1130.5,762.1 L1131.5,760.4 L1132.5,758.7 L1133.4,756.9 L1134.4,755.2 L1135.3,753.4 L1136.2,751.7 L1137.1,749.9 L1138.0,748.1 L1138.8,746.3 L1139.7,744.5 L1140.5,742.7 L1141.3,740.8 L1142.1,739.0 L1142.9,737.2 L1143.7,735.3 L1144.5,733.5 L1145.2,731.7 L1146.0,729.8 L1146.7,728.0 L1147.4,726.1 L1148.1,724.3 L1148.8,722.4 L1149.5,720.5 L1150.2,718.7 L1150.9,716.8 L1151.6,714.9 L1152.2,713.0 L1152.9,711.1 L1153.5,709.3 L1154.1,707.4 L1154.8,705.5 L1155.4,703.6 L1156.0,701.7 L1156.6,699.8 L1157.2,697.9 L1157.7,696.0 L1158.3,694.1 L1158.9,692.2 L1159.4,690.3 L1160.0,688.3 L1160.5,686.4 L1161.1,684.5 L1161.6,682.6 L1162.1,680.7 L1162.6,678.7 L1163.1,676.8 L1163.6,674.9 L1164.1,672.9 L1164.6,671.0 L1165.1,669.1 L1165.5,667.1 L1166.0,665.2 L1166.5,663.2 L1166.9,661.3 L1167.4,659.3 L1167.8,657.4 L1168.2,655.4 L1168.7,653.5 L1169.1,651.5 L1169.5,649.6 L1169.9,647.6 L1170.3,645.7 L1170.8,643.7 L1171.2,641.7 L1171.6,639.8 L1172.0,637.8 L1172.3,635.9 L1172.7,633.9 L1173.1,631.9 L1173.5,630.0 L1173.9,628.0 L1174.3,626.0 L1174.6,624.0 L1175.0,622.1 L1175.4,620.1 L1175.7,618.1 L1176.1,616.2 L1176.4,614.2 L1176.8,612.2 L1177.1,610.2 L1177.5,608.3 L1177.8,606.3 L1178.2,604.3 L1178.5,602.3 L1178.9,600.4 L1179.2,598.4 L1179.5,596.4 L1179.9,594.4 L1180.2,592.5 L1180.6,590.5 L1180.9,588.5 L1181.2,586.5 L1181.6,584.6 L1181.9,582.6 L1182.2,580.6 L1182.5,578.6 L1182.9,576.6 L1183.2,574.7 L1183.5,572.7 L1183.8,570.7 L1184.1,568.7 L1184.5,566.8 L1184.8,564.8 L1185.1,562.8 L1185.4,560.8 L1185.7,558.8 L1186.0,556.9 L1186.3,554.9 L1186.6,552.9 L1187.0,550.9 L1187.3,549.0 L1187.6,547.0 L1187.9,545.0 L1188.2,543.0 L1188.5,541.0 L1188.8,539.1 L1189.1,537.1 L1189.4,535.1 L1189.7,533.1 L1190.0,531.1 L1190.3,529.2 L1190.6,527.2 L1190.8,525.2 L1191.1,523.2 L1191.4,521.2 L1191.7,519.2 L1192.0,517.3 L1192.3,515.3 L1192.6,513.3 L1192.9,511.3 L1193.2,509.3 L1193.5,507.4 L1193.7,505.4 L1194.0,503.4 L1194.3,501.4 L1194.6,499.4 L1194.9,497.5 L1195.1,495.5 L1195.4,493.5 L1195.7,491.5 L1196.0,489.5 L1196.3,487.6 L1196.5,485.6 L1196.8,483.6 L1197.1,481.6 L1197.4,479.6 L1197.7,477.6 L1197.9,475.7 L1198.2,473.7 L1198.5,471.7 L1198.8,469.7 L1199.0,467.7 L1199.3,465.8 L1199.6,463.8 L1199.8,461.8 L1200.1,459.8 L1200.4,457.8 L1200.7,455.8 L1200.9,453.9 L1201.2,451.9 L1201.5,449.9 L1201.7,447.9 L1202.0,445.9 L1202.3,444.0 L1202.6,442.0 L1202.8,440.0 L1203.1,438.0 L1203.4,436.0 L1203.6,434.1 L1203.9,432.1 L1204.2,430.1 L1204.4,428.1 L1204.7,426.1 L1205.0,424.2 L1205.3,422.2 L1205.5,420.2 L1205.8,418.2 L1206.1,416.2 L1206.3,414.3 L1206.6,412.3 L1206.9,410.3 L1207.1,408.3 L1207.4,406.3 L1207.7,404.4 L1207.9,402.4 L1208.2,400.4 L1208.5,398.4 L1208.8,396.4 L1209.0,394.5 L1209.3,392.5 L1209.6,390.5 L1209.8,388.5 L1210.1,386.5 L1210.4,384.6 L1210.7,382.6 L1210.9,380.6 L1211.2,378.6 L1211.5,376.7 L1211.8,374.7 L1212.0,372.7 L1212.3,370.7 L1212.6,368.8 L1212.9,366.8 L1213.1,364.8 L1213.4,362.8 L1213.7,360.8 L1214.0,358.9 L1214.2,356.9 L1214.5,354.9 L1214.8,352.9 L1215.1,351.0 L1215.4,349.0 L1215.7,347.0 L1215.9,345.0 L1216.2,343.1 L1216.5,341.1 L1216.8,339.1 L1217.1,337.1 L1217.4,335.2 L1217.7,333.2 L1217.9,331.2 L1218.2,329.3 L1218.5,327.3 L1218.8,325.3 L1219.1,323.3 L1219.4,321.4 L1219.7,319.4 L1220.0,317.4 L1220.3,315.5 L1220.6,313.5 L1220.9,311.5 L1221.2,309.5 L1221.5,307.6 L1221.8,305.6 L1222.1,303.6 L1222.4,301.7 L1222.7,299.7 L1223.0,297.7 L1223.3,295.8 L1223.6,293.8 L1223.9,291.8 L1224.2,289.9 L1224.5,287.9 L1224.9,285.9 L1225.2,284.0 L1225.5,282.0 L1225.8,280.0 L1226.1,278.1 L1226.4,276.1 L1226.8,274.1 L1227.1,272.2 L1227.4,270.2 L1227.7,268.2 L1228.1,266.3 L1228.4,264.3 L1228.7,262.3 L1229.1,260.4 L1229.4,258.4 L1229.8,256.5 L1230.1,254.5 L1230.5,252.5 L1230.8,250.6 L1231.2,248.6 L1231.6,246.6 L1231.9,244.7 L1232.3,242.7 L1232.7,240.8 L1233.1,238.8 L1233.5,236.8 L1233.9,234.9 L1234.3,232.9 L1234.7,231.0 L1235.2,229.0 L1235.6,227.1 L1236.0,225.1 L1236.5,223.1 L1236.9,221.2 L1237.4,219.2 L1237.9,217.3 L1238.3,215.3 L1238.8,213.4 L1239.3,211.4 L1239.9,209.5 L1240.4,207.5 L1240.9,205.5 L1241.4,203.6 L1242.0,201.6 L1242.6,199.7 L1243.1,197.7 L1243.7,195.8 L1244.3,193.8 L1244.9,191.9 L1245.5,189.9 L1246.2,188.0 L1246.9,186.1 L1247.6,184.2 L1248.4,182.3 L1249.2,180.5 L1250.2,178.7 L1251.2,177.0 L1252.2,175.4 L1253.4,173.8 L1254.7,172.2 L1256.1,170.8 L1257.6,169.5 L1259.2,168.4 L1260.9,167.7 L1262.7,167.7 L1264.5,168.3 L1266.2,169.3 L1267.8,170.7 L1269.2,172.2 L1270.4,173.9 L1271.5,175.7 L1272.5,177.6 L1273.5,179.4 L1274.4,181.3 L1275.3,183.1 L1276.2,184.9 L1277.0,186.8 L1277.8,188.6 L1278.6,190.4 L1279.3,192.2 L1280.0,194.0 L1280.7,195.9 L1281.4,197.7 L1282.1,199.6 L1282.8,201.4 L1283.4,203.3 L1284.1,205.1 L1284.7,207.0 L1285.3,208.9 L1285.9,210.8 L1286.5,212.7 L1287.1,214.6 L1287.6,216.5 L1288.2,218.4 L1288.7,220.3 L1289.3,222.2 L1289.8,224.1 L1290.3,226.0 L1290.8,228.0 L1291.3,229.9 L1291.8,231.8 L1292.3,233.8 L1292.8,235.7 L1293.2,237.7 L1293.7,239.6 L1294.1,241.6 L1294.6,243.5 L1295.0,245.5 L1295.5,247.4 L1295.9,249.4 L1296.3,251.4 L1296.7,253.3 L1297.1,255.3 L1297.5,257.3 L1298.0,259.2 L1298.4,261.2 L1298.8,263.2 L1299.2,265.2 L1299.6,267.1 L1299.9,269.1 L1300.3,271.1 L1300.7,273.1 L1301.1,275.0 L1301.5,277.0 L1301.9,279.0 L1302.3,280.9 L1302.7,282.9 L1303.1,284.9 L1303.4,286.8 L1303.8,288.8 L1304.2,290.8 L1304.6,292.7 L1305.0,294.7 L1305.4,296.7 L1305.8,298.6 L1306.2,300.6 L1306.6,302.6 L1306.9,304.5 L1307.3,306.5 L1307.7,308.5 L1308.1,310.4 L1308.5,312.4 L1308.9,314.3 L1309.3,316.3 L1309.7,318.3 L1310.1,320.2 L1310.5,322.2 L1310.8,324.1 L1311.2,326.1 L1311.6,328.0 L1312.0,330.0 L1312.4,332.0 L1312.8,333.9 L1313.2,335.9 L1313.6,337.8 L1314.0,339.8 L1314.4,341.7 L1314.8,343.7 L1315.2,345.6 L1315.5,347.6 L1315.9,349.5 L1316.3,351.5 L1316.7,353.5 L1317.1,355.4 L1317.5,357.4 L1317.9,359.3 L1318.3,361.3 L1318.7,363.2 L1319.1,365.2 L1319.5,367.1 L1319.9,369.1 L1320.3,371.0 L1320.7,373.0 L1321.1,375.0 L1321.5,376.9 L1321.9,378.9 L1322.3,380.8 L1322.7,382.8 L1323.1,384.7 L1323.5,386.7 L1323.9,388.6 L1324.3,390.6 L1324.7,392.6 L1325.1,394.5 L1325.5,396.5 L1325.9,398.4 L1326.3,400.4 L1326.7,402.4 L1327.1,404.3 L1327.5,406.3 L1327.9,408.2 L1328.3,410.2 L1328.7,412.2 L1329.1,414.1 L1329.5,416.1 L1329.9,418.0 L1330.3,420.0 L1330.8,422.0 L1331.2,423.9 L1331.6,425.9 L1332.0,427.8 L1332.4,429.8 L1332.8,431.8 L1333.2,433.7 L1333.6,435.7 L1334.0,437.6 L1334.4,439.6 L1334.9,441.6 L1335.3,443.5 L1335.7,445.5 L1336.1,447.4 L1336.5,449.4 L1336.9,451.3 L1337.3,453.3 L1337.8,455.3 L1338.2,457.2 L1338.6,459.2 L1339.0,461.1 L1339.4,463.1 L1339.8,465.0 L1340.3,467.0 L1340.7,468.9 L1341.1,470.9 L1341.5,472.8 L1341.9,474.8 L1342.4,476.7 L1342.8,478.7 L1343.2,480.6 L1343.6,482.6 L1344.1,484.5 L1344.5,486.5 L1344.9,488.4 L1345.3,490.3 L1345.8,492.3 L1346.2,494.2 L1346.6,496.2 L1347.1,498.1 L1347.5,500.1 L1348.0,502.0 L1348.4,504.0 L1348.8,505.9 L1349.3,507.8 L1349.7,509.8 L1350.2,511.7 L1350.6,513.7 L1351.1,515.6 L1351.5,517.6 L1352.0,519.5 L1352.5,521.4 L1352.9,523.4 L1353.4,525.3 L1353.9,527.3 L1354.3,529.2 L1354.8,531.2 L1355.3,533.1 L1355.7,535.0 L1356.2,537.0 L1356.7,538.9 L1357.2,540.9 L1357.7,542.8 L1358.2,544.8 L1358.6,546.7 L1359.1,548.7 L1359.6,550.6 L1360.1,552.5 L1360.6,554.5 L1361.2,556.4 L1361.7,558.4 L1362.2,560.3 L1362.7,562.2 L1363.3,564.2 L1363.8,566.1 L1364.3,568.1 L1364.9,570.0 L1365.4,571.9 L1366.0,573.8 L1366.6,575.8 L1367.2,577.7 L1367.8,579.6 L1368.4,581.5 L1369.0,583.4 L1369.6,585.3 L1370.2,587.2 L1370.8,589.1 L1371.5,591.0 L1372.1,592.9 L1372.8,594.8 L1373.5,596.7 L1374.1,598.6 L1374.8,600.5 L1375.5,602.3 L1376.3,604.2 L1377.0,606.1 L1377.7,607.9 L1378.5,609.8 L1379.2,611.6 L1380.0,613.5 L1380.8,615.3 L1381.6,617.1 L1382.5,618.9 L1383.3,620.8 L1384.1,622.6 L1385.0,624.4 L1385.9,626.2 L1386.8,627.9 L1387.7,629.7 L1388.6,631.5 L1389.5,633.3 L1390.5,635.0 L1391.5,636.8 L1392.5,638.5 L1393.5,640.2 L1394.5,642.0 L1395.5,643.7 L1396.6,645.4 L1397.7,647.1 L1398.8,648.7 L1399.9,650.4 L1401.0,652.0 L1402.2,653.7 L1403.3,655.3 L1404.5,656.9 L1405.7,658.5 L1406.9,660.1 L1408.1,661.7 L1409.4,663.2 L1410.7,664.7 L1412.0,666.3 L1413.3,667.8 L1414.6,669.2 L1415.9,670.7 L1417.3,672.1 L1418.7,673.6 L1420.1,675.0 L1421.5,676.3 L1422.9,677.7 L1424.4,679.0 L1425.9,680.3 L1427.4,681.6 L1428.9,682.9 L1430.4,684.1 L1432.0,685.4 L1433.5,686.6 L1435.1,687.7 L1436.7,688.9 L1438.4,690.0 L1440.0,691.1 L1441.7,692.1 L1443.4,693.2 L1445.1,694.2 L1446.8,695.2 L1448.6,696.1 L1450.3,697.1 L1452.1,698.0 L1453.9,698.8 L1455.7,699.7 L1457.5,700.5 L1459.3,701.3 L1461.1,702.1 L1463.0,702.9 L1464.8,703.6 L1466.7,704.3 L1468.6,705.0 L1470.5,705.6 L1472.4,706.2 L1474.3,706.8 L1476.2,707.4 L1478.1,708.0 L1480.0,708.5 L1481.9,709.0 L1483.8,709.5 L1485.7,710.0 L1487.7,710.5 L1489.6,710.9 L1491.6,711.3 L1493.5,711.7 L1495.5,712.1 L1497.4,712.5 L1499.4,712.9 L1501.3,713.3 L1503.3,713.7 L1505.2,714.0 L1507.2,714.4 L1509.2,714.7 L1511.1,715.0 L1513.1,715.4 L1515.1,715.7 L1517.0,716.0 L1519.0,716.4 L1521.0,716.7 L1522.9,717.0 L1524.9,717.3 L1526.9,717.6 L1528.8,718.0 L1530.8,718.3 L1532.7,718.6 L1534.7,718.9 L1536.7,719.2 L1538.6,719.5 L1540.6,719.8 L1542.6,720.1 L1544.5,720.5 L1546.5,720.8 L1548.5,721.1 L1550.5,721.4 L1552.4,721.7 L1554.4,722.0 L1556.4,722.3 L1558.3,722.5 L1560.3,722.8 L1562.3,723.1 L1564.3,723.4 L1566.3,723.7 L1568.2,724.0 L1570.2,724.3 L1572.2,724.6 L1574.2,724.8 L1576.2,725.1 L1578.1,725.4 L1580.1,725.7 L1582.1,725.9 L1584.1,726.2 L1586.1,726.5 L1588.1,726.7 L1590.1,727.0 L1592.1,727.2 L1594.0,727.5 L1596.0,727.7 L1598.0,728.0 L1600.0,728.2 L1602.0,728.5 L1604.0,728.7 L1606.0,728.9 L1608.0,729.1 L1610.0,729.4 L1612.0,729.6 L1614.0,729.8 L1616.0,730.0 L1618.0,730.2 L1620.0,730.4 L1622.0,730.5 L1624.0,730.7 L1626.0,730.9 L1628.0,731.1 L1630.0,731.2 L1632.0,731.4 L1634.0,731.5 L1635.9,731.7 L1637.9,731.8 L1639.9,731.9 L1641.9,732.0 L1643.9,732.2 L1645.9,732.3 L1647.9,732.4 L1649.9,732.5 L1651.9,732.5 L1653.9,732.6 L1655.9,732.7 L1657.9,732.7 L1659.9,732.8 L1661.9,732.8 L1663.9,732.9 L1665.9,732.9 L1667.9,732.9 L1669.9,732.9 L1671.9,733.0 L1673.9,733.0 L1675.9,733.0 L1677.8,732.9 L1679.8,732.9 L1681.8,732.9 L1683.8,732.9 L1685.8,732.8 L1687.8,732.8 L1689.8,732.7 L1691.8,732.7 L1693.8,732.6 L1695.8,732.5 L1697.8,732.5 L1699.8,732.4 L1701.7,732.3 L1703.7,732.2 L1705.7,732.1 L1707.7,732.0 L1709.7,731.9 L1711.7,731.8 L1713.7,731.7 L1715.7,731.5 L1717.7,731.4 L1719.7,731.3 L1721.6,731.1 L1723.6,731.0 L1725.6,730.8 L1727.6,730.7 L1729.6,730.5 L1731.6,730.4 L1733.6,730.2 L1735.6,730.0 L1737.5,729.8 L1739.5,729.7 L1741.5,729.5 L1743.5,729.3 L1745.5,729.1 L1747.5,728.9 L1749.5,728.7 L1751.4,728.5 L1753.4,728.3 L1755.4,728.0 L1757.4,727.8 L1759.4,727.6 L1761.4,727.4 L1763.4,727.2 L1765.3,726.9 L1767.3,726.7 L1769.3,726.4 L1771.3,726.2 L1773.3,726.0 L1775.3,725.7 L1777.2,725.5 L1779.2,725.2 L1781.2,725.0 L1783.2,724.7 L1785.2,724.4 L1787.2,724.2 L1789.1,723.9 L1791.1,723.6 L1793.1,723.4 L1795.1,723.1 L1797.1,722.8 L1799.1,722.5 L1801.0,722.3 L1803.0,722.0 L1805.0,721.7 L1807.0,721.4 L1809.0,721.1 L1810.9,720.8 L1812.9,720.6 L1814.9,720.3 L1816.9,720.0 L1818.9,719.7 L1820.9,719.4 L1822.8,719.1 L1824.8,718.8 L1826.8,718.5 L1828.8,718.2 L1830.8,717.9 L1832.7,717.6 L1834.7,717.3 L1836.7,717.0 L1838.7,716.7 L1840.7,716.4 L1842.6,716.1 L1844.6,715.8 L1846.6,715.5 L1848.6,715.2 L1850.6,714.9 L1852.5,714.6 L1854.5,714.3 L1856.5,714.0 L1858.5,713.7 L1860.5,713.4 L1862.4,713.1 L1864.4,712.8 L1866.4,712.5 L1868.4,712.2 L1870.4,711.9 L1872.3,711.6 L1874.3,711.3 L1876.3,711.0 L1878.3,710.7 L1880.3,710.4 L1882.2,710.1 L1884.2,709.8 L1886.2,709.5 L1888.2,709.2 L1890.2,708.9 L1892.1,708.6 L1894.1,708.3 L1896.1,708.0 L1898.1,707.7 L1900.0,707.4 L1902.0,707.1 L1904.0,706.8 L1906.0,706.5 L1908.0,706.2 L1909.9,705.9 L1911.9,705.6 L1913.9,705.3 L1915.9,705.0 L1917.9,704.7 L1919.8,704.4 L1921.8,704.1 L1923.8,703.8 L1925.8,703.5 L1927.8,703.2 L1929.7,703.0 L1931.7,702.7 L1933.7,702.4 L1935.7,702.1 L1937.6,701.8 L1939.6,701.5 L1941.6,701.2 L1943.6,700.9 L1945.6,700.7 L1947.5,700.4 L1949.5,700.1 L1951.5,699.8 L1953.5,699.5 L1955.5,699.3 L1957.4,699.0 L1959.4,698.7 L1961.4,698.4 L1963.4,698.2 L1965.4,697.9 L1967.3,697.6 L1969.3,697.3 L1971.3,697.1 L1973.3,696.8 L1975.3,696.5 L1977.2,696.3 L1979.2,696.0 L1981.2,695.7 L1983.2,695.5 L1985.2,695.2 L1987.1,694.9 L1989.1,694.7 L1991.1,694.4 L1993.1,694.2 L1995.1,693.9 L1997.1,693.6 L1999.0,693.4 L2001.0,693.1 L2003.0,692.9 L2005.0,692.6 L2007.0,692.4 L2008.9,692.1 L2010.9,691.9 L2012.9,691.6 L2014.9,691.4 L2016.9,691.2 L2018.9,690.9 L2020.8,690.7 L2022.8,690.4 L2024.8,690.2 L2026.8,690.0 L2028.8,689.7 L2030.8,689.5 L2032.7,689.3 L2034.7,689.1 L2036.7,688.8 L2038.7,688.6 L2040.7,688.4 L2042.7,688.2 L2044.6,687.9 L2046.6,687.7 L2048.6,687.5 L2050.6,687.3 L2052.6,687.1 L2054.6,686.9 L2056.6,686.7 L2058.5,686.5 L2060.5,686.3 L2062.5,686.1 L2064.5,685.9 L2066.5,685.7 L2068.5,685.5 L2070.5,685.3 L2072.4,685.1 L2074.4,684.9 L2076.4,684.7 L2078.4,684.5 L2080.4,684.3 L2082.4,684.2 L2084.4,684.0 L2086.4,683.8 L2088.4,683.6 L2090.3,683.4 L2092.3,683.3 L2094.3,683.1 L2096.3,682.9 L2098.3,682.8 L2100.3,682.6 L2102.3,682.5 L2104.3,682.3 L2106.3,682.1 L2108.3,682.0 L2110.2,681.8 L2112.2,681.7 L2114.2,681.5 L2116.2,681.4 L2118.2,681.3 L2120.2,681.1 L2122.2,681.0 L2124.2,680.9 L2126.2,680.7 L2128.2,680.6 L2130.2,680.5 L2132.2,680.4 L2134.2,680.2 L2136.2,680.1 L2138.2,680.0 L2140.2,679.9 L2142.1,679.8 L2144.1,679.7 L2146.1,679.6 L2148.1,679.5 L2150.1,679.4 L2152.1,679.3 L2154.1,679.2 L2156.1,679.1 L2158.1,679.0 L2160.1,678.9 L2162.1,678.8 L2164.1,678.8 L2166.1,678.7 L2168.1,678.6 L2170.1,678.5 L2172.1,678.5 L2174.1,678.4 L2176.1,678.4 L2178.1,678.3 L2180.1,678.2 L2182.1,678.2 L2184.1,678.1 L2186.1,678.1 L2188.1,678.1 L2190.1,678.0 L2192.1,678.0 L2194.1,677.9 L2196.1,677.9 L2198.2,677.9 L2200.2,677.9 L2202.2,677.8 L2204.2,677.8 L2206.2,677.8 L2208.2,677.8 L2210.2,677.8 L2212.2,677.8 L2214.2,677.8 L2216.2,677.8 L2218.2,677.8 L2220.2,677.8 L2222.2,677.8 L2224.2,677.8 L2226.3,677.9 L2228.3,677.9 L2230.3,677.9 L2232.3,678.0" stroke="#000000" stroke-width="8.6"/>
</g>
<g stroke="#000" fill="none" shape-rendering="crispEdges">
<line x1="839.8" y1="860" x2="1088" y2="860" stroke-width="4" stroke-dasharray="13.3 8.1"/>
<line x1="677.5" y1="959" x2="1097" y2="959" stroke-width="4" stroke-dasharray="13.3 8.1"/>
</g>
<g stroke="#000" fill="none" shape-rendering="crispEdges">
<rect x="272.5" y="19.5" width="1957.0" height="1895.0" stroke-width="7"/>
<line x1="342.8" y1="1914.5" x2="342.8" y2="1929.5" stroke-width="7"/>
<line x1="482.5" y1="1914.5" x2="482.5" y2="1929.5" stroke-width="7"/>
<line x1="622.2" y1="1914.5" x2="622.2" y2="1929.5" stroke-width="7"/>
<line x1="762.0" y1="1914.5" x2="762.0" y2="1945.5" stroke-width="7"/>
<line x1="901.8" y1="1914.5" x2="901.8" y2="1929.5" stroke-width="7"/>
<line x1="1041.5" y1="1914.5" x2="1041.5" y2="1929.5" stroke-width="7"/>
<line x1="1181.2" y1="1914.5" x2="1181.2" y2="1929.5" stroke-width="7"/>
<line x1="1321.0" y1="1914.5" x2="1321.0" y2="1929.5" stroke-width="7"/>
<line x1="1460.8" y1="1914.5" x2="1460.8" y2="1945.5" stroke-width="7"/>
<line x1="1600.5" y1="1914.5" x2="1600.5" y2="1929.5" stroke-width="7"/>
<line x1="1740.2" y1="1914.5" x2="1740.2" y2="1929.5" stroke-width="7"/>
<line x1="1880.0" y1="1914.5" x2="1880.0" y2="1929.5" stroke-width="7"/>
<line x1="2019.8" y1="1914.5" x2="2019.8" y2="1929.5" stroke-width="7"/>
<line x1="2159.5" y1="1914.5" x2="2159.5" y2="1945.5" stroke-width="7"/>
<line x1="241.0" y1="1828.4" x2="272.5" y2="1828.4" stroke-width="7"/>
<line x1="257.0" y1="1720.7" x2="272.5" y2="1720.7" stroke-width="7"/>
<line x1="257.0" y1="1613.0" x2="272.5" y2="1613.0" stroke-width="7"/>
<line x1="241.0" y1="1505.3" x2="272.5" y2="1505.3" stroke-width="7"/>
<line x1="257.0" y1="1397.7" x2="272.5" y2="1397.7" stroke-width="7"/>
<line x1="257.0" y1="1290.0" x2="272.5" y2="1290.0" stroke-width="7"/>
<line x1="241.0" y1="1182.3" x2="272.5" y2="1182.3" stroke-width="7"/>
<line x1="257.0" y1="1074.7" x2="272.5" y2="1074.7" stroke-width="7"/>
<line x1="257.0" y1="967.0" x2="272.5" y2="967.0" stroke-width="7"/>
<line x1="241.0" y1="859.3" x2="272.5" y2="859.3" stroke-width="7"/>
<line x1="257.0" y1="751.7" x2="272.5" y2="751.7" stroke-width="7"/>
<line x1="257.0" y1="644.0" x2="272.5" y2="644.0" stroke-width="7"/>
<line x1="241.0" y1="536.3" x2="272.5" y2="536.3" stroke-width="7"/>
<line x1="257.0" y1="428.6" x2="272.5" y2="428.6" stroke-width="7"/>
<line x1="257.0" y1="321.0" x2="272.5" y2="321.0" stroke-width="7"/>
<line x1="241.0" y1="213.3" x2="272.5" y2="213.3" stroke-width="7"/>
<line x1="257.0" y1="105.6" x2="272.5" y2="105.6" stroke-width="7"/>
</g>
<rect x="411.3" y="36.5" width="687.7" height="641.7" fill="#fff"/>
<g clip-path="url(#ci)" fill="none" stroke-linejoin="round" shape-rendering="crispEdges">
<path d="M409.2,619.7 L410.7,619.6 L412.2,619.5 L413.7,619.4 L415.2,619.2 L416.6,619.1 L418.1,619.0 L419.6,618.8 L421.1,618.7 L422.6,618.5 L424.1,618.4 L425.6,618.2 L427.1,618.1 L428.5,617.9 L430.0,617.8 L431.5,617.6 L433.0,617.4 L434.5,617.3 L436.0,617.1 L437.5,616.9 L439.0,616.7 L440.5,616.6 L441.9,616.4 L443.4,616.2 L444.9,616.0 L446.4,615.8 L447.9,615.6 L449.4,615.4 L450.9,615.2 L452.4,615.0 L453.8,614.7 L455.3,614.5 L456.8,614.3 L458.3,614.0 L459.8,613.8 L461.3,613.6 L462.8,613.3 L464.2,613.1 L465.7,612.8 L467.2,612.6 L468.7,612.3 L470.2,612.0 L471.6,611.7 L473.1,611.5 L474.6,611.2 L476.1,610.9 L477.5,610.6 L479.0,610.3 L480.5,610.0 L481.9,609.7 L483.4,609.3 L484.9,609.0 L486.3,608.7 L487.8,608.3 L489.3,608.0 L490.7,607.6 L492.2,607.3 L493.6,606.9 L495.1,606.6 L496.5,606.2 L498.0,605.8 L499.4,605.4 L500.9,605.0 L502.3,604.6 L503.7,604.2 L505.2,603.8 L506.6,603.4 L508.0,603.0 L509.5,602.5 L510.9,602.1 L512.3,601.6 L513.8,601.2 L515.2,600.7 L516.6,600.3 L518.0,599.8 L519.4,599.3 L520.8,598.8 L522.2,598.3 L523.6,597.8 L525.0,597.3 L526.4,596.8 L527.8,596.2 L529.2,595.7 L530.6,595.2 L532.0,594.6 L533.4,594.0 L534.7,593.5 L536.1,592.9 L537.5,592.3 L538.8,591.7 L540.2,591.1 L541.6,590.5 L542.9,589.9 L544.3,589.3 L545.6,588.6 L546.9,588.0 L548.3,587.3 L549.6,586.7 L551.0,586.0 L552.3,585.3 L553.6,584.6 L554.9,583.9 L556.2,583.2 L557.5,582.5 L558.8,581.8 L560.1,581.0 L561.4,580.3 L562.7,579.5 L564.0,578.7 L565.3,578.0 L566.6,577.2 L567.9,576.4 L569.1,575.6 L570.4,574.8 L571.6,573.9 L572.9,573.1 L574.1,572.3 L575.4,571.4 L576.6,570.5 L577.8,569.7 L579.1,568.8 L580.3,567.9 L581.5,567.0 L582.7,566.1 L583.9,565.2 L585.0,564.2 L586.2,563.3 L587.4,562.3 L588.5,561.4 L589.7,560.4 L590.8,559.4 L592.0,558.4 L593.1,557.4 L594.2,556.4 L595.3,555.4 L596.4,554.3 L597.5,553.3 L598.5,552.3 L599.6,551.2 L600.6,550.1 L601.7,549.0 L602.7,548.0 L603.7,546.9 L604.7,545.7 L605.7,544.6 L606.7,543.5 L607.6,542.4 L608.6,541.2 L609.5,540.0 L610.4,538.9 L611.4,537.7 L612.3,536.5 L613.1,535.3 L614.0,534.1 L614.9,532.9 L615.7,531.7 L616.5,530.4 L617.3,529.2 L618.1,527.9 L618.9,526.6 L619.7,525.4 L620.4,524.1 L621.1,522.8 L621.9,521.5 L622.6,520.2 L623.3,518.9 L624.0,517.5 L624.6,516.2 L625.3,514.9 L626.0,513.5 L626.6,512.2 L627.3,510.9 L627.9,509.5 L628.5,508.1 L629.2,506.8 L629.8,505.4 L630.4,504.1 L631.1,502.7 L631.7,501.3 L632.3,500.0 L632.9,498.6 L633.6,497.2 L634.2,495.9 L634.8,494.5 L635.4,493.1 L636.1,491.8 L636.7,490.4 L637.4,489.1 L638.0,487.7 L638.7,486.4 L639.3,485.0 L640.0,483.7 L640.7,482.4 L641.4,481.0 L642.1,479.7 L642.8,478.4 L643.5,477.1 L644.2,475.8 L645.0,474.5 L645.7,473.2 L646.5,471.9 L647.2,470.6 L648.0,469.3 L648.8,468.0 L649.5,466.8 L650.3,465.5 L651.1,464.2 L651.9,463.0 L652.7,461.7 L653.5,460.4 L654.4,459.2 L655.2,457.9 L656.0,456.7 L656.9,455.5 L657.7,454.2 L658.6,453.0 L659.4,451.8 L660.3,450.6 L661.2,449.3 L662.0,448.1 L662.9,446.9 L663.8,445.7 L664.7,444.5 L665.6,443.3 L666.5,442.1 L667.4,440.9 L668.4,439.8 L669.3,438.6 L670.2,437.4 L671.1,436.2 L672.1,435.1 L673.0,433.9 L674.0,432.7 L674.9,431.6 L675.9,430.4 L676.9,429.3 L677.8,428.1 L678.8,427.0 L679.8,425.8 L680.8,424.7 L681.7,423.6 L682.7,422.4 L683.7,421.3 L684.7,420.2 L685.7,419.0 L686.7,417.9 L687.7,416.8 L688.7,415.7 L689.8,414.6 L690.8,413.5 L691.8,412.4 L692.8,411.3 L693.9,410.2 L694.9,409.1 L695.9,408.0 L697.0,406.9 L698.0,405.8 L699.0,404.7 L700.1,403.6 L701.1,402.6 L702.2,401.5 L703.2,400.4 L704.3,399.4 L705.3,398.3 L706.4,397.2 L707.4,396.2 L708.5,395.1 L709.6,394.0 L710.6,393.0 L711.7,391.9 L712.8,390.9 L713.8,389.8 L714.9,388.8 L716.0,387.8 L717.1,386.7 L718.2,385.7 L719.3,384.7 L720.3,383.6 L721.4,382.6 L722.5,381.6 L723.6,380.6 L724.7,379.6 L725.9,378.6 L727.0,377.6 L728.1,376.6 L729.2,375.6 L730.3,374.7 L731.5,373.7 L732.6,372.7 L733.7,371.8 L734.9,370.8 L736.0,369.9 L737.2,368.9 L738.3,368.0 L739.5,367.0 L740.7,366.1 L741.9,365.2 L743.0,364.3 L744.2,363.4 L745.4,362.5 L746.6,361.6 L747.8,360.7 L749.0,359.9 L750.2,359.0 L751.5,358.1 L752.7,357.3 L753.9,356.4 L755.2,355.6 L756.4,354.8 L757.7,354.0 L758.9,353.1 L760.2,352.3 L761.5,351.6 L762.8,350.8 L764.1,350.0 L765.4,349.2 L766.7,348.5 L768.0,347.7 L769.3,347.0 L770.6,346.2 L771.9,345.5 L773.2,344.7 L774.5,344.0 L775.9,343.3 L777.2,342.5 L778.5,341.8 L779.8,341.1 L781.1,340.3 L782.5,339.6 L783.8,338.9 L785.1,338.1 L786.4,337.4 L787.7,336.6 L789.0,335.9 L790.3,335.1 L791.6,334.3 L792.8,333.6 L794.1,332.8 L795.4,332.0 L796.6,331.2 L797.9,330.4 L799.1,329.6 L800.4,328.8 L801.6,328.0 L802.9,327.1 L804.1,326.3 L805.3,325.5 L806.5,324.6 L807.8,323.8 L809.0,322.9 L810.2,322.1 L811.4,321.2 L812.6,320.4 L813.8,319.5 L815.0,318.6 L816.2,317.8 L817.4,316.9 L818.6,316.0 L819.8,315.1 L821.0,314.2 L822.2,313.3 L823.4,312.5 L824.6,311.6 L825.8,310.7 L827.0,309.8 L828.2,308.8 L829.4,307.9 L830.7,307.0 L831.9,306.1 L833.1,305.2 L834.3,304.3 L835.5,303.4 L836.7,302.5 L837.9,301.5 L839.1,300.6 L840.4,299.7 L841.6,298.8 L842.8,297.9 L844.1,297.0 L845.3,296.1 L846.6,295.2 L847.8,294.4 L849.1,293.6 L850.4,292.8 L851.6,292.0 L852.9,291.2 L854.2,290.5 L855.5,289.8 L856.9,289.1 L858.2,288.5 L859.5,287.9 L860.9,287.3 L862.3,286.8 L863.6,286.4 L865.0,285.9 L866.5,285.5 L867.9,285.2 L869.3,284.9 L870.7,284.6 L872.2,284.3 L873.6,284.1 L875.1,283.9 L876.6,283.7 L878.1,283.5 L879.5,283.3 L881.0,283.1 L882.5,282.9 L884.0,282.8 L885.5,282.6 L887.0,282.4 L888.4,282.2 L889.9,281.9 L891.4,281.7 L892.9,281.4 L894.4,281.1 L895.8,280.8 L897.3,280.5 L898.8,280.2 L900.2,279.8 L901.7,279.5 L903.1,279.1 L904.6,278.8 L906.1,278.5 L907.5,278.3 L909.0,278.0 L910.5,277.8 L911.9,277.6 L913.4,277.4 L914.9,277.2 L916.3,277.1 L917.8,277.0 L919.3,276.9 L920.8,276.8 L922.2,276.7 L923.7,276.7 L925.2,276.6 L926.7,276.6 L928.2,276.6 L929.7,276.7 L931.2,276.7 L932.6,276.7 L934.1,276.8 L935.6,276.9 L937.1,277.0 L938.6,277.1 L940.1,277.2 L941.6,277.3 L943.1,277.5 L944.6,277.6 L946.1,277.8 L947.6,278.0 L949.1,278.2 L950.6,278.3 L952.1,278.5 L953.6,278.6 L955.0,278.8 L956.5,278.8 L957.9,278.8 L959.3,278.8 L960.7,278.7 L962.0,278.5 L963.3,278.2 L964.6,277.8 L965.8,277.4 L966.9,276.8 L968.1,276.1 L969.1,275.2 L970.1,274.3 L971.1,273.2 L972.1,272.1 L973.0,270.9 L973.9,269.7 L974.7,268.3 L975.6,267.0 L976.4,265.6 L977.3,264.3 L978.1,262.9 L978.9,261.5 L979.8,260.2 L980.6,258.8 L981.5,257.5 L982.3,256.2 L983.2,254.9 L984.0,253.6 L984.9,252.3 L985.7,251.0 L986.6,249.7 L987.4,248.5 L988.3,247.2 L989.1,246.0 L990.0,244.7 L990.8,243.5 L991.7,242.2 L992.6,241.0 L993.4,239.8 L994.3,238.6 L995.1,237.3 L996.0,236.1 L996.8,234.9 L997.7,233.7 L998.5,232.5 L999.3,231.2 L1000.2,230.0 L1001.0,228.8 L1001.8,227.5 L1002.7,226.3 L1003.5,225.1 L1004.3,223.8 L1005.1,222.6 L1005.9,221.3 L1006.7,220.1 L1007.5,218.8 L1008.3,217.6 L1009.1,216.3 L1009.9,215.0 L1010.7,213.8 L1011.5,212.5 L1012.3,211.2 L1013.1,209.9 L1013.8,208.7 L1014.6,207.4 L1015.4,206.1 L1016.1,204.8 L1016.9,203.5 L1017.6,202.2 L1018.4,200.9 L1019.1,199.6 L1019.9,198.3 L1020.6,197.0 L1021.3,195.7 L1022.0,194.4 L1022.8,193.1 L1023.5,191.8 L1024.2,190.5 L1024.9,189.1 L1025.6,187.8 L1026.3,186.5 L1027.0,185.2 L1027.7,183.8 L1028.4,182.5 L1029.0,181.1 L1029.7,179.8 L1030.4,178.5 L1031.0,177.1 L1031.7,175.8 L1032.3,174.4 L1033.0,173.1 L1033.6,171.7 L1034.2,170.4 L1034.9,169.0 L1035.5,167.6 L1036.1,166.3 L1036.7,164.9 L1037.3,163.5 L1037.9,162.2 L1038.5,160.8 L1039.1,159.4 L1039.7,158.0 L1040.3,156.6 L1040.9,155.3 L1041.4,153.9 L1042.0,152.5 L1042.5,151.1 L1043.1,149.7 L1043.6,148.3 L1044.2,146.9 L1044.7,145.5 L1045.2,144.1 L1045.8,142.7 L1046.3,141.3 L1046.8,139.9 L1047.3,138.5 L1047.8,137.1 L1048.3,135.6 L1048.7,134.2 L1049.2,132.8 L1049.7,131.4 L1050.1,130.0 L1050.6,128.5 L1051.0,127.1 L1051.5,125.7 L1051.9,124.2 L1052.3,122.8 L1052.8,121.4 L1053.2,119.9 L1053.6,118.5 L1054.0,117.1 L1054.4,115.6 L1054.8,114.2 L1055.2,112.7 L1055.6,111.3 L1055.9,109.8 L1056.3,108.4 L1056.7,106.9 L1057.0,105.5 L1057.4,104.0 L1057.7,102.6 L1058.1,101.1 L1058.4,99.6 L1058.8,98.2 L1059.1,96.7 L1059.5,95.3 L1059.8,93.8 L1060.1,92.3 L1060.5,90.9 L1060.8,89.4 L1061.1,88.0 L1061.4,86.5 L1061.7,85.0 L1062.1,83.6 L1062.4,82.1 L1062.7,80.6 L1063.0,79.2 L1063.3,77.7 L1063.6,76.2 L1063.9,74.8 L1064.2,73.3 L1064.5,71.8 L1064.9,70.3 L1065.2,68.9 L1065.5,67.4 L1065.8,65.9 L1066.1,64.5 L1066.4,63.0 L1066.7,61.5 L1067.0,60.1 L1067.3,58.6 L1067.6,57.1 L1068.0,55.7 L1068.3,54.2 L1068.6,52.7 L1068.9,51.3 L1069.2,49.8 L1069.6,48.3 L1069.9,46.9 L1070.2,45.4 L1070.5,44.0 L1070.9,42.5 L1071.2,41.0 L1071.6,39.6 L1071.9,38.1 L1072.3,36.7 L1072.6,35.2 L1073.0,33.8 L1073.3,32.3 L1073.7,30.9 L1074.1,29.4 L1074.5,28.0 L1074.8,26.5 L1075.2,25.1 L1075.6,23.7 L1076.0,22.2 L1076.4,20.8 L1076.8,19.3 L1077.2,17.9" stroke="#c0c0c0" stroke-width="7.5"/>
<path d="M409.2,629.3 L410.7,629.1 L412.2,628.9 L413.7,628.6 L415.1,628.4 L416.6,628.1 L418.1,627.8 L419.6,627.5 L421.1,627.2 L422.5,626.9 L424.0,626.6 L425.5,626.3 L427.0,626.0 L428.5,625.7 L430.0,625.4 L431.5,625.1 L432.9,624.9 L434.4,624.6 L435.9,624.4 L437.4,624.1 L438.9,623.9 L440.4,623.7 L441.9,623.6 L443.3,623.4 L444.8,623.3 L446.3,623.3 L447.8,623.2 L449.3,623.2 L450.8,623.2 L452.2,623.3 L453.7,623.4 L455.2,623.6 L456.7,623.8 L458.1,624.0 L459.6,624.3 L461.1,624.6 L462.6,624.9 L464.0,625.3 L465.5,625.6 L467.0,625.9 L468.4,626.3 L469.9,626.6 L471.4,626.9 L472.8,627.2 L474.3,627.4 L475.8,627.7 L477.3,627.9 L478.7,628.1 L480.2,628.3 L481.7,628.4 L483.1,628.5 L484.6,628.6 L486.1,628.7 L487.6,628.8 L489.0,628.8 L490.5,628.9 L492.0,628.9 L493.4,628.9 L494.9,628.9 L496.4,628.8 L497.9,628.7 L499.3,628.7 L500.8,628.6 L502.3,628.4 L503.7,628.3 L505.2,628.2 L506.7,628.0 L508.1,627.8 L509.6,627.6 L511.0,627.4 L512.5,627.2 L514.0,626.9 L515.4,626.7 L516.9,626.4 L518.3,626.1 L519.8,625.8 L521.3,625.5 L522.7,625.2 L524.2,624.8 L525.6,624.5 L527.1,624.1 L528.5,623.7 L529.9,623.4 L531.4,623.0 L532.8,622.6 L534.3,622.3 L535.7,621.9 L537.2,621.5 L538.6,621.2 L540.1,620.8 L541.5,620.5 L543.0,620.1 L544.5,619.8 L545.9,619.5 L547.4,619.3 L548.9,619.0 L550.3,618.8 L551.8,618.6 L553.3,618.4 L554.8,618.3 L556.2,618.2 L557.7,618.1 L559.2,618.0 L560.7,618.0 L562.2,618.0 L563.7,618.1 L565.2,618.1 L566.8,618.2 L568.3,618.2 L569.8,618.3 L571.3,618.3 L572.8,618.3 L574.3,618.3 L575.8,618.3 L577.3,618.3 L578.8,618.2 L580.3,618.1 L581.7,618.0 L583.2,617.8 L584.7,617.5 L586.1,617.3 L587.6,617.0 L589.0,616.6 L590.5,616.3 L591.9,615.9 L593.4,615.5 L594.8,615.0 L596.2,614.6 L597.7,614.2 L599.1,613.7 L600.5,613.3 L602.0,612.8 L603.4,612.3 L604.8,611.9 L606.3,611.5 L607.7,611.0 L609.1,610.6 L610.6,610.3 L612.0,609.9 L613.5,609.6 L614.9,609.2 L616.4,609.0 L617.9,608.7 L619.3,608.5 L620.8,608.4 L622.3,608.2 L623.8,608.1 L625.3,608.0 L626.8,607.9 L628.3,607.8 L629.7,607.7 L631.2,607.7 L632.7,607.7 L634.2,607.6 L635.7,607.6 L637.2,607.5 L638.7,607.5 L640.2,607.4 L641.7,607.4 L643.2,607.3 L644.7,607.2 L646.2,607.1 L647.7,607.0 L649.1,606.8 L650.6,606.6 L652.1,606.4 L653.6,606.2 L655.0,605.9 L656.5,605.6 L657.9,605.2 L659.4,604.9 L660.8,604.5 L662.3,604.1 L663.7,603.7 L665.2,603.3 L666.6,602.9 L668.0,602.5 L669.5,602.1 L670.9,601.7 L672.4,601.3 L673.8,600.9 L675.3,600.5 L676.7,600.1 L678.2,599.7 L679.6,599.3 L681.1,599.0 L682.5,598.6 L684.0,598.2 L685.4,597.8 L686.9,597.5 L688.3,597.1 L689.8,596.7 L691.2,596.4 L692.7,596.0 L694.1,595.7 L695.6,595.3 L697.1,594.9 L698.5,594.6 L700.0,594.2 L701.4,593.9 L702.9,593.5 L704.3,593.1 L705.8,592.8 L707.2,592.4 L708.7,592.1 L710.1,591.7 L711.6,591.3 L713.0,591.0 L714.5,590.6 L715.9,590.2 L717.4,589.9 L718.8,589.5 L720.3,589.1 L721.7,588.7 L723.2,588.4 L724.6,588.0 L726.1,587.6 L727.5,587.2 L728.9,586.8 L730.4,586.4 L731.8,586.0 L733.3,585.6 L734.7,585.2 L736.1,584.7 L737.6,584.3 L739.0,583.9 L740.4,583.4 L741.8,583.0 L743.3,582.6 L744.7,582.1 L746.1,581.6 L747.5,581.2 L749.0,580.7 L750.4,580.2 L751.8,579.7 L753.2,579.3 L754.6,578.8 L756.1,578.3 L757.5,577.8 L758.9,577.2 L760.3,576.7 L761.7,576.2 L763.1,575.7 L764.5,575.1 L765.9,574.6 L767.3,574.1 L768.7,573.5 L770.1,573.0 L771.5,572.4 L772.9,571.8 L774.2,571.3 L775.6,570.7 L777.0,570.1 L778.4,569.5 L779.8,568.9 L781.1,568.3 L782.5,567.7 L783.9,567.1 L785.3,566.5 L786.6,565.9 L788.0,565.3 L789.4,564.6 L790.7,564.0 L792.1,563.4 L793.4,562.7 L794.8,562.1 L796.1,561.4 L797.5,560.7 L798.8,560.1 L800.2,559.4 L801.5,558.7 L802.8,558.1 L804.2,557.4 L805.5,556.7 L806.8,556.0 L808.2,555.3 L809.5,554.6 L810.8,553.9 L812.1,553.2 L813.5,552.5 L814.8,551.7 L816.1,551.0 L817.4,550.3 L818.7,549.5 L820.0,548.8 L821.3,548.0 L822.6,547.3 L823.9,546.5 L825.2,545.8 L826.5,545.0 L827.7,544.2 L829.0,543.5 L830.3,542.7 L831.6,541.9 L832.8,541.1 L834.1,540.3 L835.4,539.5 L836.6,538.7 L837.9,537.9 L839.2,537.1 L840.4,536.3 L841.7,535.5 L842.9,534.7 L844.1,533.9 L845.4,533.0 L846.6,532.2 L847.9,531.4 L849.1,530.5 L850.3,529.7 L851.6,528.8 L852.8,528.0 L854.0,527.2 L855.3,526.3 L856.5,525.5 L857.7,524.6 L858.9,523.8 L860.2,522.9 L861.4,522.0 L862.6,521.2 L863.8,520.3 L865.0,519.5 L866.3,518.6 L867.5,517.7 L868.7,516.9 L869.9,516.0 L871.1,515.2 L872.4,514.3 L873.6,513.5 L874.8,512.6 L876.0,511.7 L877.3,510.9 L878.5,510.0 L879.7,509.2 L881.0,508.3 L882.2,507.5 L883.4,506.6 L884.7,505.8 L885.9,504.9 L887.2,504.1 L888.4,503.3 L889.6,502.4 L890.9,501.6 L892.1,500.7 L893.4,499.9 L894.6,499.0 L895.8,498.1 L897.0,497.3 L898.2,496.4 L899.5,495.5 L900.7,494.6 L901.9,493.7 L903.0,492.8 L904.2,491.9 L905.4,490.9 L906.5,490.0 L907.7,489.0 L908.8,488.0 L909.9,487.0 L911.0,486.0 L912.1,484.9 L913.1,483.9 L914.2,482.8 L915.2,481.7 L916.2,480.6 L917.2,479.5 L918.2,478.3 L919.2,477.2 L920.1,476.0 L921.0,474.8 L921.9,473.6 L922.8,472.4 L923.7,471.2 L924.5,470.0 L925.4,468.8 L926.2,467.6 L927.0,466.3 L927.8,465.1 L928.6,463.8 L929.4,462.5 L930.1,461.3 L930.9,460.0 L931.6,458.7 L932.3,457.4 L933.1,456.1 L933.8,454.8 L934.5,453.5 L935.2,452.2 L935.8,450.8 L936.5,449.5 L937.2,448.2 L937.8,446.8 L938.5,445.5 L939.1,444.2 L939.8,442.8 L940.4,441.5 L941.1,440.1 L941.7,438.8 L942.3,437.4 L943.0,436.0 L943.6,434.7 L944.2,433.3 L944.8,431.9 L945.5,430.6 L946.1,429.2 L946.7,427.9 L947.4,426.5 L948.0,425.1 L948.7,423.8 L949.3,422.4 L949.9,421.0 L950.6,419.7 L951.3,418.3 L951.9,417.0 L952.6,415.6 L953.3,414.2 L953.9,412.9 L954.6,411.5 L955.3,410.2 L955.9,408.8 L956.6,407.5 L957.3,406.1 L958.0,404.8 L958.6,403.4 L959.3,402.1 L960.0,400.7 L960.7,399.4 L961.4,398.0 L962.0,396.7 L962.7,395.3 L963.4,393.9 L964.0,392.6 L964.7,391.2 L965.4,389.9 L966.0,388.5 L966.7,387.2 L967.3,385.8 L968.0,384.4 L968.6,383.1 L969.3,381.7 L969.9,380.3 L970.5,379.0 L971.2,377.6 L971.8,376.2 L972.4,374.9 L973.0,373.5 L973.6,372.1 L974.2,370.7 L974.8,369.4 L975.4,368.0 L976.0,366.6 L976.6,365.2 L977.2,363.8 L977.7,362.4 L978.3,361.1 L978.9,359.7 L979.4,358.3 L980.0,356.9 L980.5,355.5 L981.1,354.1 L981.6,352.7 L982.2,351.3 L982.7,349.9 L983.3,348.5 L983.8,347.1 L984.3,345.7 L984.8,344.3 L985.4,342.9 L985.9,341.5 L986.4,340.1 L986.9,338.7 L987.4,337.3 L987.9,335.9 L988.4,334.5 L988.9,333.1 L989.4,331.7 L989.9,330.3 L990.3,328.9 L990.8,327.4 L991.3,326.0 L991.8,324.6 L992.2,323.2 L992.7,321.8 L993.2,320.4 L993.6,318.9 L994.1,317.5 L994.5,316.1 L995.0,314.7 L995.4,313.2 L995.9,311.8 L996.3,310.4 L996.7,309.0 L997.2,307.5 L997.6,306.1 L998.0,304.7 L998.4,303.2 L998.9,301.8 L999.3,300.4 L999.7,298.9 L1000.1,297.5 L1000.5,296.1 L1000.9,294.6 L1001.3,293.2 L1001.7,291.8 L1002.1,290.3 L1002.5,288.9 L1002.9,287.4 L1003.3,286.0 L1003.7,284.6 L1004.1,283.1 L1004.4,281.7 L1004.8,280.2 L1005.2,278.8 L1005.6,277.3 L1005.9,275.9 L1006.3,274.4 L1006.7,273.0 L1007.0,271.5 L1007.4,270.1 L1007.8,268.6 L1008.1,267.2 L1008.5,265.7 L1008.8,264.3 L1009.2,262.8 L1009.5,261.4 L1009.9,259.9 L1010.2,258.5 L1010.5,257.0 L1010.9,255.5 L1011.2,254.1 L1011.6,252.6 L1011.9,251.2 L1012.2,249.7 L1012.6,248.3 L1012.9,246.8 L1013.2,245.3 L1013.5,243.9 L1013.9,242.4 L1014.2,240.9 L1014.5,239.5 L1014.8,238.0 L1015.1,236.6 L1015.4,235.1 L1015.7,233.6 L1016.1,232.2 L1016.4,230.7 L1016.7,229.2 L1017.0,227.8 L1017.3,226.3 L1017.6,224.8 L1017.9,223.4 L1018.2,221.9 L1018.5,220.4 L1018.8,218.9 L1019.1,217.5 L1019.4,216.0 L1019.7,214.5 L1019.9,213.1 L1020.2,211.6 L1020.5,210.1 L1020.8,208.6 L1021.1,207.2 L1021.4,205.7 L1021.7,204.2 L1022.0,202.8 L1022.2,201.3 L1022.5,199.8 L1022.8,198.3 L1023.1,196.9 L1023.4,195.4 L1023.6,193.9 L1023.9,192.4 L1024.2,191.0 L1024.5,189.5 L1024.7,188.0 L1025.0,186.5 L1025.3,185.1 L1025.6,183.6 L1025.8,182.1 L1026.1,180.6 L1026.4,179.1 L1026.6,177.7 L1026.9,176.2 L1027.2,174.7 L1027.5,173.2 L1027.7,171.8 L1028.0,170.3 L1028.3,168.8 L1028.5,167.3 L1028.8,165.8 L1029.1,164.4 L1029.3,162.9 L1029.6,161.4 L1029.9,159.9 L1030.1,158.5 L1030.4,157.0 L1030.7,155.5 L1030.9,154.0 L1031.2,152.5 L1031.5,151.1 L1031.7,149.6 L1032.0,148.1 L1032.3,146.6 L1032.5,145.2 L1032.8,143.7 L1033.1,142.2 L1033.3,140.7 L1033.6,139.2 L1033.9,137.8 L1034.1,136.3 L1034.4,134.8 L1034.7,133.3 L1034.9,131.9 L1035.2,130.4 L1035.5,128.9 L1035.7,127.4 L1036.0,126.0 L1036.3,124.5 L1036.6,123.0 L1036.8,121.5 L1037.1,120.0 L1037.4,118.6 L1037.7,117.1 L1037.9,115.6 L1038.2,114.1 L1038.5,112.7 L1038.8,111.2 L1039.0,109.7 L1039.3,108.3 L1039.6,106.8 L1039.9,105.3 L1040.2,103.8 L1040.4,102.4 L1040.7,100.9 L1041.0,99.4 L1041.3,97.9 L1041.6,96.5 L1041.9,95.0 L1042.2,93.5 L1042.4,92.1 L1042.7,90.6 L1043.0,89.1 L1043.3,87.7 L1043.6,86.2 L1043.9,84.7 L1044.2,83.3 L1044.5,81.8 L1044.8,80.3 L1045.1,78.9 L1045.4,77.4 L1045.7,75.9 L1046.0,74.5 L1046.3,73.0 L1046.6,71.5 L1047.0,70.1 L1047.3,68.6 L1047.6,67.1 L1047.9,65.7 L1048.2,64.2 L1048.5,62.8 L1048.9,61.3 L1049.2,59.8 L1049.5,58.4 L1049.8,56.9 L1050.2,55.5 L1050.5,54.0 L1050.8,52.6 L1051.2,51.1 L1051.5,49.7 L1051.8,48.2 L1052.2,46.7 L1052.5,45.3 L1052.9,43.8 L1053.2,42.4 L1053.6,40.9 L1053.9,39.5 L1054.3,38.0 L1054.6,36.6 L1055.0,35.1 L1055.3,33.7 L1055.7,32.3 L1056.1,30.8 L1056.4,29.4 L1056.8,27.9 L1057.2,26.5 L1057.6,25.0 L1057.9,23.6 L1058.3,22.2 L1058.7,20.7 L1059.1,19.3 L1059.5,17.8" stroke="#ff00ff" stroke-width="7.5"/>
<path d="M409.1,608.0 L410.6,608.0 L412.1,607.9 L413.6,607.9 L415.1,607.8 L416.6,607.8 L418.1,607.7 L419.7,607.6 L421.2,607.5 L422.7,607.5 L424.2,607.4 L425.7,607.3 L427.2,607.2 L428.7,607.1 L430.2,607.0 L431.7,606.9 L433.2,606.7 L434.7,606.6 L436.2,606.5 L437.7,606.4 L439.2,606.2 L440.7,606.1 L442.2,605.9 L443.7,605.8 L445.2,605.6 L446.7,605.4 L448.2,605.3 L449.7,605.1 L451.2,604.9 L452.7,604.7 L454.2,604.5 L455.7,604.3 L457.2,604.1 L458.6,603.9 L460.1,603.6 L461.6,603.4 L463.1,603.2 L464.6,602.9 L466.1,602.7 L467.5,602.4 L469.0,602.1 L470.5,601.9 L472.0,601.6 L473.5,601.3 L474.9,601.0 L476.4,600.7 L477.9,600.4 L479.3,600.1 L480.8,599.8 L482.3,599.5 L483.7,599.1 L485.2,598.8 L486.6,598.5 L488.1,598.1 L489.5,597.8 L491.0,597.4 L492.4,597.0 L493.9,596.6 L495.3,596.2 L496.8,595.9 L498.2,595.4 L499.6,595.0 L501.1,594.6 L502.5,594.2 L503.9,593.8 L505.4,593.3 L506.8,592.9 L508.2,592.4 L509.6,592.0 L511.0,591.5 L512.4,591.0 L513.8,590.5 L515.3,590.0 L516.7,589.5 L518.1,589.0 L519.4,588.5 L520.8,588.0 L522.2,587.4 L523.6,586.9 L525.0,586.3 L526.4,585.8 L527.7,585.2 L529.1,584.6 L530.5,584.0 L531.8,583.4 L533.2,582.8 L534.5,582.2 L535.9,581.6 L537.2,581.0 L538.6,580.4 L539.9,579.7 L541.3,579.1 L542.6,578.4 L543.9,577.7 L545.2,577.0 L546.6,576.4 L547.9,575.7 L549.2,574.9 L550.5,574.2 L551.8,573.5 L553.1,572.8 L554.4,572.0 L555.7,571.3 L556.9,570.5 L558.2,569.7 L559.5,569.0 L560.8,568.2 L562.0,567.4 L563.3,566.6 L564.5,565.8 L565.8,564.9 L567.0,564.1 L568.3,563.2 L569.5,562.4 L570.7,561.5 L571.9,560.6 L573.2,559.8 L574.4,558.9 L575.6,558.0 L576.8,557.1 L578.0,556.1 L579.2,555.2 L580.3,554.3 L581.5,553.3 L582.7,552.4 L583.9,551.4 L585.0,550.4 L586.2,549.5 L587.3,548.5 L588.5,547.5 L589.6,546.5 L590.7,545.5 L591.9,544.5 L593.0,543.5 L594.1,542.4 L595.2,541.4 L596.3,540.4 L597.4,539.3 L598.5,538.3 L599.6,537.2 L600.7,536.1 L601.7,535.1 L602.8,534.0 L603.9,532.9 L604.9,531.8 L605.9,530.7 L607.0,529.6 L608.0,528.5 L609.0,527.4 L610.1,526.3 L611.1,525.1 L612.1,524.0 L613.1,522.9 L614.1,521.7 L615.1,520.6 L616.0,519.5 L617.0,518.3 L618.0,517.2 L618.9,516.0 L619.9,514.8 L620.8,513.7 L621.7,512.5 L622.7,511.3 L623.6,510.1 L624.5,509.0 L625.4,507.8 L626.3,506.6 L627.2,505.4 L628.1,504.2 L629.0,503.0 L629.9,501.8 L630.7,500.6 L631.6,499.4 L632.4,498.1 L633.3,496.9 L634.1,495.7 L635.0,494.5 L635.8,493.2 L636.6,492.0 L637.5,490.8 L638.3,489.5 L639.1,488.3 L639.9,487.0 L640.7,485.8 L641.5,484.5 L642.3,483.3 L643.1,482.0 L643.9,480.8 L644.7,479.5 L645.5,478.2 L646.2,477.0 L647.0,475.7 L647.8,474.4 L648.6,473.1 L649.3,471.9 L650.1,470.6 L650.8,469.3 L651.6,468.0 L652.3,466.7 L653.1,465.4 L653.8,464.1 L654.6,462.8 L655.3,461.5 L656.1,460.2 L656.8,458.9 L657.5,457.6 L658.3,456.3 L659.0,455.0 L659.7,453.7 L660.5,452.3 L661.2,451.0 L661.9,449.7 L662.7,448.4 L663.4,447.1 L664.2,445.8 L664.9,444.5 L665.7,443.2 L666.4,441.9 L667.2,440.7 L667.9,439.4 L668.7,438.1 L669.5,436.8 L670.2,435.5 L671.0,434.3 L671.8,433.0 L672.5,431.7 L673.3,430.4 L674.1,429.2 L674.9,427.9 L675.6,426.6 L676.4,425.4 L677.2,424.1 L678.0,422.9 L678.8,421.6 L679.6,420.3 L680.3,419.1 L681.1,417.8 L681.9,416.6 L682.7,415.3 L683.5,414.1 L684.3,412.8 L685.1,411.6 L685.9,410.3 L686.7,409.1 L687.5,407.8 L688.3,406.6 L689.1,405.3 L689.9,404.1 L690.7,402.8 L691.5,401.6 L692.3,400.3 L693.1,399.1 L693.9,397.8 L694.7,396.6 L695.5,395.3 L696.3,394.1 L697.1,392.8 L697.9,391.6 L698.7,390.3 L699.5,389.1 L700.3,387.8 L701.1,386.6 L701.9,385.3 L702.7,384.0 L703.5,382.8 L704.3,381.5 L705.1,380.3 L705.9,379.0 L706.7,377.7 L707.5,376.5 L708.3,375.2 L709.1,373.9 L709.9,372.6 L710.7,371.4 L711.5,370.1 L712.2,368.8 L713.0,367.5 L713.8,366.2 L714.6,364.9 L715.4,363.6 L716.2,362.4 L716.9,361.1 L717.7,359.8 L718.5,358.4 L719.3,357.1 L720.0,355.8 L720.8,354.5 L721.6,353.2 L722.3,351.9 L723.1,350.6 L723.9,349.2 L724.6,347.9 L725.4,346.6 L726.2,345.2 L726.9,343.9 L727.7,342.6 L728.4,341.2 L729.2,339.9 L730.0,338.6 L730.7,337.2 L731.5,335.9 L732.3,334.6 L733.1,333.3 L733.8,332.0 L734.6,330.6 L735.4,329.3 L736.2,328.0 L737.0,326.7 L737.8,325.4 L738.6,324.1 L739.4,322.8 L740.2,321.6 L741.0,320.3 L741.9,319.0 L742.7,317.8 L743.5,316.5 L744.4,315.3 L745.2,314.0 L746.1,312.8 L747.0,311.6 L747.9,310.4 L748.8,309.2 L749.7,308.0 L750.6,306.8 L751.5,305.7 L752.4,304.5 L753.4,303.4 L754.3,302.2 L755.3,301.1 L756.3,300.0 L757.2,298.9 L758.2,297.9 L759.3,296.8 L760.3,295.8 L761.3,294.7 L762.4,293.7 L763.4,292.7 L764.5,291.8 L765.6,290.8 L766.7,289.9 L767.9,289.0 L769.0,288.1 L770.2,287.2 L771.3,286.3 L772.5,285.5 L773.7,284.6 L775.0,283.8 L776.2,283.0 L777.5,282.3 L778.7,281.5 L780.0,280.8 L781.3,280.1 L782.7,279.4 L784.0,278.8 L785.4,278.2 L786.7,277.6 L788.1,277.0 L789.5,276.4 L790.9,275.9 L792.3,275.4 L793.7,274.9 L795.1,274.4 L796.5,274.0 L798.0,273.6 L799.4,273.2 L800.9,272.9 L802.3,272.6 L803.8,272.3 L805.2,272.0 L806.7,271.7 L808.2,271.5 L809.6,271.3 L811.1,271.2 L812.6,271.1 L814.1,270.9 L815.6,270.9 L817.0,270.8 L818.5,270.8 L820.0,270.7 L821.5,270.7 L823.0,270.8 L824.5,270.8 L826.0,270.9 L827.5,270.9 L829.0,271.0 L830.5,271.1 L832.0,271.2 L833.5,271.4 L835.0,271.5 L836.5,271.7 L838.0,271.8 L839.5,272.0 L841.0,272.2 L842.5,272.4 L844.0,272.6 L845.5,272.8 L847.0,273.0 L848.5,273.2 L850.0,273.4 L851.6,273.6 L853.1,273.8 L854.6,274.1 L856.1,274.3 L857.6,274.5 L859.1,274.7 L860.6,274.9 L862.2,275.1 L863.7,275.3 L865.2,275.5 L866.7,275.7 L868.2,275.9 L869.8,276.1 L871.3,276.2 L872.8,276.4 L874.3,276.5 L875.8,276.7 L877.3,276.8 L878.9,276.9 L880.4,277.0 L881.9,277.1 L883.4,277.1 L884.9,277.1 L886.4,277.2 L887.9,277.2 L889.5,277.1 L891.0,277.1 L892.5,277.0 L894.0,277.0 L895.5,276.8 L897.0,276.7 L898.5,276.6 L900.0,276.4 L901.5,276.2 L903.0,276.0 L904.5,275.7 L905.9,275.5 L907.4,275.2 L908.9,274.9 L910.3,274.5 L911.7,274.1 L913.2,273.8 L914.6,273.3 L916.0,272.9 L917.4,272.4 L918.8,271.9 L920.2,271.4 L921.6,270.9 L922.9,270.3 L924.3,269.7 L925.6,269.0 L926.9,268.4 L928.2,267.7 L929.5,267.0 L930.8,266.2 L932.1,265.4 L933.3,264.6 L934.5,263.8 L935.7,262.9 L936.9,262.1 L938.1,261.1 L939.3,260.2 L940.4,259.3 L941.6,258.3 L942.7,257.3 L943.8,256.3 L944.9,255.3 L946.0,254.2 L947.1,253.2 L948.1,252.1 L949.2,251.0 L950.2,249.9 L951.3,248.8 L952.3,247.7 L953.3,246.6 L954.3,245.5 L955.3,244.4 L956.3,243.3 L957.3,242.1 L958.2,241.0 L959.2,239.8 L960.2,238.7 L961.1,237.5 L962.0,236.4 L963.0,235.2 L963.9,234.0 L964.8,232.8 L965.7,231.7 L966.6,230.5 L967.5,229.3 L968.3,228.1 L969.2,226.9 L970.1,225.6 L970.9,224.4 L971.7,223.2 L972.6,222.0 L973.4,220.7 L974.2,219.5 L975.0,218.3 L975.8,217.0 L976.6,215.8 L977.4,214.5 L978.2,213.2 L979.0,212.0 L979.8,210.7 L980.5,209.4 L981.3,208.2 L982.0,206.9 L982.8,205.6 L983.5,204.3 L984.2,203.0 L984.9,201.7 L985.7,200.4 L986.4,199.1 L987.1,197.8 L987.8,196.4 L988.4,195.1 L989.1,193.8 L989.8,192.5 L990.5,191.1 L991.1,189.8 L991.8,188.5 L992.4,187.1 L993.1,185.8 L993.7,184.4 L994.4,183.1 L995.0,181.7 L995.6,180.4 L996.2,179.0 L996.8,177.6 L997.5,176.3 L998.1,174.9 L998.7,173.5 L999.2,172.1 L999.8,170.8 L1000.4,169.4 L1001.0,168.0 L1001.6,166.6 L1002.1,165.2 L1002.7,163.8 L1003.3,162.4 L1003.8,161.0 L1004.4,159.6 L1004.9,158.2 L1005.5,156.8 L1006.0,155.4 L1006.5,154.0 L1007.1,152.6 L1007.6,151.2 L1008.1,149.8 L1008.6,148.3 L1009.1,146.9 L1009.6,145.5 L1010.2,144.1 L1010.7,142.6 L1011.2,141.2 L1011.7,139.8 L1012.2,138.4 L1012.6,136.9 L1013.1,135.5 L1013.6,134.1 L1014.1,132.6 L1014.6,131.2 L1015.1,129.8 L1015.5,128.3 L1016.0,126.9 L1016.5,125.4 L1016.9,124.0 L1017.4,122.5 L1017.9,121.1 L1018.3,119.7 L1018.8,118.2 L1019.2,116.8 L1019.7,115.3 L1020.1,113.9 L1020.6,112.4 L1021.0,111.0 L1021.5,109.5 L1021.9,108.1 L1022.4,106.6 L1022.8,105.2 L1023.2,103.7 L1023.7,102.3 L1024.1,100.8 L1024.6,99.4 L1025.0,97.9 L1025.4,96.5 L1025.8,95.0 L1026.3,93.6 L1026.7,92.1 L1027.1,90.7 L1027.6,89.2 L1028.0,87.8 L1028.4,86.3 L1028.9,84.9 L1029.3,83.4 L1029.7,82.0 L1030.1,80.5 L1030.6,79.1 L1031.0,77.7 L1031.4,76.2 L1031.8,74.8 L1032.3,73.3 L1032.7,71.9 L1033.1,70.4 L1033.5,69.0 L1034.0,67.6 L1034.4,66.1 L1034.8,64.7 L1035.2,63.3 L1035.7,61.8 L1036.1,60.4 L1036.5,59.0 L1037.0,57.6 L1037.4,56.1 L1037.8,54.7 L1038.3,53.3 L1038.7,51.9 L1039.1,50.4 L1039.6,49.0 L1040.0,47.6 L1040.5,46.2 L1040.9,44.8 L1041.3,43.4 L1041.8,42.0 L1042.2,40.6 L1042.7,39.2 L1043.1,37.8 L1043.6,36.4 L1044.1,35.0 L1044.5,33.6 L1045.0,32.2 L1045.4,30.8 L1045.9,29.4 L1046.4,28.1 L1046.8,26.7 L1047.3,25.3 L1047.8,23.9 L1048.3,22.6 L1048.7,21.2 L1049.2,19.8 L1049.7,18.5" stroke="#000000" stroke-width="8.6"/>
<line x1="425.2" y1="637" x2="1025" y2="637" stroke="#000" stroke-width="4" stroke-dasharray="13.3 8.1" shape-rendering="crispEdges"/>
</g>
<g stroke="#000" fill="none" shape-rendering="crispEdges">
<rect x="411.3" y="36.5" width="687.7" height="641.7" stroke-width="6.4"/>
<line x1="411.3" y1="678.2" x2="411.3" y2="688.5" stroke-width="6"/>
<line x1="548.7" y1="678.2" x2="548.7" y2="684.0" stroke-width="6"/>
<line x1="686.1" y1="678.2" x2="686.1" y2="684.0" stroke-width="6"/>
<line x1="823.5" y1="678.2" x2="823.5" y2="688.5" stroke-width="6"/>
<line x1="960.9" y1="678.2" x2="960.9" y2="684.0" stroke-width="6"/>
<line x1="1098.3" y1="678.2" x2="1098.3" y2="684.0" stroke-width="6"/>
<line x1="400.3" y1="641.0" x2="411.3" y2="641.0" stroke-width="6.5"/>
<line x1="404.8" y1="399.2" x2="411.3" y2="399.2" stroke-width="6.5"/>
<line x1="400.3" y1="157.4" x2="411.3" y2="157.4" stroke-width="6.5"/>
</g>
<text class="ax" transform="translate(221,1852.1) scale(1,1.04)" text-anchor="end">0</text>
<text class="ax" transform="translate(221,1529.0) scale(1,1.04)" text-anchor="end">3</text>
<text class="ax" transform="translate(221,1206.0) scale(1,1.04)" text-anchor="end">6</text>
<text class="ax" transform="translate(221,883.0) scale(1,1.04)" text-anchor="end">9</text>
<text class="ax" transform="translate(221,560.0) scale(1,1.04)" text-anchor="end">12</text>
<text class="ax" transform="translate(221,237.0) scale(1,1.04)" text-anchor="end">15</text>
<text class="ax" transform="translate(762.0,2031) scale(1,1.04)" text-anchor="middle">2145</text>
<text class="ax" transform="translate(1460.8,2031) scale(1,1.04)" text-anchor="middle">2155</text>
<text class="ax" transform="translate(2159.5,2031) scale(1,1.04)" text-anchor="middle">2165</text>
<text class="ax" transform="translate(1251.7,2146.4) scale(1,1.025)" text-anchor="middle">Energy / eV</text>
<text class="ax" transform="translate(85.2,967.5) rotate(-90) scale(1,1.025)" text-anchor="middle">Normalized XANES</text>
<text class="in" transform="translate(391.3,176.7) scale(1,1.04)" text-anchor="end">0.4</text>
<text class="in" transform="translate(391.3,660.7) scale(1,1.04)" text-anchor="end">0.0</text>
<text class="in" transform="translate(412,745.8) scale(1,1.04)" text-anchor="middle">2145</text>
<text class="in" transform="translate(824.6,745.8) scale(1,1.04)" text-anchor="middle">2148</text>
<text class="st" transform="translate(789,281.3) scale(0.847,1)" text-anchor="middle">*</text>
<text class="st" transform="translate(963,832.9) scale(0.847,1)" text-anchor="middle">*</text>
<text class="lb" transform="translate(1598,623) scale(1,1.02)" text-anchor="start">CoCat (mean)</text>
<text class="lb" transform="translate(1506,918.8) scale(1,1.02)" text-anchor="start" fill="#767171">PO<tspan class="sub" dy="16.47">4</tspan><tspan dy="-16.47"> on FeO(OH)</tspan></text>
<text class="lb" transform="translate(335,1136) scale(1,1.02)" text-anchor="start" fill="#ff00ff">KP<tspan class="sub" dy="16.47">i</tspan><tspan dy="-16.47"> solution 2.5 M</tspan></text>
<text class="lb" transform="translate(315,1366) scale(1,1.02)" text-anchor="start" fill="#e97724">Co<tspan class="sub" dy="16.47">3</tspan><tspan dy="-16.47">(PO</tspan><tspan class="sub" dy="16.47">4</tspan><tspan dy="-16.47">)</tspan><tspan class="sub" dy="16.47">2</tspan><tspan dy="-16.47"> powder</tspan></text>
<text class="lb" transform="translate(1610,1336.8) scale(1,1.02)" text-anchor="start" fill="#008000">KH<tspan class="sub" dy="16.47">2</tspan><tspan dy="-16.47">PO</tspan><tspan class="sub" dy="16.47">4</tspan><tspan dy="-16.47"> powder</tspan></text>
<text class="lb" transform="translate(1623,1478.4) scale(1,1.02)" text-anchor="start" fill="#00c05a">NaPP powder</text>
<text class="lb" transform="translate(1678,1671.6) scale(1,1.02)" text-anchor="start" fill="#00b0f0">FeP powder</text>
<text class="lb" transform="translate(1637,1817.9) scale(1,1.02)" text-anchor="start" fill="#0000ff">Co<tspan class="sub" dy="16.47">2</tspan><tspan dy="-16.47">P powder</tspan></text>
<rect x="133.80" y="550.00" width="15.13" height="11.50" fill="#fff"/><rect x="160.18" y="550.00" width="14.09" height="11.50" fill="#fff"/>
<rect x="133.80" y="227.00" width="15.13" height="11.50" fill="#fff"/><rect x="160.18" y="227.00" width="14.09" height="11.50" fill="#fff"/>
<rect x="720.40" y="2021.00" width="15.13" height="11.50" fill="#fff"/><rect x="746.79" y="2021.00" width="14.09" height="11.50" fill="#fff"/>
<rect x="1419.20" y="2021.00" width="15.13" height="11.50" fill="#fff"/><rect x="1445.59" y="2021.00" width="14.09" height="11.50" fill="#fff"/>
<rect x="2117.90" y="2021.00" width="15.13" height="11.50" fill="#fff"/><rect x="2144.29" y="2021.00" width="14.09" height="11.50" fill="#fff"/>
<rect x="379.06" y="737.65" width="12.12" height="9.65" fill="#fff"/><rect x="400.03" y="737.65" width="11.30" height="9.65" fill="#fff"/>
<rect x="791.66" y="737.65" width="12.12" height="9.65" fill="#fff"/><rect x="812.63" y="737.65" width="11.30" height="9.65" fill="#fff"/>
</svg></body></html>
